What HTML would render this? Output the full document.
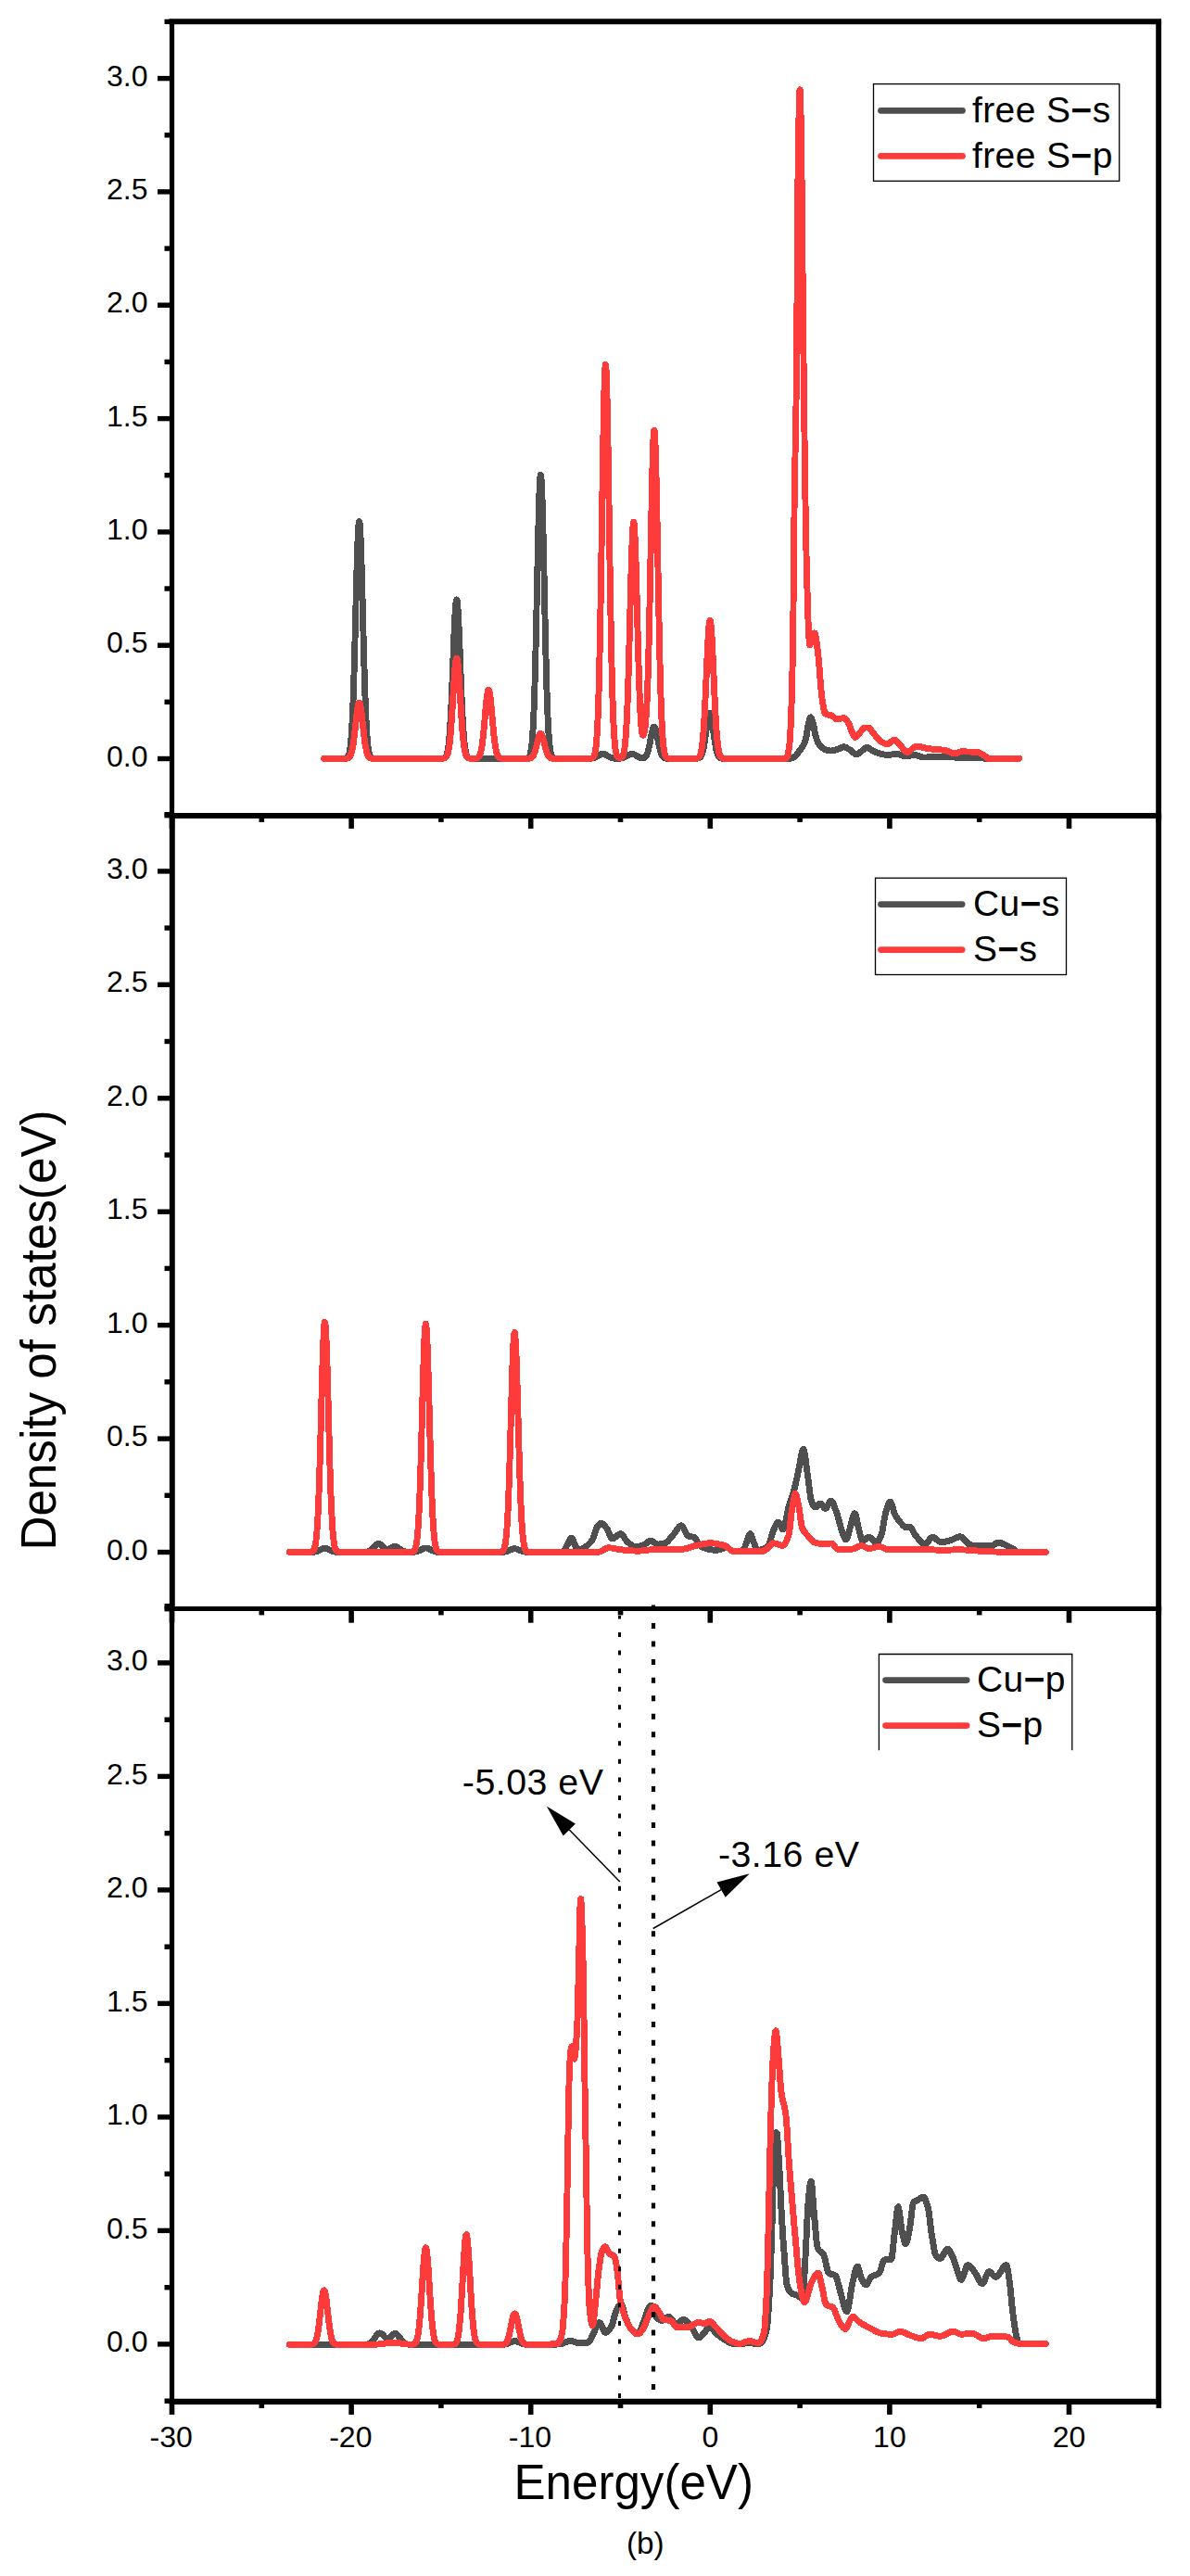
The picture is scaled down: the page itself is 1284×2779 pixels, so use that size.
<!DOCTYPE html>
<html lang="en">
<head>
<meta charset="utf-8">
<title>Density of states (b)</title>
<style>
html,body{margin:0;padding:0;background:#fff;}
body{width:1284px;height:2779px;overflow:hidden;}
svg{display:block;}
text{font-family:"Liberation Sans",Arial,Helvetica,sans-serif;}
</style>
</head>
<body>
<svg width="1284" height="2779" viewBox="0 0 1284 2779">
<rect x="0" y="0" width="1284" height="2779" fill="#ffffff"/>
<g id="curves" shape-rendering="crispEdges">
<polyline fill="none" stroke="#4f4f4f" stroke-width="6.9" stroke-linejoin="round" stroke-linecap="round" points="349.7,818.3 350.2,818.3 350.7,818.3 351.2,818.3 351.7,818.3 352.2,818.3 352.7,818.3 353.2,818.3 353.7,818.3 354.2,818.3 354.7,818.3 355.2,818.3 355.7,818.3 356.2,818.3 356.7,818.3 357.2,818.3 357.7,818.3 358.2,818.3 358.7,818.3 359.2,818.3 359.7,818.3 360.2,818.3 360.7,818.3 361.2,818.3 361.7,818.3 362.2,818.3 362.7,818.3 363.2,818.3 363.7,818.3 364.2,818.3 364.7,818.3 365.2,818.3 365.7,818.3 366.2,818.3 366.7,818.3 367.2,818.3 367.7,818.3 368.2,818.3 368.7,818.3 369.2,818.3 369.7,818.3 370.2,818.3 370.7,818.3 371.2,818.3 371.7,818.2 372.2,818.2 372.7,818.1 373.2,818.0 373.7,817.9 374.2,817.6 374.7,817.2 375.2,816.7 375.7,815.9 376.2,814.7 376.7,813.2 377.2,811.0 377.7,808.1 378.2,804.3 378.7,799.4 379.2,793.1 379.7,785.4 380.2,776.0 380.7,764.8 381.2,751.7 381.7,736.8 382.2,720.2 382.7,702.1 383.2,682.9 383.7,663.1 384.2,643.4 384.7,624.3 385.2,606.6 385.7,591.1 386.2,578.4 386.7,569.2 387.2,563.8 387.7,562.6 388.2,565.5 388.7,572.5 389.2,583.1 389.7,597.0 390.2,613.5 390.7,631.8 391.2,651.2 391.7,671.1 392.2,690.7 392.7,709.5 393.2,727.1 393.7,743.0 394.2,757.2 394.7,769.5 395.2,780.0 395.7,788.7 396.2,795.8 396.7,801.5 397.2,805.9 397.7,809.4 398.2,811.9 398.7,813.8 399.2,815.2 399.7,816.2 400.2,816.9 400.7,817.4 401.2,817.7 401.7,817.9 402.2,818.1 402.7,818.2 403.2,818.2 403.7,818.2 404.2,818.3 404.7,818.3 405.2,818.3 405.7,818.3 406.2,818.3 406.7,818.3 407.2,818.3 407.7,818.3 408.2,818.3 408.7,818.3 409.2,818.3 409.7,818.3 410.2,818.3 410.7,818.3 411.2,818.3 411.7,818.3 412.2,818.3 412.7,818.3 413.2,818.3 413.7,818.3 414.2,818.3 414.7,818.3 415.2,818.3 415.7,818.3 416.2,818.3 416.7,818.3 417.2,818.3 417.7,818.3 418.2,818.3 418.7,818.3 419.2,818.3 419.7,818.3 420.2,818.3 420.7,818.3 421.2,818.3 421.7,818.3 422.2,818.3 422.7,818.3 423.2,818.3 423.7,818.3 424.2,818.3 424.7,818.3 425.2,818.3 425.7,818.3 426.2,818.3 426.7,818.3 427.2,818.3 427.7,818.3 428.2,818.3 428.7,818.3 429.2,818.3 429.7,818.3 430.2,818.3 430.7,818.3 431.2,818.3 431.7,818.3 432.2,818.3 432.7,818.3 433.2,818.3 433.7,818.3 434.2,818.3 434.7,818.3 435.2,818.3 435.7,818.3 436.2,818.3 436.7,818.3 437.2,818.3 437.7,818.3 438.2,818.3 438.7,818.3 439.2,818.3 439.7,818.3 440.2,818.3 440.7,818.3 441.2,818.3 441.7,818.3 442.2,818.3 442.7,818.3 443.2,818.3 443.7,818.3 444.2,818.3 444.7,818.3 445.2,818.3 445.7,818.3 446.2,818.3 446.7,818.3 447.2,818.3 447.7,818.3 448.2,818.3 448.7,818.3 449.2,818.3 449.7,818.3 450.2,818.3 450.7,818.3 451.2,818.3 451.7,818.3 452.2,818.3 452.7,818.3 453.2,818.3 453.7,818.3 454.2,818.3 454.7,818.3 455.2,818.3 455.7,818.3 456.2,818.3 456.7,818.3 457.2,818.3 457.7,818.3 458.2,818.3 458.7,818.3 459.2,818.3 459.7,818.3 460.2,818.3 460.7,818.3 461.2,818.3 461.7,818.3 462.2,818.3 462.7,818.3 463.2,818.3 463.7,818.3 464.2,818.3 464.7,818.3 465.2,818.3 465.7,818.3 466.2,818.3 466.7,818.3 467.2,818.3 467.7,818.3 468.2,818.3 468.7,818.3 469.2,818.3 469.7,818.3 470.2,818.3 470.7,818.3 471.2,818.3 471.7,818.3 472.2,818.3 472.7,818.3 473.2,818.3 473.7,818.3 474.2,818.3 474.7,818.3 475.2,818.3 475.7,818.3 476.2,818.3 476.7,818.3 477.2,818.2 477.7,818.2 478.2,818.1 478.7,818.0 479.2,817.9 479.7,817.6 480.2,817.3 480.7,816.8 481.2,816.1 481.7,815.1 482.2,813.7 482.7,811.9 483.2,809.5 483.7,806.3 484.2,802.4 484.7,797.4 485.2,791.3 485.7,784.1 486.2,775.6 486.7,765.8 487.2,754.9 487.7,743.0 488.2,730.2 488.7,717.0 489.2,703.7 489.7,690.8 490.2,678.8 490.7,668.1 491.2,659.2 491.7,652.5 492.2,648.3 492.7,646.9 493.2,648.3 493.7,652.5 494.2,659.2 494.7,668.1 495.2,678.8 495.7,690.8 496.2,703.7 496.7,717.0 497.2,730.2 497.7,743.0 498.2,754.9 498.7,765.8 499.2,775.6 499.7,784.1 500.2,791.3 500.7,797.4 501.2,802.4 501.7,806.3 502.2,809.5 502.7,811.9 503.2,813.7 503.7,815.1 504.2,816.1 504.7,816.8 505.2,817.3 505.7,817.6 506.2,817.9 506.7,818.0 507.2,818.1 507.7,818.2 508.2,818.2 508.7,818.3 509.2,818.3 509.7,818.3 510.2,818.3 510.7,818.3 511.2,818.3 511.7,818.3 512.2,818.3 512.7,818.3 513.2,818.3 513.7,818.3 514.2,818.3 514.7,818.3 515.2,818.3 515.7,818.3 516.2,818.3 516.7,818.3 517.2,818.3 517.7,818.3 518.2,818.3 518.7,818.3 519.2,818.3 519.7,818.3 520.2,818.3 520.7,818.3 521.2,818.3 521.7,818.3 522.2,818.3 522.7,818.3 523.2,818.3 523.7,818.3 524.2,818.3 524.7,818.3 525.2,818.3 525.7,818.3 526.2,818.3 526.7,818.3 527.2,818.3 527.7,818.3 528.2,818.3 528.7,818.3 529.2,818.3 529.7,818.3 530.2,818.3 530.7,818.3 531.2,818.3 531.7,818.3 532.2,818.3 532.7,818.3 533.2,818.3 533.7,818.3 534.2,818.3 534.7,818.3 535.2,818.3 535.7,818.3 536.2,818.3 536.7,818.3 537.2,818.3 537.7,818.3 538.2,818.3 538.7,818.3 539.2,818.3 539.7,818.3 540.2,818.3 540.7,818.3 541.2,818.3 541.7,818.3 542.2,818.3 542.7,818.3 543.2,818.3 543.7,818.3 544.2,818.3 544.7,818.3 545.2,818.3 545.7,818.3 546.2,818.3 546.7,818.3 547.2,818.3 547.7,818.3 548.2,818.3 548.7,818.3 549.2,818.3 549.7,818.3 550.2,818.3 550.7,818.3 551.2,818.3 551.7,818.3 552.2,818.3 552.7,818.3 553.2,818.3 553.7,818.3 554.2,818.3 554.7,818.3 555.2,818.3 555.7,818.3 556.2,818.3 556.7,818.3 557.2,818.3 557.7,818.3 558.2,818.3 558.7,818.3 559.2,818.3 559.7,818.3 560.2,818.3 560.7,818.3 561.2,818.3 561.7,818.3 562.2,818.3 562.7,818.3 563.2,818.3 563.7,818.3 564.2,818.3 564.7,818.3 565.2,818.3 565.7,818.3 566.2,818.3 566.7,818.3 567.2,818.2 567.7,818.2 568.2,818.1 568.7,818.0 569.2,817.9 569.7,817.7 570.2,817.3 570.7,816.8 571.2,816.0 571.7,814.9 572.2,813.3 572.7,811.2 573.2,808.3 573.7,804.4 574.2,799.3 574.7,792.9 575.2,784.7 575.7,774.7 576.2,762.6 576.7,748.3 577.2,731.7 577.7,713.1 578.2,692.4 578.7,670.2 579.2,646.8 579.7,623.0 580.2,599.6 580.7,577.3 581.2,557.1 581.7,539.8 582.2,526.2 582.7,516.9 583.2,512.5 583.7,513.0 584.2,518.4 584.7,528.6 585.2,543.0 585.7,560.9 586.2,581.6 586.7,604.2 587.2,627.8 587.7,651.5 588.2,674.7 588.7,696.7 589.2,717.0 589.7,735.2 590.2,751.3 590.7,765.2 591.2,776.9 591.7,786.5 592.2,794.3 592.7,800.5 593.2,805.3 593.7,808.9 594.2,811.7 594.7,813.7 595.2,815.2 595.7,816.2 596.2,816.9 596.7,817.4 597.2,817.7 597.7,817.9 598.2,818.1 598.7,818.2 599.2,818.2 599.7,818.3 600.2,818.3 600.7,818.3 601.2,818.3 601.7,818.3 602.2,818.3 602.7,818.3 603.2,818.3 603.7,818.3 604.2,818.3 604.7,818.3 605.2,818.3 605.7,818.3 606.2,818.3 606.7,818.3 607.2,818.3 607.7,818.3 608.2,818.3 608.7,818.3 609.2,818.3 609.7,818.3 610.2,818.3 610.7,818.3 611.2,818.3 611.7,818.3 612.2,818.3 612.7,818.3 613.2,818.3 613.7,818.3 614.2,818.3 614.7,818.3 615.2,818.3 615.7,818.3 616.2,818.3 616.7,818.3 617.2,818.3 617.7,818.3 618.2,818.3 618.7,818.3 619.2,818.3 619.7,818.3 620.2,818.3 620.7,818.3 621.2,818.3 621.7,818.3 622.2,818.3 622.7,818.3 623.2,818.3 623.7,818.3 624.2,818.3 624.7,818.3 625.2,818.3 625.7,818.3 626.2,818.3 626.7,818.3 627.2,818.3 627.7,818.3 628.2,818.3 628.7,818.3 629.2,818.3 629.7,818.3 630.2,818.3 630.7,818.3 631.2,818.3 631.7,818.3 632.2,818.3 632.7,818.3 633.2,818.3 633.7,818.3 634.2,818.3 634.7,818.3 635.2,818.3 635.7,818.2 636.2,818.2 636.7,818.2 637.2,818.1 637.7,818.1 638.2,818.1 638.7,818.0 639.2,817.9 639.7,817.8 640.2,817.7 640.7,817.6 641.2,817.4 641.7,817.2 642.2,817.0 642.7,816.8 643.2,816.6 643.7,816.3 644.2,816.0 644.7,815.7 645.2,815.4 645.7,815.2 646.2,814.9 646.7,814.6 647.2,814.3 647.7,814.1 648.2,813.9 648.7,813.7 649.2,813.5 649.7,813.5 650.2,813.4 650.7,813.4 651.2,813.5 651.7,813.6 652.2,813.7 652.7,813.9 653.2,814.1 653.7,814.4 654.2,814.6 654.7,814.9 655.2,815.2 655.7,815.5 656.2,815.8 656.7,816.1 657.2,816.4 657.7,816.6 658.2,816.8 658.7,817.1 659.2,817.3 659.7,817.4 660.2,817.6 660.7,817.7 661.2,817.8 661.7,817.9 662.2,818.0 662.7,818.1 663.2,818.1 663.7,818.2 664.2,818.2 664.7,818.2 665.2,818.2 665.7,818.2 666.2,818.2 666.7,818.2 667.2,818.2 667.7,818.2 668.2,818.2 668.7,818.1 669.2,818.1 669.7,818.0 670.2,818.0 670.7,817.9 671.2,817.8 671.7,817.6 672.2,817.5 672.7,817.3 673.2,817.1 673.7,816.9 674.2,816.7 674.7,816.5 675.2,816.2 675.7,815.9 676.2,815.6 676.7,815.3 677.2,815.0 677.7,814.7 678.2,814.5 678.7,814.2 679.2,814.0 679.7,813.8 680.2,813.6 680.7,813.5 681.2,813.4 681.7,813.4 682.2,813.4 682.7,813.5 683.2,813.6 683.7,813.8 684.2,814.0 684.7,814.2 685.2,814.5 685.7,814.7 686.2,815.0 686.7,815.3 687.2,815.6 687.7,815.9 688.2,816.2 688.7,816.5 689.2,816.7 689.7,816.9 690.2,817.1 690.7,817.3 691.2,817.5 691.7,817.6 692.2,817.7 692.7,817.8 693.2,817.8 693.7,817.8 694.2,817.7 694.7,817.6 695.2,817.4 695.7,817.1 696.2,816.7 696.7,816.1 697.2,815.4 697.7,814.5 698.2,813.4 698.7,812.0 699.2,810.5 699.7,808.6 700.2,806.5 700.7,804.2 701.2,801.7 701.7,799.1 702.2,796.4 702.7,793.8 703.2,791.3 703.7,789.1 704.2,787.1 704.7,785.6 705.2,784.6 705.7,784.1 706.2,784.1 706.7,784.7 707.2,785.9 707.7,787.5 708.2,789.5 708.7,791.8 709.2,794.3 709.7,797.0 710.2,799.6 710.7,802.2 711.2,804.7 711.7,807.0 712.2,809.0 712.7,810.8 713.2,812.4 713.7,813.7 714.2,814.7 714.7,815.6 715.2,816.3 715.7,816.8 716.2,817.3 716.7,817.6 717.2,817.8 717.7,817.9 718.2,818.1 718.7,818.1 719.2,818.2 719.7,818.2 720.2,818.3 720.7,818.3 721.2,818.3 721.7,818.3 722.2,818.3 722.7,818.3 723.2,818.3 723.7,818.3 724.2,818.3 724.7,818.3 725.2,818.3 725.7,818.3 726.2,818.3 726.7,818.3 727.2,818.3 727.7,818.3 728.2,818.3 728.7,818.3 729.2,818.3 729.7,818.3 730.2,818.3 730.7,818.3 731.2,818.3 731.7,818.3 732.2,818.3 732.7,818.3 733.2,818.3 733.7,818.3 734.2,818.3 734.7,818.3 735.2,818.3 735.7,818.3 736.2,818.3 736.7,818.3 737.2,818.3 737.7,818.3 738.2,818.3 738.7,818.3 739.2,818.3 739.7,818.3 740.2,818.3 740.7,818.3 741.2,818.3 741.7,818.3 742.2,818.3 742.7,818.3 743.2,818.3 743.7,818.3 744.2,818.3 744.7,818.3 745.2,818.3 745.7,818.3 746.2,818.3 746.7,818.3 747.2,818.3 747.7,818.3 748.2,818.3 748.7,818.3 749.2,818.3 749.7,818.3 750.2,818.3 750.7,818.3 751.2,818.3 751.7,818.2 752.2,818.2 752.7,818.1 753.2,818.0 753.7,817.9 754.2,817.7 754.7,817.4 755.2,817.1 755.7,816.6 756.2,815.9 756.7,815.1 757.2,814.0 757.7,812.6 758.2,811.0 758.7,809.0 759.2,806.6 759.7,803.9 760.2,800.8 760.7,797.5 761.2,793.9 761.7,790.1 762.2,786.3 762.7,782.6 763.2,779.1 763.7,775.9 764.2,773.3 764.7,771.2 765.2,769.9 765.7,769.4 766.2,769.6 766.7,770.6 767.2,772.4 767.7,774.8 768.2,777.8 768.7,781.2 769.2,784.8 769.7,788.6 770.2,792.4 770.7,796.1 771.2,799.5 771.7,802.7 772.2,805.6 772.7,808.1 773.2,810.2 773.7,812.0 774.2,813.5 774.7,814.7 775.2,815.6 775.7,816.3 776.2,816.9 776.7,817.3 777.2,817.6 777.7,817.8 778.2,818.0 778.7,818.1 779.2,818.2 779.7,818.2 780.2,818.2 780.7,818.3 781.2,818.3 781.7,818.3 782.2,818.3 782.7,818.3 783.2,818.3 783.7,818.3 784.2,818.3 784.7,818.3 785.2,818.3 785.7,818.3 786.2,818.3 786.7,818.3 787.2,818.3 787.7,818.3 788.2,818.3 788.7,818.3 789.2,818.3 789.7,818.3 790.2,818.3 790.7,818.3 791.2,818.3 791.7,818.3 792.2,818.3 792.7,818.3 793.2,818.3 793.7,818.3 794.2,818.3 794.7,818.3 795.2,818.3 795.7,818.3 796.2,818.3 796.7,818.3 797.2,818.3 797.7,818.3 798.2,818.3 798.7,818.3 799.2,818.3 799.7,818.3 800.2,818.3 800.7,818.3 801.2,818.3 801.7,818.3 802.2,818.3 802.7,818.3 803.2,818.3 803.7,818.3 804.2,818.3 804.7,818.3 805.2,818.3 805.7,818.3 806.2,818.3 806.7,818.3 807.2,818.3 807.7,818.3 808.2,818.3 808.7,818.3 809.2,818.3 809.7,818.3 810.2,818.3 810.7,818.3 811.2,818.3 811.7,818.3 812.2,818.3 812.7,818.3 813.2,818.3 813.7,818.3 814.2,818.3 814.7,818.3 815.2,818.3 815.7,818.3 816.2,818.3 816.7,818.3 817.2,818.3 817.7,818.3 818.2,818.3 818.7,818.3 819.2,818.3 819.7,818.3 820.2,818.3 820.7,818.3 821.2,818.3 821.7,818.3 822.2,818.3 822.7,818.3 823.2,818.3 823.7,818.3 824.2,818.3 824.7,818.3 825.2,818.3 825.7,818.3 826.2,818.3 826.7,818.3 827.2,818.3 827.7,818.3 828.2,818.3 828.7,818.3 829.2,818.3 829.7,818.3 830.2,818.3 830.7,818.3 831.2,818.3 831.7,818.3 832.2,818.3 832.7,818.3 833.2,818.3 833.7,818.3 834.2,818.3 834.7,818.3 835.2,818.3 835.7,818.3 836.2,818.3 836.7,818.3 837.2,818.3 837.7,818.3 838.2,818.3 838.7,818.3 839.2,818.3 839.7,818.3 840.2,818.3 840.7,818.3 841.2,818.3 841.7,818.3 842.2,818.3 842.7,818.3 843.2,818.3 843.7,818.3 844.2,818.3 844.7,818.3 845.2,818.3 845.7,818.3 846.2,818.3 846.7,818.3 847.2,818.3 847.7,818.3 848.2,818.3 848.7,818.3 849.2,818.3 849.7,818.3 850.2,818.3 850.7,818.3 851.2,818.3 851.7,818.3 852.2,818.3 852.7,818.2 853.2,818.1 853.7,818.0 854.2,817.8 854.7,817.7 855.2,817.5 855.7,817.2 856.2,817.0 856.7,816.8 857.2,816.5 857.7,816.2 858.2,815.8 858.7,815.3 859.2,814.7 859.7,814.1 860.2,813.4 860.7,812.7 861.2,812.0 861.7,811.3 862.2,810.6 862.7,809.9 863.2,809.2 863.7,808.5 864.2,807.9 864.7,807.2 865.2,806.5 865.7,805.7 866.2,804.9 866.7,804.0 867.2,803.0 867.7,802.0 868.2,800.7 868.7,799.3 869.2,797.7 869.7,795.8 870.2,793.7 870.7,790.6 871.2,786.6 871.7,783.3 872.2,781.1 872.7,779.0 873.2,777.1 873.7,775.5 874.2,774.4 874.7,773.9 875.2,774.2 875.7,775.1 876.2,776.6 876.7,778.4 877.2,780.4 877.7,782.4 878.2,784.5 878.7,787.2 879.2,790.0 879.7,792.5 880.2,794.4 880.7,796.1 881.2,797.6 881.7,799.0 882.2,800.3 882.7,801.4 883.2,802.2 883.7,803.0 884.2,803.7 884.7,804.3 885.2,804.9 885.7,805.5 886.2,806.0 886.7,806.5 887.2,806.9 887.7,807.2 888.2,807.5 888.7,807.8 889.2,808.0 889.7,808.3 890.2,808.5 890.7,808.7 891.2,808.9 891.7,809.1 892.2,809.2 892.7,809.4 893.2,809.5 893.7,809.7 894.2,809.8 894.7,809.9 895.2,809.9 895.7,810.0 896.2,810.0 896.7,810.0 897.2,810.0 897.7,809.9 898.2,809.8 898.7,809.8 899.2,809.7 899.7,809.6 900.2,809.4 900.7,809.3 901.2,809.2 901.7,809.0 902.2,808.9 902.7,808.7 903.2,808.6 903.7,808.5 904.2,808.3 904.7,808.1 905.2,807.9 905.7,807.7 906.2,807.4 906.7,807.1 907.2,806.8 907.7,806.6 908.2,806.4 908.7,806.1 909.2,806.0 909.7,805.9 910.2,805.8 910.7,805.8 911.2,805.9 911.7,806.0 912.2,806.2 912.7,806.4 913.2,806.6 913.7,806.9 914.2,807.2 914.7,807.5 915.2,807.8 915.7,808.1 916.2,808.4 916.7,808.7 917.2,809.0 917.7,809.4 918.2,809.7 918.7,810.2 919.2,810.6 919.7,811.1 920.2,811.6 920.7,812.0 921.2,812.5 921.7,812.8 922.2,813.2 922.7,813.5 923.2,813.7 923.7,813.8 924.2,813.8 924.7,813.7 925.2,813.5 925.7,813.3 926.2,813.0 926.7,812.6 927.2,812.2 927.7,811.8 928.2,811.4 928.7,811.0 929.2,810.6 929.7,810.2 930.2,809.9 930.7,809.5 931.2,809.1 931.7,808.7 932.2,808.2 932.7,807.8 933.2,807.4 933.7,807.1 934.2,806.8 934.7,806.6 935.2,806.5 935.7,806.5 936.2,806.6 936.7,806.8 937.2,807.1 937.7,807.4 938.2,807.7 938.7,808.1 939.2,808.4 939.7,808.8 940.2,809.1 940.7,809.4 941.2,809.6 941.7,809.9 942.2,810.1 942.7,810.4 943.2,810.6 943.7,810.8 944.2,811.1 944.7,811.3 945.2,811.5 945.7,811.7 946.2,811.9 946.7,812.1 947.2,812.3 947.7,812.4 948.2,812.6 948.7,812.7 949.2,812.9 949.7,813.0 950.2,813.1 950.7,813.3 951.2,813.4 951.7,813.5 952.2,813.7 952.7,813.8 953.2,813.9 953.7,814.0 954.2,814.1 954.7,814.2 955.2,814.2 955.7,814.3 956.2,814.4 956.7,814.4 957.2,814.4 957.7,814.4 958.2,814.4 958.7,814.4 959.2,814.3 959.7,814.3 960.2,814.2 960.7,814.1 961.2,814.1 961.7,814.0 962.2,813.9 962.7,813.9 963.2,813.8 963.7,813.7 964.2,813.7 964.7,813.6 965.2,813.5 965.7,813.5 966.2,813.4 966.7,813.4 967.2,813.4 967.7,813.4 968.2,813.4 968.7,813.5 969.2,813.6 969.7,813.7 970.2,813.9 970.7,814.0 971.2,814.2 971.7,814.4 972.2,814.6 972.7,814.8 973.2,815.0 973.7,815.2 974.2,815.3 974.7,815.5 975.2,815.7 975.7,815.8 976.2,815.9 976.7,816.0 977.2,816.0 977.7,816.0 978.2,816.0 978.7,815.9 979.2,815.8 979.7,815.8 980.2,815.6 980.7,815.5 981.2,815.4 981.7,815.3 982.2,815.1 982.7,815.0 983.2,814.9 983.7,814.8 984.2,814.6 984.7,814.6 985.2,814.5 985.7,814.4 986.2,814.4 986.7,814.4 987.2,814.4 987.7,814.5 988.2,814.6 988.7,814.7 989.2,814.9 989.7,815.1 990.2,815.2 990.7,815.4 991.2,815.6 991.7,815.8 992.2,816.0 992.7,816.2 993.2,816.3 993.7,816.5 994.2,816.7 994.7,816.8 995.2,816.9 995.7,817.0 996.2,817.0 996.7,817.0 997.2,817.0 997.7,817.0 998.2,817.0 998.7,817.0 999.2,817.0 999.7,817.0 1000.2,817.0 1000.7,816.9 1001.2,816.9 1001.7,816.9 1002.2,816.9 1002.7,816.9 1003.2,816.9 1003.7,816.9 1004.2,816.8 1004.7,816.8 1005.2,816.8 1005.7,816.8 1006.2,816.8 1006.7,816.7 1007.2,816.7 1007.7,816.7 1008.2,816.7 1008.7,816.7 1009.2,816.7 1009.7,816.6 1010.2,816.6 1010.7,816.6 1011.2,816.6 1011.7,816.6 1012.2,816.6 1012.7,816.5 1013.2,816.5 1013.7,816.5 1014.2,816.5 1014.7,816.5 1015.2,816.5 1015.7,816.5 1016.2,816.5 1016.7,816.5 1017.2,816.5 1017.7,816.5 1018.2,816.5 1018.7,816.5 1019.2,816.5 1019.7,816.5 1020.2,816.6 1020.7,816.6 1021.2,816.6 1021.7,816.6 1022.2,816.6 1022.7,816.7 1023.2,816.7 1023.7,816.7 1024.2,816.7 1024.7,816.7 1025.2,816.8 1025.7,816.8 1026.2,816.8 1026.7,816.9 1027.2,816.9 1027.7,816.9 1028.2,816.9 1028.7,817.0 1029.2,817.0 1029.7,817.0 1030.2,817.0 1030.7,817.1 1031.2,817.1 1031.7,817.1 1032.2,817.1 1032.7,817.1 1033.2,817.2 1033.7,817.2 1034.2,817.2 1034.7,817.2 1035.2,817.2 1035.7,817.2 1036.2,817.3 1036.7,817.3 1037.2,817.3 1037.7,817.3 1038.2,817.3 1038.7,817.3 1039.2,817.3 1039.7,817.3 1040.2,817.3 1040.7,817.3 1041.2,817.4 1041.7,817.4 1042.2,817.4 1042.7,817.4 1043.2,817.4 1043.7,817.4 1044.2,817.4 1044.7,817.4 1045.2,817.4 1045.7,817.4 1046.2,817.4 1046.7,817.4 1047.2,817.5 1047.7,817.5 1048.2,817.5 1048.7,817.5 1049.2,817.5 1049.7,817.5 1050.2,817.5 1050.7,817.5 1051.2,817.5 1051.7,817.5 1052.2,817.6 1052.7,817.6 1053.2,817.6 1053.7,817.6 1054.2,817.6 1054.7,817.6 1055.2,817.6 1055.7,817.7 1056.2,817.7 1056.7,817.7 1057.2,817.7 1057.7,817.7 1058.2,817.8 1058.7,817.8 1059.2,817.8 1059.7,817.9 1060.2,817.9 1060.7,818.0 1061.2,818.0 1061.7,818.1 1062.2,818.1 1062.7,818.2 1063.2,818.2 1063.7,818.2 1064.2,818.3 1064.7,818.3 1065.2,818.3 1065.7,818.3 1066.2,818.3 1066.7,818.3 1067.2,818.3 1067.7,818.3 1068.2,818.3 1068.7,818.3 1069.2,818.3 1069.7,818.3 1070.2,818.3 1070.7,818.3 1071.2,818.3 1071.7,818.3 1072.2,818.3 1072.7,818.3 1073.2,818.3 1073.7,818.3 1074.2,818.3 1074.7,818.3 1075.2,818.3 1075.7,818.3 1076.2,818.3 1076.7,818.3 1077.2,818.3 1077.7,818.3 1078.2,818.3 1078.7,818.3 1079.2,818.3 1079.7,818.3 1080.2,818.3 1080.7,818.3 1081.2,818.3 1081.7,818.3 1082.2,818.3 1082.7,818.3 1083.2,818.3 1083.7,818.3 1084.2,818.3 1084.7,818.3 1085.2,818.3 1085.7,818.3 1086.2,818.3 1086.7,818.3 1087.2,818.3 1087.7,818.3 1088.2,818.3 1088.7,818.3 1089.2,818.3 1089.7,818.3 1090.2,818.3 1090.7,818.3 1091.2,818.3 1091.7,818.3 1092.2,818.3 1092.7,818.3 1093.2,818.3 1093.7,818.3 1094.2,818.3 1094.7,818.3 1095.2,818.3 1095.7,818.3 1096.2,818.3 1096.7,818.3 1097.2,818.3 1097.7,818.3 1098.2,818.3 1098.7,818.3 1099.2,818.3 1099.7,818.3"/>
<polyline fill="none" stroke="#fd3b3b" stroke-width="6.9" stroke-linejoin="round" stroke-linecap="round" points="349.7,818.3 350.2,818.3 350.7,818.3 351.2,818.3 351.7,818.3 352.2,818.3 352.7,818.3 353.2,818.3 353.7,818.3 354.2,818.3 354.7,818.3 355.2,818.3 355.7,818.3 356.2,818.3 356.7,818.3 357.2,818.3 357.7,818.3 358.2,818.3 358.7,818.3 359.2,818.3 359.7,818.3 360.2,818.3 360.7,818.3 361.2,818.3 361.7,818.3 362.2,818.3 362.7,818.3 363.2,818.3 363.7,818.3 364.2,818.3 364.7,818.3 365.2,818.3 365.7,818.3 366.2,818.3 366.7,818.3 367.2,818.3 367.7,818.3 368.2,818.3 368.7,818.3 369.2,818.3 369.7,818.3 370.2,818.3 370.7,818.3 371.2,818.3 371.7,818.3 372.2,818.3 372.7,818.3 373.2,818.2 373.7,818.2 374.2,818.1 374.7,818.0 375.2,817.9 375.7,817.7 376.2,817.5 376.7,817.1 377.2,816.6 377.7,815.9 378.2,815.0 378.7,813.8 379.2,812.4 379.7,810.6 380.2,808.3 380.7,805.7 381.2,802.6 381.7,799.1 382.2,795.2 382.7,790.9 383.2,786.4 383.7,781.8 384.2,777.1 384.7,772.6 385.2,768.5 385.7,764.8 386.2,761.8 386.7,759.7 387.2,758.4 387.7,758.1 388.2,758.8 388.7,760.4 389.2,762.9 389.7,766.2 390.2,770.1 390.7,774.4 391.2,779.0 391.7,783.6 392.2,788.3 392.7,792.7 393.2,796.8 393.7,800.6 394.2,803.9 394.7,806.8 395.2,809.3 395.7,811.3 396.2,813.0 396.7,814.3 397.2,815.4 397.7,816.2 398.2,816.8 398.7,817.3 399.2,817.6 399.7,817.8 400.2,818.0 400.7,818.1 401.2,818.2 401.7,818.2 402.2,818.2 402.7,818.3 403.2,818.3 403.7,818.3 404.2,818.3 404.7,818.3 405.2,818.3 405.7,818.3 406.2,818.3 406.7,818.3 407.2,818.3 407.7,818.3 408.2,818.3 408.7,818.3 409.2,818.3 409.7,818.3 410.2,818.3 410.7,818.3 411.2,818.3 411.7,818.3 412.2,818.3 412.7,818.3 413.2,818.3 413.7,818.3 414.2,818.3 414.7,818.3 415.2,818.3 415.7,818.3 416.2,818.3 416.7,818.3 417.2,818.3 417.7,818.3 418.2,818.3 418.7,818.3 419.2,818.3 419.7,818.3 420.2,818.3 420.7,818.3 421.2,818.3 421.7,818.3 422.2,818.3 422.7,818.3 423.2,818.3 423.7,818.3 424.2,818.3 424.7,818.3 425.2,818.3 425.7,818.3 426.2,818.3 426.7,818.3 427.2,818.3 427.7,818.3 428.2,818.3 428.7,818.3 429.2,818.3 429.7,818.3 430.2,818.3 430.7,818.3 431.2,818.3 431.7,818.3 432.2,818.3 432.7,818.3 433.2,818.3 433.7,818.3 434.2,818.3 434.7,818.3 435.2,818.3 435.7,818.3 436.2,818.3 436.7,818.3 437.2,818.3 437.7,818.3 438.2,818.3 438.7,818.3 439.2,818.3 439.7,818.3 440.2,818.3 440.7,818.3 441.2,818.3 441.7,818.3 442.2,818.3 442.7,818.3 443.2,818.3 443.7,818.3 444.2,818.3 444.7,818.3 445.2,818.3 445.7,818.3 446.2,818.3 446.7,818.3 447.2,818.3 447.7,818.3 448.2,818.3 448.7,818.3 449.2,818.3 449.7,818.3 450.2,818.3 450.7,818.3 451.2,818.3 451.7,818.3 452.2,818.3 452.7,818.3 453.2,818.3 453.7,818.3 454.2,818.3 454.7,818.3 455.2,818.3 455.7,818.3 456.2,818.3 456.7,818.3 457.2,818.3 457.7,818.3 458.2,818.3 458.7,818.3 459.2,818.3 459.7,818.3 460.2,818.3 460.7,818.3 461.2,818.3 461.7,818.3 462.2,818.3 462.7,818.3 463.2,818.3 463.7,818.3 464.2,818.3 464.7,818.3 465.2,818.3 465.7,818.3 466.2,818.3 466.7,818.3 467.2,818.3 467.7,818.3 468.2,818.3 468.7,818.3 469.2,818.3 469.7,818.3 470.2,818.3 470.7,818.3 471.2,818.3 471.7,818.3 472.2,818.3 472.7,818.3 473.2,818.3 473.7,818.3 474.2,818.3 474.7,818.3 475.2,818.3 475.7,818.3 476.2,818.3 476.7,818.3 477.2,818.3 477.7,818.2 478.2,818.2 478.7,818.1 479.2,818.0 479.7,817.9 480.2,817.7 480.7,817.3 481.2,816.9 481.7,816.3 482.2,815.4 482.7,814.3 483.2,812.7 483.7,810.8 484.2,808.2 484.7,805.1 485.2,801.3 485.7,796.7 486.2,791.3 486.7,785.2 487.2,778.3 487.7,770.7 488.2,762.7 488.7,754.4 489.2,746.0 489.7,737.8 490.2,730.2 490.7,723.4 491.2,717.8 491.7,713.6 492.2,711.0 492.7,710.1 493.2,711.0 493.7,713.6 494.2,717.8 494.7,723.4 495.2,730.2 495.7,737.8 496.2,746.0 496.7,754.4 497.2,762.7 497.7,770.7 498.2,778.3 498.7,785.2 499.2,791.3 499.7,796.7 500.2,801.3 500.7,805.1 501.2,808.2 501.7,810.8 502.2,812.7 502.7,814.3 503.2,815.4 503.7,816.3 504.2,816.9 504.7,817.3 505.2,817.7 505.7,817.9 506.2,818.0 506.7,818.1 507.2,818.2 507.7,818.2 508.2,818.3 508.7,818.3 509.2,818.3 509.7,818.3 510.2,818.3 510.7,818.3 511.2,818.3 511.7,818.3 512.2,818.3 512.7,818.2 513.2,818.2 513.7,818.1 514.2,818.0 514.7,817.9 515.2,817.6 515.7,817.3 516.2,816.9 516.7,816.3 517.2,815.5 517.7,814.5 518.2,813.1 518.7,811.4 519.2,809.3 519.7,806.6 520.2,803.5 520.7,799.8 521.2,795.6 521.7,790.9 522.2,785.7 522.7,780.2 523.2,774.5 523.7,768.7 524.2,763.1 524.7,757.9 525.2,753.3 525.7,749.4 526.2,746.5 526.7,744.7 527.2,744.1 527.7,744.7 528.2,746.5 528.7,749.4 529.2,753.3 529.7,757.9 530.2,763.1 530.7,768.7 531.2,774.5 531.7,780.2 532.2,785.7 532.7,790.9 533.2,795.6 533.7,799.8 534.2,803.5 534.7,806.6 535.2,809.3 535.7,811.4 536.2,813.1 536.7,814.5 537.2,815.5 537.7,816.3 538.2,816.9 538.7,817.3 539.2,817.6 539.7,817.9 540.2,818.0 540.7,818.1 541.2,818.2 541.7,818.2 542.2,818.3 542.7,818.3 543.2,818.3 543.7,818.3 544.2,818.3 544.7,818.3 545.2,818.3 545.7,818.3 546.2,818.3 546.7,818.3 547.2,818.3 547.7,818.3 548.2,818.3 548.7,818.3 549.2,818.3 549.7,818.3 550.2,818.3 550.7,818.3 551.2,818.3 551.7,818.3 552.2,818.3 552.7,818.3 553.2,818.3 553.7,818.3 554.2,818.3 554.7,818.3 555.2,818.3 555.7,818.3 556.2,818.3 556.7,818.3 557.2,818.3 557.7,818.3 558.2,818.3 558.7,818.3 559.2,818.3 559.7,818.3 560.2,818.3 560.7,818.3 561.2,818.3 561.7,818.3 562.2,818.3 562.7,818.3 563.2,818.3 563.7,818.3 564.2,818.3 564.7,818.3 565.2,818.3 565.7,818.3 566.2,818.3 566.7,818.3 567.2,818.3 567.7,818.3 568.2,818.3 568.7,818.3 569.2,818.3 569.7,818.2 570.2,818.2 570.7,818.2 571.2,818.1 571.7,818.0 572.2,817.9 572.7,817.7 573.2,817.4 573.7,817.1 574.2,816.6 574.7,816.1 575.2,815.3 575.7,814.5 576.2,813.4 576.7,812.1 577.2,810.7 577.7,809.0 578.2,807.2 578.7,805.3 579.2,803.2 579.7,801.1 580.2,799.1 580.7,797.1 581.2,795.3 581.7,793.8 582.2,792.6 582.7,791.8 583.2,791.4 583.7,791.5 584.2,791.9 584.7,792.8 585.2,794.1 585.7,795.7 586.2,797.5 586.7,799.5 587.2,801.5 587.7,803.6 588.2,805.7 588.7,807.6 589.2,809.4 589.7,811.0 590.2,812.4 590.7,813.6 591.2,814.7 591.7,815.5 592.2,816.2 592.7,816.7 593.2,817.2 593.7,817.5 594.2,817.7 594.7,817.9 595.2,818.0 595.7,818.1 596.2,818.2 596.7,818.2 597.2,818.2 597.7,818.3 598.2,818.3 598.7,818.3 599.2,818.3 599.7,818.3 600.2,818.3 600.7,818.3 601.2,818.3 601.7,818.3 602.2,818.3 602.7,818.3 603.2,818.3 603.7,818.3 604.2,818.3 604.7,818.3 605.2,818.3 605.7,818.3 606.2,818.3 606.7,818.3 607.2,818.3 607.7,818.3 608.2,818.3 608.7,818.3 609.2,818.3 609.7,818.3 610.2,818.3 610.7,818.3 611.2,818.3 611.7,818.3 612.2,818.3 612.7,818.3 613.2,818.3 613.7,818.3 614.2,818.3 614.7,818.3 615.2,818.3 615.7,818.3 616.2,818.3 616.7,818.3 617.2,818.3 617.7,818.3 618.2,818.3 618.7,818.3 619.2,818.3 619.7,818.3 620.2,818.3 620.7,818.3 621.2,818.3 621.7,818.3 622.2,818.3 622.7,818.3 623.2,818.3 623.7,818.3 624.2,818.3 624.7,818.3 625.2,818.3 625.7,818.3 626.2,818.3 626.7,818.3 627.2,818.3 627.7,818.3 628.2,818.3 628.7,818.3 629.2,818.3 629.7,818.3 630.2,818.3 630.7,818.3 631.2,818.3 631.7,818.3 632.2,818.3 632.7,818.3 633.2,818.3 633.7,818.3 634.2,818.3 634.7,818.3 635.2,818.3 635.7,818.3 636.2,818.3 636.7,818.3 637.2,818.2 637.7,818.2 638.2,818.1 638.7,818.0 639.2,817.7 639.7,817.4 640.2,816.9 640.7,816.2 641.2,815.1 641.7,813.6 642.2,811.4 642.7,808.4 643.2,804.4 643.7,799.0 644.2,792.0 644.7,783.0 645.2,771.6 645.7,757.7 646.2,740.9 646.7,721.0 647.2,698.1 647.7,672.1 648.2,643.4 648.7,612.5 649.2,580.1 649.7,547.0 650.2,514.4 650.7,483.5 651.2,455.4 651.7,431.4 652.2,412.5 652.7,399.6 653.2,393.4 653.7,394.1 654.2,401.7 654.7,415.8 655.2,435.8 655.7,460.7 656.2,489.5 656.7,520.9 657.2,553.6 657.7,586.6 658.2,618.8 658.7,649.3 659.2,677.5 659.7,702.9 660.2,725.3 660.7,744.5 661.2,760.7 661.7,774.1 662.2,784.9 662.7,793.5 663.2,800.2 663.7,805.3 664.2,809.1 664.7,811.9 665.2,813.9 665.7,815.3 666.2,816.3 666.7,817.0 667.2,817.5 667.7,817.7 668.2,817.9 668.7,817.9 669.2,817.9 669.7,817.8 670.2,817.6 670.7,817.3 671.2,816.8 671.7,816.0 672.2,815.0 672.7,813.5 673.2,811.5 673.7,808.8 674.2,805.2 674.7,800.5 675.2,794.6 675.7,787.2 676.2,778.2 676.7,767.4 677.2,754.7 677.7,740.2 678.2,723.9 678.7,706.2 679.2,687.2 679.7,667.6 680.2,647.8 680.7,628.5 681.2,610.6 681.7,594.6 682.2,581.4 682.7,571.5 683.2,565.3 683.7,563.2 684.2,565.3 684.7,571.5 685.2,581.4 685.7,594.6 686.2,610.5 686.7,628.4 687.2,647.5 687.7,667.2 688.2,686.6 688.7,705.3 689.2,722.6 689.7,738.2 690.2,751.9 690.7,763.6 691.2,773.1 691.7,780.6 692.2,786.2 692.7,790.0 693.2,792.3 693.7,793.3 694.2,793.2 694.7,792.2 695.2,790.2 695.7,787.4 696.2,783.6 696.7,778.7 697.2,772.4 697.7,764.5 698.2,754.5 698.7,742.3 699.2,727.5 699.7,710.1 700.2,690.1 700.7,667.6 701.2,643.1 701.7,617.1 702.2,590.4 702.7,563.9 703.2,538.6 703.7,515.5 704.2,495.8 704.7,480.2 705.2,469.6 705.7,464.4 706.2,465.1 706.7,471.4 707.2,483.2 707.7,499.9 708.2,520.6 708.7,544.5 709.2,570.7 709.7,597.9 710.2,625.4 710.7,652.2 711.2,677.6 711.7,701.1 712.2,722.2 712.7,740.8 713.2,756.9 713.7,770.4 714.2,781.5 714.7,790.5 715.2,797.7 715.7,803.2 716.2,807.5 716.7,810.6 717.2,813.0 717.7,814.7 718.2,815.8 718.7,816.7 719.2,817.2 719.7,817.6 720.2,817.9 720.7,818.0 721.2,818.1 721.7,818.2 722.2,818.2 722.7,818.3 723.2,818.3 723.7,818.3 724.2,818.3 724.7,818.3 725.2,818.3 725.7,818.3 726.2,818.3 726.7,818.3 727.2,818.3 727.7,818.3 728.2,818.3 728.7,818.3 729.2,818.3 729.7,818.3 730.2,818.3 730.7,818.3 731.2,818.3 731.7,818.3 732.2,818.3 732.7,818.3 733.2,818.3 733.7,818.3 734.2,818.3 734.7,818.3 735.2,818.3 735.7,818.3 736.2,818.3 736.7,818.3 737.2,818.3 737.7,818.3 738.2,818.3 738.7,818.3 739.2,818.3 739.7,818.3 740.2,818.3 740.7,818.3 741.2,818.3 741.7,818.3 742.2,818.3 742.7,818.3 743.2,818.3 743.7,818.3 744.2,818.3 744.7,818.3 745.2,818.3 745.7,818.3 746.2,818.3 746.7,818.3 747.2,818.3 747.7,818.3 748.2,818.3 748.7,818.3 749.2,818.3 749.7,818.3 750.2,818.3 750.7,818.2 751.2,818.2 751.7,818.1 752.2,818.0 752.7,817.9 753.2,817.7 753.7,817.3 754.2,816.9 754.7,816.2 755.2,815.3 755.7,814.0 756.2,812.4 756.7,810.1 757.2,807.3 757.7,803.6 758.2,799.1 758.7,793.7 759.2,787.1 759.7,779.5 760.2,770.8 760.7,761.1 761.2,750.6 761.7,739.4 762.2,727.9 762.7,716.3 763.2,705.2 763.7,694.9 764.2,685.9 764.7,678.5 765.2,673.1 765.7,670.0 766.2,669.3 766.7,671.0 767.2,675.0 767.7,681.2 768.2,689.3 768.7,698.9 769.2,709.6 769.7,720.9 770.2,732.5 770.7,743.9 771.2,754.9 771.7,765.1 772.2,774.4 772.7,782.7 773.2,789.9 773.7,796.0 774.2,801.1 774.7,805.2 775.2,808.5 775.7,811.1 776.2,813.1 776.7,814.6 777.2,815.7 777.7,816.5 778.2,817.1 778.7,817.5 779.2,817.8 779.7,818.0 780.2,818.1 780.7,818.2 781.2,818.2 781.7,818.2 782.2,818.3 782.7,818.3 783.2,818.3 783.7,818.3 784.2,818.3 784.7,818.3 785.2,818.3 785.7,818.3 786.2,818.3 786.7,818.3 787.2,818.3 787.7,818.3 788.2,818.3 788.7,818.3 789.2,818.3 789.7,818.3 790.2,818.3 790.7,818.3 791.2,818.3 791.7,818.3 792.2,818.3 792.7,818.3 793.2,818.3 793.7,818.3 794.2,818.3 794.7,818.3 795.2,818.3 795.7,818.3 796.2,818.3 796.7,818.3 797.2,818.3 797.7,818.3 798.2,818.3 798.7,818.3 799.2,818.3 799.7,818.3 800.2,818.3 800.7,818.3 801.2,818.3 801.7,818.3 802.2,818.3 802.7,818.3 803.2,818.3 803.7,818.3 804.2,818.3 804.7,818.3 805.2,818.3 805.7,818.3 806.2,818.3 806.7,818.3 807.2,818.3 807.7,818.3 808.2,818.3 808.7,818.3 809.2,818.3 809.7,818.3 810.2,818.3 810.7,818.3 811.2,818.3 811.7,818.3 812.2,818.3 812.7,818.3 813.2,818.3 813.7,818.3 814.2,818.3 814.7,818.3 815.2,818.3 815.7,818.3 816.2,818.3 816.7,818.3 817.2,818.3 817.7,818.3 818.2,818.3 818.7,818.3 819.2,818.3 819.7,818.3 820.2,818.3 820.7,818.3 821.2,818.3 821.7,818.3 822.2,818.3 822.7,818.3 823.2,818.3 823.7,818.3 824.2,818.3 824.7,818.3 825.2,818.3 825.7,818.3 826.2,818.3 826.7,818.3 827.2,818.3 827.7,818.3 828.2,818.3 828.7,818.3 829.2,818.3 829.7,818.3 830.2,818.3 830.7,818.3 831.2,818.3 831.7,818.3 832.2,818.3 832.7,818.3 833.2,818.3 833.7,818.3 834.2,818.3 834.7,818.3 835.2,818.3 835.7,818.3 836.2,818.3 836.7,818.3 837.2,818.3 837.7,818.3 838.2,818.3 838.7,818.3 839.2,818.3 839.7,818.3 840.2,818.3 840.7,818.3 841.2,818.3 841.7,818.3 842.2,818.3 842.7,818.3 843.2,818.3 843.7,818.3 844.2,818.3 844.7,818.3 845.2,818.3 845.7,818.3 846.2,818.3 846.7,818.3 847.2,818.3 847.7,818.3 848.2,818.0 848.7,817.4 849.2,816.7 849.7,815.6 850.2,813.9 850.7,811.4 851.2,808.3 851.7,804.4 852.2,800.0 852.7,793.1 853.2,782.2 853.7,769.9 854.2,755.2 854.7,736.8 855.2,712.2 855.7,683.3 856.2,637.4 856.7,580.0 857.2,536.9 857.7,506.5 858.2,481.2 858.7,454.8 859.2,421.7 859.7,371.9 860.2,287.2 860.7,217.4 861.2,170.4 861.7,139.0 862.2,115.1 862.7,98.8 863.2,96.8 863.7,108.7 864.2,129.4 864.7,157.3 865.2,207.5 865.7,257.6 866.2,309.0 866.7,359.4 867.2,404.5 867.7,446.2 868.2,485.5 868.7,521.8 869.2,554.1 869.7,581.9 870.2,605.7 870.7,626.1 871.2,643.7 871.7,660.5 872.2,675.3 872.7,685.0 873.2,692.6 873.7,695.9 874.2,695.4 874.7,694.1 875.2,692.5 875.7,690.8 876.2,689.5 876.7,687.9 877.2,686.3 877.7,684.7 878.2,683.5 878.7,682.9 879.2,683.0 879.7,684.4 880.2,686.8 880.7,690.0 881.2,693.6 881.7,697.5 882.2,701.3 882.7,705.5 883.2,710.5 883.7,716.1 884.2,721.8 884.7,728.1 885.2,735.0 885.7,741.6 886.2,746.7 886.7,751.0 887.2,754.8 887.7,758.2 888.2,761.1 888.7,763.8 889.2,766.4 889.7,768.5 890.2,769.7 890.7,770.1 891.2,770.3 891.7,770.5 892.2,770.7 892.7,770.9 893.2,771.0 893.7,771.1 894.2,771.2 894.7,771.3 895.2,771.4 895.7,771.5 896.2,771.6 896.7,771.7 897.2,771.9 897.7,772.2 898.2,772.5 898.7,772.9 899.2,773.3 899.7,773.8 900.2,774.3 900.7,774.7 901.2,775.1 901.7,775.5 902.2,775.7 902.7,775.8 903.2,775.8 903.7,775.8 904.2,775.7 904.7,775.6 905.2,775.5 905.7,775.4 906.2,775.3 906.7,775.2 907.2,775.1 907.7,775.0 908.2,774.9 908.7,774.8 909.2,774.8 909.7,774.7 910.2,774.7 910.7,774.7 911.2,774.9 911.7,775.2 912.2,775.6 912.7,776.1 913.2,776.7 913.7,777.3 914.2,778.0 914.7,778.8 915.2,779.6 915.7,780.4 916.2,781.3 916.7,782.5 917.2,783.9 917.7,785.5 918.2,787.0 918.7,788.4 919.2,789.5 919.7,790.6 920.2,791.6 920.7,792.7 921.2,793.6 921.7,794.4 922.2,795.0 922.7,795.3 923.2,795.3 923.7,795.1 924.2,794.7 924.7,794.2 925.2,793.6 925.7,793.0 926.2,792.3 926.7,791.7 927.2,791.1 927.7,790.5 928.2,790.0 928.7,789.4 929.2,788.8 929.7,788.1 930.2,787.5 930.7,786.8 931.2,786.3 931.7,785.8 932.2,785.4 932.7,785.1 933.2,785.0 933.7,785.0 934.2,785.0 934.7,785.0 935.2,785.0 935.7,785.0 936.2,785.0 936.7,785.0 937.2,785.0 937.7,785.1 938.2,785.5 938.7,785.9 939.2,786.5 939.7,787.2 940.2,787.9 940.7,788.6 941.2,789.4 941.7,790.0 942.2,790.6 942.7,791.3 943.2,791.9 943.7,792.6 944.2,793.3 944.7,793.9 945.2,794.6 945.7,795.2 946.2,795.8 946.7,796.3 947.2,796.9 947.7,797.5 948.2,798.0 948.7,798.5 949.2,798.9 949.7,799.3 950.2,799.6 950.7,799.9 951.2,800.2 951.7,800.5 952.2,800.8 952.7,801.1 953.2,801.4 953.7,801.6 954.2,801.8 954.7,802.0 955.2,802.2 955.7,802.4 956.2,802.5 956.7,802.6 957.2,802.6 957.7,802.6 958.2,802.5 958.7,802.3 959.2,802.0 959.7,801.7 960.2,801.3 960.7,800.9 961.2,800.4 961.7,800.0 962.2,799.6 962.7,799.2 963.2,798.9 963.7,798.6 964.2,798.4 964.7,798.3 965.2,798.3 965.7,798.4 966.2,798.7 966.7,799.0 967.2,799.4 967.7,799.9 968.2,800.4 968.7,801.0 969.2,801.6 969.7,802.2 970.2,802.8 970.7,803.3 971.2,803.8 971.7,804.3 972.2,804.9 972.7,805.5 973.2,806.1 973.7,806.8 974.2,807.4 974.7,808.1 975.2,808.7 975.7,809.3 976.2,809.9 976.7,810.4 977.2,810.8 977.7,811.1 978.2,811.3 978.7,811.4 979.2,811.4 979.7,811.3 980.2,811.1 980.7,810.8 981.2,810.5 981.7,810.1 982.2,809.7 982.7,809.3 983.2,808.9 983.7,808.4 984.2,807.9 984.7,807.5 985.2,807.0 985.7,806.6 986.2,806.2 986.7,805.9 987.2,805.6 987.7,805.3 988.2,805.2 988.7,805.1 989.2,805.1 989.7,805.1 990.2,805.2 990.7,805.2 991.2,805.3 991.7,805.3 992.2,805.4 992.7,805.5 993.2,805.6 993.7,805.8 994.2,805.9 994.7,806.0 995.2,806.1 995.7,806.3 996.2,806.4 996.7,806.5 997.2,806.7 997.7,806.8 998.2,806.9 998.7,807.1 999.2,807.2 999.7,807.3 1000.2,807.4 1000.7,807.5 1001.2,807.6 1001.7,807.6 1002.2,807.7 1002.7,807.8 1003.2,807.8 1003.7,807.9 1004.2,807.9 1004.7,808.0 1005.2,808.0 1005.7,808.1 1006.2,808.1 1006.7,808.2 1007.2,808.2 1007.7,808.2 1008.2,808.3 1008.7,808.3 1009.2,808.4 1009.7,808.4 1010.2,808.5 1010.7,808.5 1011.2,808.5 1011.7,808.6 1012.2,808.6 1012.7,808.7 1013.2,808.7 1013.7,808.7 1014.2,808.8 1014.7,808.8 1015.2,808.9 1015.7,809.0 1016.2,809.0 1016.7,809.1 1017.2,809.1 1017.7,809.2 1018.2,809.3 1018.7,809.3 1019.2,809.4 1019.7,809.5 1020.2,809.6 1020.7,809.8 1021.2,809.9 1021.7,810.1 1022.2,810.3 1022.7,810.4 1023.2,810.6 1023.7,810.8 1024.2,811.0 1024.7,811.2 1025.2,811.4 1025.7,811.6 1026.2,811.8 1026.7,812.0 1027.2,812.1 1027.7,812.3 1028.2,812.4 1028.7,812.5 1029.2,812.6 1029.7,812.7 1030.2,812.7 1030.7,812.7 1031.2,812.6 1031.7,812.5 1032.2,812.4 1032.7,812.2 1033.2,812.0 1033.7,811.8 1034.2,811.6 1034.7,811.4 1035.2,811.2 1035.7,811.0 1036.2,810.9 1036.7,810.9 1037.2,810.9 1037.7,810.9 1038.2,810.9 1038.7,810.9 1039.2,810.9 1039.7,810.9 1040.2,810.9 1040.7,810.9 1041.2,810.9 1041.7,810.9 1042.2,810.9 1042.7,811.0 1043.2,811.0 1043.7,811.0 1044.2,811.0 1044.7,811.0 1045.2,811.0 1045.7,811.0 1046.2,811.0 1046.7,811.0 1047.2,811.1 1047.7,811.1 1048.2,811.1 1048.7,811.1 1049.2,811.1 1049.7,811.2 1050.2,811.2 1050.7,811.2 1051.2,811.2 1051.7,811.3 1052.2,811.3 1052.7,811.3 1053.2,811.3 1053.7,811.4 1054.2,811.4 1054.7,811.4 1055.2,811.5 1055.7,811.6 1056.2,811.8 1056.7,812.0 1057.2,812.3 1057.7,812.5 1058.2,812.8 1058.7,813.1 1059.2,813.4 1059.7,813.8 1060.2,814.1 1060.7,814.4 1061.2,814.7 1061.7,815.0 1062.2,815.3 1062.7,815.7 1063.2,816.0 1063.7,816.4 1064.2,816.9 1064.7,817.3 1065.2,817.6 1065.7,817.9 1066.2,818.1 1066.7,818.3 1067.2,818.3 1067.7,818.3 1068.2,818.3 1068.7,818.3 1069.2,818.3 1069.7,818.3 1070.2,818.3 1070.7,818.3 1071.2,818.3 1071.7,818.3 1072.2,818.3 1072.7,818.3 1073.2,818.3 1073.7,818.3 1074.2,818.3 1074.7,818.3 1075.2,818.3 1075.7,818.3 1076.2,818.3 1076.7,818.3 1077.2,818.3 1077.7,818.3 1078.2,818.3 1078.7,818.3 1079.2,818.3 1079.7,818.3 1080.2,818.3 1080.7,818.3 1081.2,818.3 1081.7,818.3 1082.2,818.3 1082.7,818.3 1083.2,818.3 1083.7,818.3 1084.2,818.3 1084.7,818.3 1085.2,818.3 1085.7,818.3 1086.2,818.3 1086.7,818.3 1087.2,818.3 1087.7,818.3 1088.2,818.3 1088.7,818.3 1089.2,818.3 1089.7,818.3 1090.2,818.3 1090.7,818.3 1091.2,818.3 1091.7,818.3 1092.2,818.3 1092.7,818.3 1093.2,818.3 1093.7,818.3 1094.2,818.3 1094.7,818.3 1095.2,818.3 1095.7,818.3 1096.2,818.3 1096.7,818.3 1097.2,818.3 1097.7,818.3 1098.2,818.3 1098.7,818.3 1099.2,818.3 1099.7,818.3"/>
<polyline fill="none" stroke="#4f4f4f" stroke-width="6.9" stroke-linejoin="round" stroke-linecap="round" points="312.3,1674.4 312.8,1674.4 313.3,1674.4 313.8,1674.4 314.3,1674.4 314.8,1674.4 315.3,1674.4 315.8,1674.4 316.3,1674.4 316.8,1674.4 317.3,1674.4 317.8,1674.4 318.3,1674.4 318.8,1674.4 319.3,1674.4 319.8,1674.4 320.3,1674.4 320.8,1674.4 321.3,1674.4 321.8,1674.4 322.3,1674.4 322.8,1674.4 323.3,1674.4 323.8,1674.4 324.3,1674.4 324.8,1674.4 325.3,1674.4 325.8,1674.4 326.3,1674.4 326.8,1674.4 327.3,1674.4 327.8,1674.4 328.3,1674.4 328.8,1674.4 329.3,1674.4 329.8,1674.4 330.3,1674.4 330.8,1674.4 331.3,1674.4 331.8,1674.4 332.3,1674.4 332.8,1674.4 333.3,1674.4 333.8,1674.4 334.3,1674.4 334.8,1674.4 335.3,1674.4 335.8,1674.3 336.3,1674.3 336.8,1674.3 337.3,1674.3 337.8,1674.2 338.3,1674.2 338.8,1674.1 339.3,1674.1 339.8,1674.0 340.3,1673.9 340.8,1673.8 341.3,1673.7 341.8,1673.5 342.3,1673.4 342.8,1673.2 343.3,1673.0 343.8,1672.8 344.3,1672.6 344.8,1672.4 345.3,1672.1 345.8,1671.9 346.3,1671.6 346.8,1671.4 347.3,1671.2 347.8,1671.0 348.3,1670.8 348.8,1670.7 349.3,1670.6 349.8,1670.5 350.3,1670.5 350.8,1670.5 351.3,1670.5 351.8,1670.6 352.3,1670.7 352.8,1670.9 353.3,1671.1 353.8,1671.2 354.3,1671.5 354.8,1671.7 355.3,1671.9 355.8,1672.2 356.3,1672.4 356.8,1672.6 357.3,1672.8 357.8,1673.1 358.3,1673.2 358.8,1673.4 359.3,1673.6 359.8,1673.7 360.3,1673.8 360.8,1673.9 361.3,1674.0 361.8,1674.1 362.3,1674.2 362.8,1674.2 363.3,1674.3 363.8,1674.3 364.3,1674.3 364.8,1674.3 365.3,1674.4 365.8,1674.4 366.3,1674.4 366.8,1674.4 367.3,1674.4 367.8,1674.4 368.3,1674.4 368.8,1674.4 369.3,1674.4 369.8,1674.4 370.3,1674.4 370.8,1674.4 371.3,1674.4 371.8,1674.4 372.3,1674.4 372.8,1674.4 373.3,1674.4 373.8,1674.4 374.3,1674.4 374.8,1674.4 375.3,1674.4 375.8,1674.4 376.3,1674.4 376.8,1674.4 377.3,1674.4 377.8,1674.4 378.3,1674.4 378.8,1674.4 379.3,1674.4 379.8,1674.4 380.3,1674.4 380.8,1674.4 381.3,1674.4 381.8,1674.4 382.3,1674.4 382.8,1674.4 383.3,1674.4 383.8,1674.4 384.3,1674.4 384.8,1674.4 385.3,1674.4 385.8,1674.4 386.3,1674.4 386.8,1674.4 387.3,1674.4 387.8,1674.4 388.3,1674.4 388.8,1674.4 389.3,1674.4 389.8,1674.4 390.3,1674.4 390.8,1674.4 391.3,1674.4 391.8,1674.4 392.3,1674.4 392.8,1674.3 393.3,1674.3 393.8,1674.3 394.3,1674.2 394.8,1674.2 395.3,1674.1 395.8,1674.0 396.3,1673.9 396.8,1673.8 397.3,1673.7 397.8,1673.5 398.3,1673.3 398.8,1673.0 399.3,1672.7 399.8,1672.4 400.3,1672.0 400.8,1671.6 401.3,1671.2 401.8,1670.7 402.3,1670.2 402.8,1669.7 403.3,1669.1 403.8,1668.6 404.3,1668.0 404.8,1667.5 405.3,1667.0 405.8,1666.6 406.3,1666.2 406.8,1665.8 407.3,1665.6 407.8,1665.4 408.3,1665.3 408.8,1665.3 409.3,1665.4 409.8,1665.6 410.3,1665.9 410.8,1666.2 411.3,1666.6 411.8,1667.0 412.3,1667.5 412.8,1668.0 413.3,1668.5 413.8,1669.0 414.3,1669.4 414.8,1669.8 415.3,1670.2 415.8,1670.6 416.3,1670.9 416.8,1671.1 417.3,1671.2 417.8,1671.3 418.3,1671.3 418.8,1671.3 419.3,1671.2 419.8,1671.0 420.3,1670.8 420.8,1670.6 421.3,1670.4 421.8,1670.1 422.3,1669.8 422.8,1669.5 423.3,1669.3 423.8,1669.0 424.3,1668.8 424.8,1668.7 425.3,1668.6 425.8,1668.5 426.3,1668.5 426.8,1668.6 427.3,1668.7 427.8,1668.8 428.3,1669.1 428.8,1669.3 429.3,1669.6 429.8,1669.9 430.3,1670.3 430.8,1670.6 431.3,1671.0 431.8,1671.3 432.3,1671.7 432.8,1672.0 433.3,1672.3 433.8,1672.6 434.3,1672.9 434.8,1673.1 435.3,1673.3 435.8,1673.5 436.3,1673.7 436.8,1673.8 437.3,1673.9 437.8,1674.0 438.3,1674.1 438.8,1674.2 439.3,1674.2 439.8,1674.3 440.3,1674.3 440.8,1674.3 441.3,1674.3 441.8,1674.3 442.3,1674.4 442.8,1674.4 443.3,1674.4 443.8,1674.4 444.3,1674.3 444.8,1674.3 445.3,1674.3 445.8,1674.3 446.3,1674.3 446.8,1674.2 447.3,1674.2 447.8,1674.1 448.3,1674.0 448.8,1673.9 449.3,1673.8 449.8,1673.7 450.3,1673.6 450.8,1673.4 451.3,1673.2 451.8,1673.0 452.3,1672.8 452.8,1672.6 453.3,1672.3 453.8,1672.0 454.3,1671.8 454.8,1671.5 455.3,1671.3 455.8,1671.0 456.3,1670.8 456.8,1670.6 457.3,1670.4 457.8,1670.2 458.3,1670.1 458.8,1670.0 459.3,1670.0 459.8,1670.0 460.3,1670.1 460.8,1670.2 461.3,1670.3 461.8,1670.5 462.3,1670.7 462.8,1670.9 463.3,1671.1 463.8,1671.4 464.3,1671.7 464.8,1671.9 465.3,1672.2 465.8,1672.5 466.3,1672.7 466.8,1672.9 467.3,1673.1 467.8,1673.3 468.3,1673.5 468.8,1673.6 469.3,1673.8 469.8,1673.9 470.3,1674.0 470.8,1674.1 471.3,1674.1 471.8,1674.2 472.3,1674.2 472.8,1674.3 473.3,1674.3 473.8,1674.3 474.3,1674.3 474.8,1674.4 475.3,1674.4 475.8,1674.4 476.3,1674.4 476.8,1674.4 477.3,1674.4 477.8,1674.4 478.3,1674.4 478.8,1674.4 479.3,1674.4 479.8,1674.4 480.3,1674.4 480.8,1674.4 481.3,1674.4 481.8,1674.4 482.3,1674.4 482.8,1674.4 483.3,1674.4 483.8,1674.4 484.3,1674.4 484.8,1674.4 485.3,1674.4 485.8,1674.4 486.3,1674.4 486.8,1674.4 487.3,1674.4 487.8,1674.4 488.3,1674.4 488.8,1674.4 489.3,1674.4 489.8,1674.4 490.3,1674.4 490.8,1674.4 491.3,1674.4 491.8,1674.4 492.3,1674.4 492.8,1674.4 493.3,1674.4 493.8,1674.4 494.3,1674.4 494.8,1674.4 495.3,1674.4 495.8,1674.4 496.3,1674.4 496.8,1674.4 497.3,1674.4 497.8,1674.4 498.3,1674.4 498.8,1674.4 499.3,1674.4 499.8,1674.4 500.3,1674.4 500.8,1674.4 501.3,1674.4 501.8,1674.4 502.3,1674.4 502.8,1674.4 503.3,1674.4 503.8,1674.4 504.3,1674.4 504.8,1674.4 505.3,1674.4 505.8,1674.4 506.3,1674.4 506.8,1674.4 507.3,1674.4 507.8,1674.4 508.3,1674.4 508.8,1674.4 509.3,1674.4 509.8,1674.4 510.3,1674.4 510.8,1674.4 511.3,1674.4 511.8,1674.4 512.3,1674.4 512.8,1674.4 513.3,1674.4 513.8,1674.4 514.3,1674.4 514.8,1674.4 515.3,1674.4 515.8,1674.4 516.3,1674.4 516.8,1674.4 517.3,1674.4 517.8,1674.4 518.3,1674.4 518.8,1674.4 519.3,1674.4 519.8,1674.4 520.3,1674.4 520.8,1674.4 521.3,1674.4 521.8,1674.4 522.3,1674.4 522.8,1674.4 523.3,1674.4 523.8,1674.4 524.3,1674.4 524.8,1674.4 525.3,1674.4 525.8,1674.4 526.3,1674.4 526.8,1674.4 527.3,1674.4 527.8,1674.4 528.3,1674.4 528.8,1674.4 529.3,1674.4 529.8,1674.4 530.3,1674.4 530.8,1674.4 531.3,1674.4 531.8,1674.4 532.3,1674.4 532.8,1674.4 533.3,1674.4 533.8,1674.4 534.3,1674.4 534.8,1674.4 535.3,1674.4 535.8,1674.4 536.3,1674.4 536.8,1674.4 537.3,1674.4 537.8,1674.4 538.3,1674.4 538.8,1674.4 539.3,1674.4 539.8,1674.4 540.3,1674.4 540.8,1674.3 541.3,1674.3 541.8,1674.3 542.3,1674.3 542.8,1674.2 543.3,1674.2 543.8,1674.1 544.3,1674.1 544.8,1674.0 545.3,1673.9 545.8,1673.8 546.3,1673.6 546.8,1673.5 547.3,1673.3 547.8,1673.2 548.3,1673.0 548.8,1672.8 549.3,1672.6 549.8,1672.4 550.3,1672.1 550.8,1671.9 551.3,1671.7 551.8,1671.5 552.3,1671.3 552.8,1671.1 553.3,1671.0 553.8,1670.9 554.3,1670.8 554.8,1670.7 555.3,1670.7 555.8,1670.8 556.3,1670.8 556.8,1670.9 557.3,1671.0 557.8,1671.2 558.3,1671.4 558.8,1671.6 559.3,1671.8 559.8,1672.0 560.3,1672.2 560.8,1672.4 561.3,1672.7 561.8,1672.9 562.3,1673.1 562.8,1673.2 563.3,1673.4 563.8,1673.6 564.3,1673.7 564.8,1673.8 565.3,1673.9 565.8,1674.0 566.3,1674.1 566.8,1674.2 567.3,1674.2 567.8,1674.2 568.3,1674.3 568.8,1674.3 569.3,1674.3 569.8,1674.3 570.3,1674.4 570.8,1674.4 571.3,1674.4 571.8,1674.4 572.3,1674.4 572.8,1674.4 573.3,1674.4 573.8,1674.4 574.3,1674.4 574.8,1674.4 575.3,1674.4 575.8,1674.4 576.3,1674.4 576.8,1674.4 577.3,1674.4 577.8,1674.4 578.3,1674.4 578.8,1674.4 579.3,1674.4 579.8,1674.4 580.3,1674.4 580.8,1674.4 581.3,1674.4 581.8,1674.4 582.3,1674.4 582.8,1674.4 583.3,1674.4 583.8,1674.4 584.3,1674.4 584.8,1674.4 585.3,1674.4 585.8,1674.4 586.3,1674.4 586.8,1674.4 587.3,1674.4 587.8,1674.4 588.3,1674.4 588.8,1674.4 589.3,1674.4 589.8,1674.4 590.3,1674.4 590.8,1674.4 591.3,1674.4 591.8,1674.4 592.3,1674.4 592.8,1674.4 593.3,1674.4 593.8,1674.4 594.3,1674.4 594.8,1674.4 595.3,1674.4 595.8,1674.4 596.3,1674.4 596.8,1674.4 597.3,1674.4 597.8,1674.4 598.3,1674.4 598.8,1674.4 599.3,1674.4 599.8,1674.4 600.3,1674.4 600.8,1674.4 601.3,1674.4 601.8,1674.4 602.3,1674.4 602.8,1674.4 603.3,1674.4 603.8,1674.4 604.3,1674.4 604.8,1674.4 605.3,1674.4 605.8,1674.4 606.3,1674.4 606.8,1674.4 607.3,1674.1 607.8,1673.7 608.3,1673.1 608.8,1672.4 609.3,1671.7 609.8,1670.8 610.3,1669.9 610.8,1669.0 611.3,1668.1 611.8,1667.3 612.3,1666.5 612.8,1665.6 613.3,1664.5 613.8,1663.3 614.3,1662.2 614.8,1661.2 615.3,1660.3 615.8,1659.7 616.3,1659.3 616.8,1659.2 617.3,1659.7 617.8,1660.5 618.3,1661.6 618.8,1662.9 619.3,1664.3 619.8,1665.5 620.3,1666.6 620.8,1667.5 621.3,1668.5 621.8,1669.5 622.3,1670.4 622.8,1671.2 623.3,1671.9 623.8,1672.2 624.3,1672.3 624.8,1672.3 625.3,1672.2 625.8,1672.0 626.3,1671.8 626.8,1671.6 627.3,1671.4 627.8,1671.1 628.3,1670.8 628.8,1670.5 629.3,1670.2 629.8,1669.9 630.3,1669.5 630.8,1669.2 631.3,1668.9 631.8,1668.5 632.3,1668.2 632.8,1667.8 633.3,1667.5 633.8,1667.1 634.3,1666.7 634.8,1666.2 635.3,1665.7 635.8,1665.2 636.3,1664.7 636.8,1664.2 637.3,1663.6 637.8,1663.0 638.3,1662.3 638.8,1661.6 639.3,1660.8 639.8,1659.9 640.3,1658.6 640.8,1657.2 641.3,1655.6 641.8,1654.0 642.3,1652.4 642.8,1650.9 643.3,1649.5 643.8,1648.4 644.3,1647.5 644.8,1646.8 645.3,1646.1 645.8,1645.5 646.3,1644.9 646.8,1644.3 647.3,1643.9 647.8,1643.6 648.3,1643.4 648.8,1643.4 649.3,1643.5 649.8,1643.7 650.3,1644.0 650.8,1644.4 651.3,1644.9 651.8,1645.4 652.3,1645.9 652.8,1646.5 653.3,1647.1 653.8,1647.7 654.3,1648.3 654.8,1648.9 655.3,1649.8 655.8,1650.8 656.3,1651.9 656.8,1653.1 657.3,1654.4 657.8,1655.6 658.3,1656.7 658.8,1657.7 659.3,1658.6 659.8,1659.2 660.3,1659.6 660.8,1659.7 661.3,1659.6 661.8,1659.5 662.3,1659.3 662.8,1659.0 663.3,1658.6 663.8,1658.3 664.3,1657.9 664.8,1657.5 665.3,1657.0 665.8,1656.6 666.3,1656.2 666.8,1655.8 667.3,1655.5 667.8,1655.2 668.3,1655.0 668.8,1654.8 669.3,1654.7 669.8,1654.7 670.3,1654.9 670.8,1655.2 671.3,1655.7 671.8,1656.3 672.3,1656.9 672.8,1657.6 673.3,1658.4 673.8,1659.1 674.3,1659.9 674.8,1660.7 675.3,1661.4 675.8,1662.1 676.3,1662.7 676.8,1663.2 677.3,1663.7 677.8,1664.1 678.3,1664.5 678.8,1664.9 679.3,1665.3 679.8,1665.7 680.3,1666.0 680.8,1666.4 681.3,1666.8 681.8,1667.1 682.3,1667.4 682.8,1667.7 683.3,1667.9 683.8,1668.2 684.3,1668.3 684.8,1668.5 685.3,1668.6 685.8,1668.6 686.3,1668.6 686.8,1668.6 687.3,1668.5 687.8,1668.5 688.3,1668.4 688.8,1668.3 689.3,1668.3 689.8,1668.2 690.3,1668.1 690.8,1668.0 691.3,1667.8 691.8,1667.7 692.3,1667.6 692.8,1667.5 693.3,1667.3 693.8,1667.2 694.3,1667.0 694.8,1666.7 695.3,1666.4 695.8,1666.1 696.3,1665.7 696.8,1665.3 697.3,1664.9 697.8,1664.5 698.3,1664.2 698.8,1663.8 699.3,1663.4 699.8,1663.1 700.3,1662.9 700.8,1662.6 701.3,1662.4 701.8,1662.3 702.3,1662.3 702.8,1662.3 703.3,1662.5 703.8,1662.7 704.3,1662.9 704.8,1663.3 705.3,1663.6 705.8,1664.0 706.3,1664.3 706.8,1664.7 707.3,1665.0 707.8,1665.4 708.3,1665.6 708.8,1665.8 709.3,1666.0 709.8,1666.0 710.3,1666.0 710.8,1666.0 711.3,1665.9 711.8,1665.9 712.3,1665.8 712.8,1665.8 713.3,1665.7 713.8,1665.6 714.3,1665.5 714.8,1665.4 715.3,1665.3 715.8,1665.2 716.3,1665.1 716.8,1665.0 717.3,1664.8 717.8,1664.7 718.3,1664.4 718.8,1664.1 719.3,1663.8 719.8,1663.4 720.3,1662.9 720.8,1662.4 721.3,1661.9 721.8,1661.3 722.3,1660.7 722.8,1660.1 723.3,1659.5 723.8,1658.8 724.3,1658.2 724.8,1657.6 725.3,1657.0 725.8,1656.4 726.3,1655.9 726.8,1655.3 727.3,1654.7 727.8,1654.0 728.3,1653.2 728.8,1652.5 729.3,1651.7 729.8,1651.0 730.3,1650.2 730.8,1649.5 731.3,1648.8 731.8,1648.1 732.3,1647.6 732.8,1647.0 733.3,1646.6 733.8,1646.3 734.3,1646.0 734.8,1645.9 735.3,1645.9 735.8,1646.2 736.3,1646.7 736.8,1647.4 737.3,1648.2 737.8,1649.1 738.3,1650.2 738.8,1651.2 739.3,1652.3 739.8,1653.3 740.3,1654.3 740.8,1655.2 741.3,1656.0 741.8,1656.6 742.3,1657.1 742.8,1657.3 743.3,1657.4 743.8,1657.5 744.3,1657.6 744.8,1657.7 745.3,1657.8 745.8,1657.9 746.3,1657.9 746.8,1658.0 747.3,1658.1 747.8,1658.2 748.3,1658.3 748.8,1658.5 749.3,1658.7 749.8,1659.2 750.3,1659.8 750.8,1660.5 751.3,1661.3 751.8,1662.2 752.3,1663.1 752.8,1664.0 753.3,1664.9 753.8,1665.7 754.3,1666.4 754.8,1667.0 755.3,1667.4 755.8,1667.7 756.3,1668.0 756.8,1668.3 757.3,1668.6 757.8,1668.9 758.3,1669.1 758.8,1669.4 759.3,1669.6 759.8,1669.8 760.3,1670.0 760.8,1670.2 761.3,1670.4 761.8,1670.5 762.3,1670.7 762.8,1670.8 763.3,1670.9 763.8,1671.1 764.3,1671.2 764.8,1671.3 765.3,1671.4 765.8,1671.5 766.3,1671.6 766.8,1671.7 767.3,1671.7 767.8,1671.8 768.3,1671.9 768.8,1672.0 769.3,1672.1 769.8,1672.1 770.3,1672.2 770.8,1672.2 771.3,1672.3 771.8,1672.3 772.3,1672.3 772.8,1672.3 773.3,1672.3 773.8,1672.2 774.3,1672.2 774.8,1672.1 775.3,1672.0 775.8,1671.9 776.3,1671.7 776.8,1671.6 777.3,1671.4 777.8,1671.3 778.3,1671.1 778.8,1671.0 779.3,1670.8 779.8,1670.6 780.3,1670.5 780.8,1670.3 781.3,1670.2 781.8,1670.1 782.3,1670.0 782.8,1669.9 783.3,1669.8 783.8,1669.8 784.3,1669.8 784.8,1669.9 785.3,1670.0 785.8,1670.2 786.3,1670.5 786.8,1670.9 787.3,1671.2 787.8,1671.6 788.3,1672.0 788.8,1672.3 789.3,1672.7 789.8,1673.0 790.3,1673.3 790.8,1673.4 791.3,1673.6 791.8,1673.6 792.3,1673.6 792.8,1673.6 793.3,1673.6 793.8,1673.6 794.3,1673.5 794.8,1673.5 795.3,1673.5 795.8,1673.4 796.3,1673.4 796.8,1673.3 797.3,1673.2 797.8,1673.2 798.3,1673.1 798.8,1673.0 799.3,1672.9 799.8,1672.8 800.3,1672.7 800.8,1672.6 801.3,1672.4 801.8,1672.3 802.3,1671.9 802.8,1671.1 803.3,1670.0 803.8,1668.7 804.3,1667.2 804.8,1665.8 805.3,1664.5 805.8,1663.3 806.3,1661.8 806.8,1660.3 807.3,1658.7 807.8,1657.2 808.3,1656.0 808.8,1655.1 809.3,1654.7 809.8,1654.9 810.3,1655.6 810.8,1656.7 811.3,1658.1 811.8,1659.6 812.3,1661.2 812.8,1662.7 813.3,1664.0 813.8,1665.3 814.3,1666.7 814.8,1668.2 815.3,1669.6 815.8,1670.9 816.3,1671.8 816.8,1672.3 817.3,1672.3 817.8,1672.3 818.3,1672.2 818.8,1672.2 819.3,1672.1 819.8,1672.1 820.3,1672.0 820.8,1671.9 821.3,1671.7 821.8,1671.6 822.3,1671.5 822.8,1671.3 823.3,1671.1 823.8,1670.9 824.3,1670.7 824.8,1670.5 825.3,1670.3 825.8,1670.0 826.3,1669.8 826.8,1669.5 827.3,1669.2 827.8,1668.9 828.3,1668.6 828.8,1668.1 829.3,1667.2 829.8,1666.1 830.3,1664.7 830.8,1663.2 831.3,1661.5 831.8,1659.7 832.3,1657.9 832.8,1656.1 833.3,1654.5 833.8,1652.9 834.3,1651.6 834.8,1650.5 835.3,1649.3 835.8,1648.1 836.3,1647.0 836.8,1645.8 837.3,1644.7 837.8,1643.8 838.3,1643.0 838.8,1642.5 839.3,1642.2 839.8,1642.1 840.3,1642.5 840.8,1643.2 841.3,1644.1 841.8,1645.1 842.3,1646.2 842.8,1647.3 843.3,1648.3 843.8,1649.1 844.3,1649.6 844.8,1649.7 845.3,1649.3 845.8,1648.3 846.3,1646.9 846.8,1645.1 847.3,1643.0 847.8,1640.7 848.3,1638.2 848.8,1635.7 849.3,1633.2 849.8,1630.7 850.3,1628.4 850.8,1626.4 851.3,1624.7 851.8,1623.0 852.3,1621.4 852.8,1619.9 853.3,1618.4 853.8,1616.9 854.3,1615.4 854.8,1613.9 855.3,1612.3 855.8,1610.7 856.3,1609.1 856.8,1607.3 857.3,1605.5 857.8,1603.5 858.3,1601.4 858.8,1599.2 859.3,1597.0 859.8,1594.6 860.3,1592.3 860.8,1589.9 861.3,1587.5 861.8,1585.2 862.3,1582.9 862.8,1580.5 863.3,1577.7 863.8,1574.8 864.3,1571.9 864.8,1569.1 865.3,1566.8 865.8,1564.9 866.3,1563.8 866.8,1563.5 867.3,1564.3 867.8,1566.1 868.3,1568.6 868.8,1571.8 869.3,1575.4 869.8,1579.3 870.3,1583.2 870.8,1587.1 871.3,1590.7 871.8,1594.0 872.3,1597.8 872.8,1601.9 873.3,1606.0 873.8,1610.0 874.3,1613.7 874.8,1616.7 875.3,1618.9 875.8,1620.3 876.3,1621.4 876.8,1622.6 877.3,1623.6 877.8,1624.4 878.3,1625.1 878.8,1625.6 879.3,1625.9 879.8,1626.0 880.3,1625.9 880.8,1625.6 881.3,1625.2 881.8,1624.7 882.3,1624.1 882.8,1623.6 883.3,1623.0 883.8,1622.6 884.3,1622.2 884.8,1622.0 885.3,1622.0 885.8,1622.2 886.3,1622.7 886.8,1623.3 887.3,1624.0 887.8,1624.7 888.3,1625.4 888.8,1626.1 889.3,1626.7 889.8,1627.2 890.3,1627.4 890.8,1627.3 891.3,1627.0 891.8,1626.5 892.3,1625.7 892.8,1624.9 893.3,1623.9 893.8,1623.0 894.3,1622.0 894.8,1621.1 895.3,1620.4 895.8,1619.8 896.3,1619.4 896.8,1619.3 897.3,1619.5 897.8,1620.0 898.3,1620.7 898.8,1621.6 899.3,1622.6 899.8,1623.8 900.3,1625.1 900.8,1626.5 901.3,1627.8 901.8,1629.2 902.3,1630.6 902.8,1631.9 903.3,1633.4 903.8,1635.1 904.3,1636.9 904.8,1638.8 905.3,1640.7 905.8,1642.7 906.3,1644.6 906.8,1646.4 907.3,1648.1 907.8,1649.6 908.3,1651.0 908.8,1652.5 909.3,1654.0 909.8,1655.5 910.3,1657.0 910.8,1658.3 911.3,1659.4 911.8,1660.2 912.3,1660.8 912.8,1661.0 913.3,1660.7 913.8,1659.9 914.3,1658.6 914.8,1657.1 915.3,1655.3 915.8,1653.4 916.3,1651.4 916.8,1649.6 917.3,1647.9 917.8,1646.3 918.3,1644.5 918.8,1642.5 919.3,1640.4 919.8,1638.4 920.3,1636.6 920.8,1635.0 921.3,1633.8 921.8,1633.0 922.3,1632.8 922.8,1633.4 923.3,1634.6 923.8,1636.4 924.3,1638.6 924.8,1641.1 925.3,1643.6 925.8,1646.0 926.3,1648.3 926.8,1650.2 927.3,1652.0 927.8,1654.0 928.3,1656.0 928.8,1657.9 929.3,1659.7 929.8,1661.0 930.3,1662.0 930.8,1662.3 931.3,1662.2 931.8,1662.1 932.3,1661.8 932.8,1661.5 933.3,1661.1 933.8,1660.7 934.3,1660.2 934.8,1659.8 935.3,1659.4 935.8,1659.0 936.3,1658.7 936.8,1658.5 937.3,1658.3 937.8,1658.3 938.3,1658.4 938.8,1658.7 939.3,1659.0 939.8,1659.4 940.3,1659.9 940.8,1660.4 941.3,1660.9 941.8,1661.5 942.3,1662.0 942.8,1662.5 943.3,1663.0 943.8,1663.4 944.3,1663.8 944.8,1664.0 945.3,1664.2 945.8,1664.2 946.3,1664.0 946.8,1663.6 947.3,1663.1 947.8,1662.4 948.3,1661.6 948.8,1660.6 949.3,1659.6 949.8,1658.5 950.3,1657.3 950.8,1656.1 951.3,1654.7 951.8,1652.8 952.3,1650.4 952.8,1647.6 953.3,1644.6 953.8,1641.6 954.3,1638.6 954.8,1635.8 955.3,1633.3 955.8,1631.4 956.3,1629.7 956.8,1628.0 957.3,1626.3 957.8,1624.7 958.3,1623.3 958.8,1622.1 959.3,1621.1 959.8,1620.4 960.3,1620.1 960.8,1620.3 961.3,1620.9 961.8,1621.9 962.3,1623.3 962.8,1624.8 963.3,1626.5 963.8,1628.3 964.3,1630.0 964.8,1631.6 965.3,1633.0 965.8,1634.1 966.3,1635.0 966.8,1635.9 967.3,1636.7 967.8,1637.5 968.3,1638.3 968.8,1639.0 969.3,1639.7 969.8,1640.4 970.3,1641.0 970.8,1641.6 971.3,1642.2 971.8,1642.8 972.3,1643.3 972.8,1643.8 973.3,1644.4 973.8,1644.9 974.3,1645.5 974.8,1646.0 975.3,1646.5 975.8,1646.9 976.3,1647.3 976.8,1647.5 977.3,1647.6 977.8,1647.6 978.3,1647.6 978.8,1647.6 979.3,1647.6 979.8,1647.6 980.3,1647.6 980.8,1647.6 981.3,1647.6 981.8,1647.6 982.3,1647.7 982.8,1648.0 983.3,1648.6 983.8,1649.4 984.3,1650.2 984.8,1651.2 985.3,1652.2 985.8,1653.2 986.3,1654.1 986.8,1654.9 987.3,1655.6 987.8,1656.2 988.3,1656.8 988.8,1657.5 989.3,1658.1 989.8,1658.7 990.3,1659.4 990.8,1660.0 991.3,1660.6 991.8,1661.2 992.3,1661.8 992.8,1662.4 993.3,1662.9 993.8,1663.5 994.3,1663.9 994.8,1664.4 995.3,1664.7 995.8,1665.1 996.3,1665.3 996.8,1665.6 997.3,1665.7 997.8,1665.8 998.3,1665.8 998.8,1665.6 999.3,1665.3 999.8,1664.9 1000.3,1664.4 1000.8,1663.8 1001.3,1663.2 1001.8,1662.5 1002.3,1661.8 1002.8,1661.1 1003.3,1660.4 1003.8,1659.8 1004.3,1659.3 1004.8,1658.8 1005.3,1658.5 1005.8,1658.3 1006.3,1658.3 1006.8,1658.4 1007.3,1658.5 1007.8,1658.8 1008.3,1659.0 1008.8,1659.4 1009.3,1659.8 1009.8,1660.2 1010.3,1660.6 1010.8,1661.0 1011.3,1661.4 1011.8,1661.8 1012.3,1662.2 1012.8,1662.6 1013.3,1663.0 1013.8,1663.2 1014.3,1663.5 1014.8,1663.6 1015.3,1663.7 1015.8,1663.7 1016.3,1663.7 1016.8,1663.6 1017.3,1663.6 1017.8,1663.5 1018.3,1663.5 1018.8,1663.4 1019.3,1663.3 1019.8,1663.2 1020.3,1663.1 1020.8,1663.0 1021.3,1662.9 1021.8,1662.7 1022.3,1662.6 1022.8,1662.5 1023.3,1662.3 1023.8,1662.2 1024.3,1662.1 1024.8,1661.9 1025.3,1661.8 1025.8,1661.6 1026.3,1661.5 1026.8,1661.3 1027.3,1661.2 1027.8,1661.0 1028.3,1660.7 1028.8,1660.5 1029.3,1660.2 1029.8,1660.0 1030.3,1659.7 1030.8,1659.4 1031.3,1659.2 1031.8,1658.9 1032.3,1658.7 1032.8,1658.5 1033.3,1658.3 1033.8,1658.1 1034.3,1658.0 1034.8,1657.9 1035.3,1657.8 1035.8,1657.8 1036.3,1657.9 1036.8,1658.0 1037.3,1658.2 1037.8,1658.5 1038.3,1658.8 1038.8,1659.2 1039.3,1659.7 1039.8,1660.2 1040.3,1660.7 1040.8,1661.2 1041.3,1661.7 1041.8,1662.3 1042.3,1662.8 1042.8,1663.4 1043.3,1663.9 1043.8,1664.4 1044.3,1664.9 1044.8,1665.4 1045.3,1665.8 1045.8,1666.1 1046.3,1666.4 1046.8,1666.7 1047.3,1666.8 1047.8,1666.9 1048.3,1666.9 1048.8,1667.0 1049.3,1667.0 1049.8,1667.0 1050.3,1667.1 1050.8,1667.1 1051.3,1667.1 1051.8,1667.2 1052.3,1667.2 1052.8,1667.2 1053.3,1667.3 1053.8,1667.3 1054.3,1667.3 1054.8,1667.3 1055.3,1667.4 1055.8,1667.4 1056.3,1667.4 1056.8,1667.4 1057.3,1667.5 1057.8,1667.5 1058.3,1667.5 1058.8,1667.5 1059.3,1667.5 1059.8,1667.6 1060.3,1667.6 1060.8,1667.6 1061.3,1667.6 1061.8,1667.6 1062.3,1667.6 1062.8,1667.6 1063.3,1667.6 1063.8,1667.7 1064.3,1667.7 1064.8,1667.7 1065.3,1667.7 1065.8,1667.7 1066.3,1667.7 1066.8,1667.7 1067.3,1667.7 1067.8,1667.7 1068.3,1667.7 1068.8,1667.7 1069.3,1667.7 1069.8,1667.7 1070.3,1667.6 1070.8,1667.4 1071.3,1667.2 1071.8,1666.9 1072.3,1666.6 1072.8,1666.3 1073.3,1666.0 1073.8,1665.7 1074.3,1665.3 1074.8,1665.1 1075.3,1664.8 1075.8,1664.6 1076.3,1664.4 1076.8,1664.3 1077.3,1664.2 1077.8,1664.2 1078.3,1664.3 1078.8,1664.3 1079.3,1664.4 1079.8,1664.6 1080.3,1664.7 1080.8,1664.9 1081.3,1665.1 1081.8,1665.3 1082.3,1665.6 1082.8,1665.8 1083.3,1666.0 1083.8,1666.3 1084.3,1666.5 1084.8,1666.8 1085.3,1667.0 1085.8,1667.2 1086.3,1667.4 1086.8,1667.7 1087.3,1667.9 1087.8,1668.1 1088.3,1668.4 1088.8,1668.7 1089.3,1668.9 1089.8,1669.2 1090.3,1669.5 1090.8,1669.8 1091.3,1670.1 1091.8,1670.3 1092.3,1670.6 1092.8,1670.9 1093.3,1671.2 1093.8,1671.5 1094.3,1671.8 1094.8,1672.2 1095.3,1672.6 1095.8,1673.0 1096.3,1673.3 1096.8,1673.6 1097.3,1673.9 1097.8,1674.2 1098.3,1674.3 1098.8,1674.4 1099.3,1674.4 1099.8,1674.4 1100.3,1674.4 1100.8,1674.4 1101.3,1674.4 1101.8,1674.4 1102.3,1674.4 1102.8,1674.4 1103.3,1674.4 1103.8,1674.4 1104.3,1674.4 1104.8,1674.4 1105.3,1674.4 1105.8,1674.4 1106.3,1674.4 1106.8,1674.4 1107.3,1674.4 1107.8,1674.4 1108.3,1674.4 1108.8,1674.4 1109.3,1674.4 1109.8,1674.4 1110.3,1674.4 1110.8,1674.4 1111.3,1674.4 1111.8,1674.4 1112.3,1674.4 1112.8,1674.4 1113.3,1674.4 1113.8,1674.4 1114.3,1674.4 1114.8,1674.4 1115.3,1674.4 1115.8,1674.4 1116.3,1674.4 1116.8,1674.4 1117.3,1674.4 1117.8,1674.4 1118.3,1674.4 1118.8,1674.4 1119.3,1674.4 1119.8,1674.4 1120.3,1674.4 1120.8,1674.4 1121.3,1674.4 1121.8,1674.4 1122.3,1674.4 1122.8,1674.4 1123.3,1674.4 1123.8,1674.4 1124.3,1674.4 1124.8,1674.4 1125.3,1674.4 1125.8,1674.4 1126.3,1674.4 1126.8,1674.4 1127.3,1674.4 1127.8,1674.4 1128.3,1674.4"/>
<polyline fill="none" stroke="#fd3b3b" stroke-width="6.9" stroke-linejoin="round" stroke-linecap="round" points="312.3,1674.4 312.8,1674.4 313.3,1674.4 313.8,1674.4 314.3,1674.4 314.8,1674.4 315.3,1674.4 315.8,1674.4 316.3,1674.4 316.8,1674.4 317.3,1674.4 317.8,1674.4 318.3,1674.4 318.8,1674.4 319.3,1674.4 319.8,1674.4 320.3,1674.4 320.8,1674.4 321.3,1674.4 321.8,1674.4 322.3,1674.4 322.8,1674.4 323.3,1674.4 323.8,1674.4 324.3,1674.4 324.8,1674.4 325.3,1674.4 325.8,1674.4 326.3,1674.4 326.8,1674.4 327.3,1674.4 327.8,1674.4 328.3,1674.4 328.8,1674.4 329.3,1674.4 329.8,1674.4 330.3,1674.4 330.8,1674.4 331.3,1674.4 331.8,1674.4 332.3,1674.4 332.8,1674.4 333.3,1674.4 333.8,1674.4 334.3,1674.4 334.8,1674.3 335.3,1674.3 335.8,1674.2 336.3,1674.1 336.8,1673.9 337.3,1673.6 337.8,1673.2 338.3,1672.5 338.8,1671.6 339.3,1670.4 339.8,1668.6 340.3,1666.3 340.8,1663.1 341.3,1659.0 341.8,1653.8 342.3,1647.2 342.8,1639.0 343.3,1629.2 343.8,1617.6 344.3,1604.2 344.8,1589.0 345.3,1572.3 345.8,1554.2 346.3,1535.3 346.8,1516.0 347.3,1496.9 347.8,1478.9 348.3,1462.5 348.8,1448.4 349.3,1437.4 349.8,1429.9 350.3,1426.3 350.8,1426.7 351.3,1431.1 351.8,1439.4 352.3,1451.0 352.8,1465.6 353.3,1482.4 353.8,1500.7 354.3,1519.8 354.8,1539.1 355.3,1557.9 355.8,1575.7 356.3,1592.2 356.8,1607.0 357.3,1620.1 357.8,1631.3 358.3,1640.8 358.8,1648.6 359.3,1654.9 359.8,1659.9 360.3,1663.8 360.8,1666.8 361.3,1669.0 361.8,1670.7 362.3,1671.8 362.8,1672.7 363.3,1673.3 363.8,1673.7 364.3,1673.9 364.8,1674.1 365.3,1674.2 365.8,1674.3 366.3,1674.3 366.8,1674.4 367.3,1674.4 367.8,1674.4 368.3,1674.4 368.8,1674.4 369.3,1674.4 369.8,1674.4 370.3,1674.4 370.8,1674.4 371.3,1674.4 371.8,1674.4 372.3,1674.4 372.8,1674.4 373.3,1674.4 373.8,1674.4 374.3,1674.4 374.8,1674.4 375.3,1674.4 375.8,1674.4 376.3,1674.4 376.8,1674.4 377.3,1674.4 377.8,1674.4 378.3,1674.4 378.8,1674.4 379.3,1674.4 379.8,1674.4 380.3,1674.4 380.8,1674.4 381.3,1674.4 381.8,1674.4 382.3,1674.4 382.8,1674.4 383.3,1674.4 383.8,1674.4 384.3,1674.4 384.8,1674.4 385.3,1674.4 385.8,1674.4 386.3,1674.4 386.8,1674.4 387.3,1674.4 387.8,1674.4 388.3,1674.4 388.8,1674.4 389.3,1674.4 389.8,1674.4 390.3,1674.4 390.8,1674.4 391.3,1674.4 391.8,1674.4 392.3,1674.4 392.8,1674.4 393.3,1674.4 393.8,1674.4 394.3,1674.4 394.8,1674.4 395.3,1674.4 395.8,1674.4 396.3,1674.4 396.8,1674.4 397.3,1674.4 397.8,1674.4 398.3,1674.4 398.8,1674.4 399.3,1674.4 399.8,1674.4 400.3,1674.4 400.8,1674.4 401.3,1674.4 401.8,1674.4 402.3,1674.4 402.8,1674.4 403.3,1674.4 403.8,1674.4 404.3,1674.4 404.8,1674.4 405.3,1674.4 405.8,1674.4 406.3,1674.4 406.8,1674.4 407.3,1674.4 407.8,1674.4 408.3,1674.4 408.8,1674.4 409.3,1674.4 409.8,1674.4 410.3,1674.4 410.8,1674.4 411.3,1674.4 411.8,1674.4 412.3,1674.4 412.8,1674.4 413.3,1674.4 413.8,1674.4 414.3,1674.4 414.8,1674.4 415.3,1674.4 415.8,1674.4 416.3,1674.4 416.8,1674.4 417.3,1674.4 417.8,1674.4 418.3,1674.4 418.8,1674.4 419.3,1674.4 419.8,1674.4 420.3,1674.4 420.8,1674.4 421.3,1674.4 421.8,1674.4 422.3,1674.4 422.8,1674.4 423.3,1674.4 423.8,1674.4 424.3,1674.4 424.8,1674.4 425.3,1674.4 425.8,1674.4 426.3,1674.4 426.8,1674.4 427.3,1674.4 427.8,1674.4 428.3,1674.4 428.8,1674.4 429.3,1674.4 429.8,1674.4 430.3,1674.4 430.8,1674.4 431.3,1674.4 431.8,1674.4 432.3,1674.4 432.8,1674.4 433.3,1674.4 433.8,1674.4 434.3,1674.4 434.8,1674.4 435.3,1674.4 435.8,1674.4 436.3,1674.4 436.8,1674.4 437.3,1674.4 437.8,1674.4 438.3,1674.4 438.8,1674.4 439.3,1674.4 439.8,1674.4 440.3,1674.4 440.8,1674.4 441.3,1674.4 441.8,1674.4 442.3,1674.4 442.8,1674.4 443.3,1674.4 443.8,1674.3 444.3,1674.3 444.8,1674.2 445.3,1674.0 445.8,1673.8 446.3,1673.5 446.8,1673.1 447.3,1672.4 447.8,1671.4 448.3,1670.1 448.8,1668.3 449.3,1665.8 449.8,1662.5 450.3,1658.2 450.8,1652.7 451.3,1645.9 451.8,1637.5 452.3,1627.4 452.8,1615.5 453.3,1601.9 453.8,1586.5 454.3,1569.6 454.8,1551.4 455.3,1532.5 455.8,1513.4 456.3,1494.7 456.8,1477.0 457.3,1461.2 457.8,1447.8 458.3,1437.5 458.8,1430.8 459.3,1428.0 459.8,1429.2 460.3,1434.4 460.8,1443.3 461.3,1455.5 461.8,1470.4 462.3,1487.4 462.8,1505.8 463.3,1524.9 463.8,1543.9 464.3,1562.4 464.8,1579.9 465.3,1595.9 465.8,1610.3 466.3,1622.9 466.8,1633.7 467.3,1642.7 467.8,1650.2 468.3,1656.2 468.8,1660.9 469.3,1664.6 469.8,1667.4 470.3,1669.4 470.8,1671.0 471.3,1672.1 471.8,1672.8 472.3,1673.4 472.8,1673.7 473.3,1674.0 473.8,1674.1 474.3,1674.2 474.8,1674.3 475.3,1674.3 475.8,1674.4 476.3,1674.4 476.8,1674.4 477.3,1674.4 477.8,1674.4 478.3,1674.4 478.8,1674.4 479.3,1674.4 479.8,1674.4 480.3,1674.4 480.8,1674.4 481.3,1674.4 481.8,1674.4 482.3,1674.4 482.8,1674.4 483.3,1674.4 483.8,1674.4 484.3,1674.4 484.8,1674.4 485.3,1674.4 485.8,1674.4 486.3,1674.4 486.8,1674.4 487.3,1674.4 487.8,1674.4 488.3,1674.4 488.8,1674.4 489.3,1674.4 489.8,1674.4 490.3,1674.4 490.8,1674.4 491.3,1674.4 491.8,1674.4 492.3,1674.4 492.8,1674.4 493.3,1674.4 493.8,1674.4 494.3,1674.4 494.8,1674.4 495.3,1674.4 495.8,1674.4 496.3,1674.4 496.8,1674.4 497.3,1674.4 497.8,1674.4 498.3,1674.4 498.8,1674.4 499.3,1674.4 499.8,1674.4 500.3,1674.4 500.8,1674.4 501.3,1674.4 501.8,1674.4 502.3,1674.4 502.8,1674.4 503.3,1674.4 503.8,1674.4 504.3,1674.4 504.8,1674.4 505.3,1674.4 505.8,1674.4 506.3,1674.4 506.8,1674.4 507.3,1674.4 507.8,1674.4 508.3,1674.4 508.8,1674.4 509.3,1674.4 509.8,1674.4 510.3,1674.4 510.8,1674.4 511.3,1674.4 511.8,1674.4 512.3,1674.4 512.8,1674.4 513.3,1674.4 513.8,1674.4 514.3,1674.4 514.8,1674.4 515.3,1674.4 515.8,1674.4 516.3,1674.4 516.8,1674.4 517.3,1674.4 517.8,1674.4 518.3,1674.4 518.8,1674.4 519.3,1674.4 519.8,1674.4 520.3,1674.4 520.8,1674.4 521.3,1674.4 521.8,1674.4 522.3,1674.4 522.8,1674.4 523.3,1674.4 523.8,1674.4 524.3,1674.4 524.8,1674.4 525.3,1674.4 525.8,1674.4 526.3,1674.4 526.8,1674.4 527.3,1674.4 527.8,1674.4 528.3,1674.4 528.8,1674.4 529.3,1674.4 529.8,1674.4 530.3,1674.4 530.8,1674.4 531.3,1674.4 531.8,1674.4 532.3,1674.4 532.8,1674.4 533.3,1674.4 533.8,1674.4 534.3,1674.4 534.8,1674.4 535.3,1674.4 535.8,1674.4 536.3,1674.4 536.8,1674.4 537.3,1674.4 537.8,1674.4 538.3,1674.4 538.8,1674.4 539.3,1674.3 539.8,1674.3 540.3,1674.2 540.8,1674.1 541.3,1674.0 541.8,1673.8 542.3,1673.4 542.8,1672.9 543.3,1672.1 543.8,1671.1 544.3,1669.6 544.8,1667.6 545.3,1664.9 545.8,1661.4 546.3,1656.9 546.8,1651.1 547.3,1643.9 547.8,1635.2 548.3,1624.9 548.8,1612.8 549.3,1598.9 549.8,1583.5 550.3,1566.8 550.8,1549.0 551.3,1530.7 551.8,1512.3 552.3,1494.7 552.8,1478.3 553.3,1464.0 553.8,1452.2 554.3,1443.7 554.8,1438.7 555.3,1437.5 555.8,1440.2 556.3,1446.7 556.8,1456.6 557.3,1469.4 557.8,1484.7 558.3,1501.6 558.8,1519.6 559.3,1538.0 559.8,1556.2 560.3,1573.6 560.8,1589.9 561.3,1604.7 561.8,1617.8 562.3,1629.2 562.8,1638.9 563.3,1647.0 563.8,1653.6 564.3,1658.8 564.8,1662.9 565.3,1666.1 565.8,1668.5 566.3,1670.3 566.8,1671.6 567.3,1672.5 567.8,1673.1 568.3,1673.6 568.8,1673.9 569.3,1674.1 569.8,1674.2 570.3,1674.3 570.8,1674.3 571.3,1674.4 571.8,1674.4 572.3,1674.4 572.8,1674.4 573.3,1674.4 573.8,1674.4 574.3,1674.4 574.8,1674.4 575.3,1674.4 575.8,1674.4 576.3,1674.4 576.8,1674.4 577.3,1674.4 577.8,1674.4 578.3,1674.4 578.8,1674.4 579.3,1674.4 579.8,1674.4 580.3,1674.4 580.8,1674.4 581.3,1674.4 581.8,1674.4 582.3,1674.4 582.8,1674.4 583.3,1674.4 583.8,1674.4 584.3,1674.4 584.8,1674.4 585.3,1674.4 585.8,1674.4 586.3,1674.4 586.8,1674.4 587.3,1674.4 587.8,1674.4 588.3,1674.4 588.8,1674.4 589.3,1674.4 589.8,1674.4 590.3,1674.4 590.8,1674.4 591.3,1674.4 591.8,1674.4 592.3,1674.4 592.8,1674.4 593.3,1674.4 593.8,1674.4 594.3,1674.4 594.8,1674.4 595.3,1674.4 595.8,1674.4 596.3,1674.4 596.8,1674.4 597.3,1674.4 597.8,1674.4 598.3,1674.4 598.8,1674.4 599.3,1674.4 599.8,1674.4 600.3,1674.4 600.8,1674.4 601.3,1674.4 601.8,1674.4 602.3,1674.4 602.8,1674.4 603.3,1674.4 603.8,1674.4 604.3,1674.4 604.8,1674.4 605.3,1674.4 605.8,1674.4 606.3,1674.4 606.8,1674.4 607.3,1674.4 607.8,1674.4 608.3,1674.4 608.8,1674.4 609.3,1674.4 609.8,1674.4 610.3,1674.4 610.8,1674.4 611.3,1674.4 611.8,1674.4 612.3,1674.4 612.8,1674.4 613.3,1674.4 613.8,1674.4 614.3,1674.4 614.8,1674.4 615.3,1674.4 615.8,1674.4 616.3,1674.4 616.8,1674.4 617.3,1674.4 617.8,1674.4 618.3,1674.4 618.8,1674.4 619.3,1674.4 619.8,1674.4 620.3,1674.4 620.8,1674.4 621.3,1674.4 621.8,1674.4 622.3,1674.4 622.8,1674.4 623.3,1674.4 623.8,1674.4 624.3,1674.4 624.8,1674.4 625.3,1674.4 625.8,1674.4 626.3,1674.4 626.8,1674.4 627.3,1674.4 627.8,1674.4 628.3,1674.4 628.8,1674.4 629.3,1674.4 629.8,1674.4 630.3,1674.4 630.8,1674.4 631.3,1674.4 631.8,1674.4 632.3,1674.4 632.8,1674.4 633.3,1674.4 633.8,1674.4 634.3,1674.4 634.8,1674.4 635.3,1674.4 635.8,1674.4 636.3,1674.4 636.8,1674.4 637.3,1674.4 637.8,1674.4 638.3,1674.4 638.8,1674.4 639.3,1674.4 639.8,1674.4 640.3,1674.4 640.8,1674.4 641.3,1674.4 641.8,1674.4 642.3,1674.4 642.8,1674.4 643.3,1674.4 643.8,1674.4 644.3,1674.4 644.8,1674.4 645.3,1674.4 645.8,1674.3 646.3,1674.2 646.8,1674.1 647.3,1674.0 647.8,1673.8 648.3,1673.5 648.8,1673.3 649.3,1673.0 649.8,1672.8 650.3,1672.5 650.8,1672.2 651.3,1671.9 651.8,1671.6 652.3,1671.3 652.8,1671.1 653.3,1670.8 653.8,1670.6 654.3,1670.4 654.8,1670.2 655.3,1670.0 655.8,1669.9 656.3,1669.8 656.8,1669.8 657.3,1669.8 657.8,1669.8 658.3,1669.9 658.8,1669.9 659.3,1670.0 659.8,1670.0 660.3,1670.1 660.8,1670.2 661.3,1670.3 661.8,1670.4 662.3,1670.5 662.8,1670.6 663.3,1670.7 663.8,1670.8 664.3,1670.9 664.8,1671.0 665.3,1671.1 665.8,1671.2 666.3,1671.3 666.8,1671.4 667.3,1671.5 667.8,1671.6 668.3,1671.6 668.8,1671.7 669.3,1671.7 669.8,1671.8 670.3,1671.8 670.8,1671.9 671.3,1671.9 671.8,1672.0 672.3,1672.0 672.8,1672.1 673.3,1672.1 673.8,1672.2 674.3,1672.2 674.8,1672.3 675.3,1672.3 675.8,1672.4 676.3,1672.4 676.8,1672.5 677.3,1672.5 677.8,1672.6 678.3,1672.6 678.8,1672.7 679.3,1672.7 679.8,1672.7 680.3,1672.8 680.8,1672.8 681.3,1672.8 681.8,1672.9 682.3,1672.9 682.8,1672.9 683.3,1673.0 683.8,1673.0 684.3,1673.0 684.8,1673.0 685.3,1673.0 685.8,1673.1 686.3,1673.1 686.8,1673.1 687.3,1673.1 687.8,1673.1 688.3,1673.1 688.8,1673.1 689.3,1673.1 689.8,1673.1 690.3,1673.1 690.8,1673.0 691.3,1673.0 691.8,1673.0 692.3,1672.9 692.8,1672.9 693.3,1672.9 693.8,1672.8 694.3,1672.8 694.8,1672.7 695.3,1672.7 695.8,1672.6 696.3,1672.5 696.8,1672.5 697.3,1672.4 697.8,1672.4 698.3,1672.3 698.8,1672.2 699.3,1672.2 699.8,1672.1 700.3,1672.0 700.8,1672.0 701.3,1671.9 701.8,1671.8 702.3,1671.8 702.8,1671.7 703.3,1671.6 703.8,1671.6 704.3,1671.5 704.8,1671.5 705.3,1671.4 705.8,1671.4 706.3,1671.3 706.8,1671.3 707.3,1671.2 707.8,1671.2 708.3,1671.2 708.8,1671.2 709.3,1671.1 709.8,1671.1 710.3,1671.1 710.8,1671.1 711.3,1671.1 711.8,1671.1 712.3,1671.1 712.8,1671.1 713.3,1671.1 713.8,1671.1 714.3,1671.1 714.8,1671.1 715.3,1671.1 715.8,1671.1 716.3,1671.1 716.8,1671.1 717.3,1671.1 717.8,1671.1 718.3,1671.1 718.8,1671.1 719.3,1671.1 719.8,1671.1 720.3,1671.1 720.8,1671.1 721.3,1671.1 721.8,1671.1 722.3,1671.1 722.8,1671.1 723.3,1671.1 723.8,1671.1 724.3,1671.1 724.8,1671.1 725.3,1671.1 725.8,1671.1 726.3,1671.1 726.8,1671.1 727.3,1671.1 727.8,1671.1 728.3,1671.1 728.8,1671.1 729.3,1671.1 729.8,1671.1 730.3,1671.1 730.8,1671.1 731.3,1671.1 731.8,1671.1 732.3,1671.1 732.8,1671.1 733.3,1671.1 733.8,1671.1 734.3,1671.1 734.8,1671.1 735.3,1671.1 735.8,1671.1 736.3,1671.1 736.8,1671.1 737.3,1671.1 737.8,1671.0 738.3,1671.0 738.8,1670.9 739.3,1670.8 739.8,1670.7 740.3,1670.6 740.8,1670.5 741.3,1670.3 741.8,1670.2 742.3,1670.1 742.8,1669.9 743.3,1669.8 743.8,1669.6 744.3,1669.4 744.8,1669.3 745.3,1669.1 745.8,1668.9 746.3,1668.8 746.8,1668.6 747.3,1668.4 747.8,1668.3 748.3,1668.1 748.8,1668.0 749.3,1667.8 749.8,1667.7 750.3,1667.5 750.8,1667.4 751.3,1667.3 751.8,1667.2 752.3,1667.1 752.8,1667.0 753.3,1666.9 753.8,1666.8 754.3,1666.7 754.8,1666.6 755.3,1666.5 755.8,1666.3 756.3,1666.2 756.8,1666.1 757.3,1666.0 757.8,1665.9 758.3,1665.8 758.8,1665.7 759.3,1665.6 759.8,1665.5 760.3,1665.4 760.8,1665.3 761.3,1665.3 761.8,1665.2 762.3,1665.1 762.8,1665.0 763.3,1665.0 763.8,1664.9 764.3,1664.9 764.8,1664.9 765.3,1664.8 765.8,1664.8 766.3,1664.8 766.8,1664.8 767.3,1664.8 767.8,1664.8 768.3,1664.8 768.8,1664.9 769.3,1664.9 769.8,1664.9 770.3,1665.0 770.8,1665.0 771.3,1665.1 771.8,1665.2 772.3,1665.2 772.8,1665.3 773.3,1665.4 773.8,1665.5 774.3,1665.6 774.8,1665.7 775.3,1665.8 775.8,1665.9 776.3,1666.0 776.8,1666.1 777.3,1666.2 777.8,1666.3 778.3,1666.4 778.8,1666.5 779.3,1666.7 779.8,1666.8 780.3,1666.9 780.8,1667.1 781.3,1667.2 781.8,1667.3 782.3,1667.5 782.8,1667.7 783.3,1668.0 783.8,1668.4 784.3,1668.7 784.8,1669.1 785.3,1669.6 785.8,1670.0 786.3,1670.4 786.8,1670.9 787.3,1671.3 787.8,1671.7 788.3,1672.1 788.8,1672.5 789.3,1672.8 789.8,1673.1 790.3,1673.3 790.8,1673.5 791.3,1673.6 791.8,1673.6 792.3,1673.6 792.8,1673.6 793.3,1673.6 793.8,1673.6 794.3,1673.6 794.8,1673.6 795.3,1673.6 795.8,1673.6 796.3,1673.6 796.8,1673.6 797.3,1673.6 797.8,1673.6 798.3,1673.6 798.8,1673.6 799.3,1673.6 799.8,1673.6 800.3,1673.6 800.8,1673.6 801.3,1673.6 801.8,1673.6 802.3,1673.6 802.8,1673.6 803.3,1673.6 803.8,1673.6 804.3,1673.6 804.8,1673.6 805.3,1673.6 805.8,1673.6 806.3,1673.6 806.8,1673.6 807.3,1673.6 807.8,1673.6 808.3,1673.6 808.8,1673.6 809.3,1673.6 809.8,1673.6 810.3,1673.6 810.8,1673.6 811.3,1673.6 811.8,1673.6 812.3,1673.6 812.8,1673.6 813.3,1673.6 813.8,1673.6 814.3,1673.6 814.8,1673.6 815.3,1673.6 815.8,1673.6 816.3,1673.6 816.8,1673.6 817.3,1673.6 817.8,1673.6 818.3,1673.6 818.8,1673.6 819.3,1673.6 819.8,1673.6 820.3,1673.6 820.8,1673.6 821.3,1673.6 821.8,1673.6 822.3,1673.6 822.8,1673.5 823.3,1673.4 823.8,1673.2 824.3,1672.9 824.8,1672.7 825.3,1672.3 825.8,1672.0 826.3,1671.7 826.8,1671.3 827.3,1671.0 827.8,1670.6 828.3,1670.3 828.8,1669.9 829.3,1669.4 829.8,1668.8 830.3,1668.3 830.8,1667.7 831.3,1667.1 831.8,1666.6 832.3,1666.1 832.8,1665.6 833.3,1665.2 833.8,1665.0 834.3,1664.8 834.8,1664.8 835.3,1664.8 835.8,1664.9 836.3,1665.0 836.8,1665.1 837.3,1665.2 837.8,1665.4 838.3,1665.6 838.8,1665.7 839.3,1665.9 839.8,1666.1 840.3,1666.3 840.8,1666.5 841.3,1666.6 841.8,1666.8 842.3,1666.9 842.8,1667.1 843.3,1667.2 843.8,1667.2 844.3,1667.3 844.8,1667.3 845.3,1667.2 845.8,1666.9 846.3,1666.4 846.8,1665.8 847.3,1665.1 847.8,1664.2 848.3,1663.2 848.8,1662.1 849.3,1660.8 849.8,1659.5 850.3,1658.1 850.8,1656.6 851.3,1654.8 851.8,1651.7 852.3,1647.7 852.8,1643.1 853.3,1638.4 853.8,1633.8 854.3,1629.9 854.8,1626.9 855.3,1623.9 855.8,1621.0 856.3,1618.1 856.8,1615.6 857.3,1613.6 857.8,1612.2 858.3,1611.5 858.8,1611.8 859.3,1612.9 859.8,1614.7 860.3,1617.0 860.8,1619.6 861.3,1622.3 861.8,1625.0 862.3,1627.6 862.8,1630.9 863.3,1634.6 863.8,1638.4 864.3,1642.1 864.8,1645.2 865.3,1647.4 865.8,1648.7 866.3,1649.8 866.8,1650.7 867.3,1651.6 867.8,1652.3 868.3,1653.0 868.8,1653.6 869.3,1654.1 869.8,1654.7 870.3,1655.2 870.8,1655.8 871.3,1656.4 871.8,1656.9 872.3,1657.5 872.8,1658.1 873.3,1658.7 873.8,1659.3 874.3,1659.9 874.8,1660.5 875.3,1661.0 875.8,1661.5 876.3,1662.0 876.8,1662.5 877.3,1662.9 877.8,1663.2 878.3,1663.6 878.8,1663.8 879.3,1664.1 879.8,1664.2 880.3,1664.4 880.8,1664.5 881.3,1664.6 881.8,1664.8 882.3,1664.9 882.8,1665.0 883.3,1665.1 883.8,1665.2 884.3,1665.3 884.8,1665.4 885.3,1665.5 885.8,1665.6 886.3,1665.6 886.8,1665.7 887.3,1665.7 887.8,1665.8 888.3,1665.8 888.8,1665.8 889.3,1665.8 889.8,1665.8 890.3,1665.8 890.8,1665.7 891.3,1665.7 891.8,1665.6 892.3,1665.5 892.8,1665.5 893.3,1665.4 893.8,1665.3 894.3,1665.2 894.8,1665.2 895.3,1665.1 895.8,1665.1 896.3,1665.0 896.8,1665.0 897.3,1665.0 897.8,1665.1 898.3,1665.4 898.8,1665.9 899.3,1666.4 899.8,1667.1 900.3,1667.8 900.8,1668.4 901.3,1669.1 901.8,1669.8 902.3,1670.3 902.8,1670.8 903.3,1671.1 903.8,1671.2 904.3,1671.2 904.8,1671.2 905.3,1671.2 905.8,1671.2 906.3,1671.2 906.8,1671.2 907.3,1671.2 907.8,1671.2 908.3,1671.2 908.8,1671.2 909.3,1671.2 909.8,1671.2 910.3,1671.2 910.8,1671.2 911.3,1671.2 911.8,1671.2 912.3,1671.2 912.8,1671.2 913.3,1671.2 913.8,1671.2 914.3,1671.2 914.8,1671.2 915.3,1671.2 915.8,1671.2 916.3,1671.2 916.8,1671.2 917.3,1671.2 917.8,1671.2 918.3,1671.2 918.8,1671.2 919.3,1671.2 919.8,1671.1 920.3,1671.0 920.8,1670.9 921.3,1670.7 921.8,1670.5 922.3,1670.3 922.8,1670.1 923.3,1669.8 923.8,1669.6 924.3,1669.4 924.8,1669.1 925.3,1668.9 925.8,1668.7 926.3,1668.4 926.8,1668.2 927.3,1668.1 927.8,1667.9 928.3,1667.8 928.8,1667.7 929.3,1667.7 929.8,1667.7 930.3,1667.8 930.8,1667.9 931.3,1668.0 931.8,1668.2 932.3,1668.4 932.8,1668.7 933.3,1668.9 933.8,1669.2 934.3,1669.4 934.8,1669.7 935.3,1669.9 935.8,1670.1 936.3,1670.2 936.8,1670.3 937.3,1670.4 937.8,1670.4 938.3,1670.4 938.8,1670.3 939.3,1670.3 939.8,1670.2 940.3,1670.1 940.8,1670.0 941.3,1669.9 941.8,1669.8 942.3,1669.6 942.8,1669.5 943.3,1669.4 943.8,1669.2 944.3,1669.1 944.8,1669.0 945.3,1668.9 945.8,1668.8 946.3,1668.7 946.8,1668.6 947.3,1668.5 947.8,1668.5 948.3,1668.5 948.8,1668.5 949.3,1668.6 949.8,1668.7 950.3,1668.8 950.8,1668.9 951.3,1669.1 951.8,1669.3 952.3,1669.5 952.8,1669.7 953.3,1670.0 953.8,1670.2 954.3,1670.4 954.8,1670.6 955.3,1670.9 955.8,1671.1 956.3,1671.2 956.8,1671.4 957.3,1671.6 957.8,1671.7 958.3,1671.7 958.8,1671.8 959.3,1671.8 959.8,1671.8 960.3,1671.8 960.8,1671.8 961.3,1671.8 961.8,1671.8 962.3,1671.8 962.8,1671.8 963.3,1671.8 963.8,1671.8 964.3,1671.8 964.8,1671.8 965.3,1671.7 965.8,1671.7 966.3,1671.7 966.8,1671.7 967.3,1671.7 967.8,1671.7 968.3,1671.7 968.8,1671.7 969.3,1671.7 969.8,1671.6 970.3,1671.6 970.8,1671.6 971.3,1671.6 971.8,1671.6 972.3,1671.6 972.8,1671.6 973.3,1671.6 973.8,1671.5 974.3,1671.5 974.8,1671.5 975.3,1671.5 975.8,1671.5 976.3,1671.5 976.8,1671.5 977.3,1671.4 977.8,1671.4 978.3,1671.4 978.8,1671.4 979.3,1671.4 979.8,1671.4 980.3,1671.4 980.8,1671.3 981.3,1671.3 981.8,1671.3 982.3,1671.3 982.8,1671.3 983.3,1671.3 983.8,1671.3 984.3,1671.3 984.8,1671.3 985.3,1671.3 985.8,1671.2 986.3,1671.2 986.8,1671.2 987.3,1671.2 987.8,1671.2 988.3,1671.2 988.8,1671.2 989.3,1671.2 989.8,1671.2 990.3,1671.2 990.8,1671.2 991.3,1671.2 991.8,1671.2 992.3,1671.2 992.8,1671.2 993.3,1671.2 993.8,1671.2 994.3,1671.2 994.8,1671.3 995.3,1671.3 995.8,1671.3 996.3,1671.3 996.8,1671.3 997.3,1671.3 997.8,1671.4 998.3,1671.4 998.8,1671.4 999.3,1671.4 999.8,1671.5 1000.3,1671.5 1000.8,1671.5 1001.3,1671.5 1001.8,1671.6 1002.3,1671.6 1002.8,1671.6 1003.3,1671.7 1003.8,1671.7 1004.3,1671.7 1004.8,1671.8 1005.3,1671.8 1005.8,1671.8 1006.3,1671.8 1006.8,1671.9 1007.3,1671.9 1007.8,1671.9 1008.3,1672.0 1008.8,1672.0 1009.3,1672.0 1009.8,1672.0 1010.3,1672.1 1010.8,1672.1 1011.3,1672.1 1011.8,1672.1 1012.3,1672.2 1012.8,1672.2 1013.3,1672.2 1013.8,1672.2 1014.3,1672.2 1014.8,1672.3 1015.3,1672.3 1015.8,1672.3 1016.3,1672.3 1016.8,1672.3 1017.3,1672.3 1017.8,1672.3 1018.3,1672.3 1018.8,1672.3 1019.3,1672.3 1019.8,1672.3 1020.3,1672.3 1020.8,1672.3 1021.3,1672.3 1021.8,1672.2 1022.3,1672.2 1022.8,1672.2 1023.3,1672.2 1023.8,1672.2 1024.3,1672.1 1024.8,1672.1 1025.3,1672.1 1025.8,1672.1 1026.3,1672.0 1026.8,1672.0 1027.3,1672.0 1027.8,1672.0 1028.3,1672.0 1028.8,1671.9 1029.3,1671.9 1029.8,1671.9 1030.3,1671.9 1030.8,1671.9 1031.3,1671.8 1031.8,1671.8 1032.3,1671.8 1032.8,1671.8 1033.3,1671.8 1033.8,1671.8 1034.3,1671.8 1034.8,1671.8 1035.3,1671.8 1035.8,1671.8 1036.3,1671.8 1036.8,1671.8 1037.3,1671.8 1037.8,1671.9 1038.3,1671.9 1038.8,1671.9 1039.3,1671.9 1039.8,1671.9 1040.3,1672.0 1040.8,1672.0 1041.3,1672.0 1041.8,1672.0 1042.3,1672.1 1042.8,1672.1 1043.3,1672.1 1043.8,1672.2 1044.3,1672.2 1044.8,1672.2 1045.3,1672.3 1045.8,1672.3 1046.3,1672.3 1046.8,1672.4 1047.3,1672.4 1047.8,1672.5 1048.3,1672.5 1048.8,1672.5 1049.3,1672.6 1049.8,1672.6 1050.3,1672.7 1050.8,1672.7 1051.3,1672.7 1051.8,1672.8 1052.3,1672.8 1052.8,1672.9 1053.3,1672.9 1053.8,1672.9 1054.3,1673.0 1054.8,1673.0 1055.3,1673.0 1055.8,1673.1 1056.3,1673.1 1056.8,1673.1 1057.3,1673.2 1057.8,1673.2 1058.3,1673.2 1058.8,1673.3 1059.3,1673.3 1059.8,1673.3 1060.3,1673.4 1060.8,1673.4 1061.3,1673.4 1061.8,1673.4 1062.3,1673.4 1062.8,1673.5 1063.3,1673.5 1063.8,1673.5 1064.3,1673.5 1064.8,1673.6 1065.3,1673.6 1065.8,1673.6 1066.3,1673.6 1066.8,1673.7 1067.3,1673.7 1067.8,1673.7 1068.3,1673.7 1068.8,1673.8 1069.3,1673.8 1069.8,1673.8 1070.3,1673.8 1070.8,1673.8 1071.3,1673.9 1071.8,1673.9 1072.3,1673.9 1072.8,1673.9 1073.3,1674.0 1073.8,1674.0 1074.3,1674.0 1074.8,1674.0 1075.3,1674.0 1075.8,1674.1 1076.3,1674.1 1076.8,1674.1 1077.3,1674.1 1077.8,1674.1 1078.3,1674.2 1078.8,1674.2 1079.3,1674.2 1079.8,1674.2 1080.3,1674.2 1080.8,1674.2 1081.3,1674.3 1081.8,1674.3 1082.3,1674.3 1082.8,1674.3 1083.3,1674.3 1083.8,1674.3 1084.3,1674.3 1084.8,1674.3 1085.3,1674.4 1085.8,1674.4 1086.3,1674.4 1086.8,1674.4 1087.3,1674.4 1087.8,1674.4 1088.3,1674.4 1088.8,1674.4 1089.3,1674.4 1089.8,1674.4 1090.3,1674.4 1090.8,1674.4 1091.3,1674.4 1091.8,1674.4 1092.3,1674.4 1092.8,1674.4 1093.3,1674.4 1093.8,1674.4 1094.3,1674.4 1094.8,1674.4 1095.3,1674.4 1095.8,1674.4 1096.3,1674.4 1096.8,1674.4 1097.3,1674.4 1097.8,1674.4 1098.3,1674.4 1098.8,1674.4 1099.3,1674.4 1099.8,1674.4 1100.3,1674.4 1100.8,1674.4 1101.3,1674.4 1101.8,1674.4 1102.3,1674.4 1102.8,1674.4 1103.3,1674.4 1103.8,1674.4 1104.3,1674.4 1104.8,1674.4 1105.3,1674.4 1105.8,1674.4 1106.3,1674.4 1106.8,1674.4 1107.3,1674.4 1107.8,1674.4 1108.3,1674.4 1108.8,1674.4 1109.3,1674.4 1109.8,1674.4 1110.3,1674.4 1110.8,1674.4 1111.3,1674.4 1111.8,1674.4 1112.3,1674.4 1112.8,1674.4 1113.3,1674.4 1113.8,1674.4 1114.3,1674.4 1114.8,1674.4 1115.3,1674.4 1115.8,1674.4 1116.3,1674.4 1116.8,1674.4 1117.3,1674.4 1117.8,1674.4 1118.3,1674.4 1118.8,1674.4 1119.3,1674.4 1119.8,1674.4 1120.3,1674.4 1120.8,1674.4 1121.3,1674.4 1121.8,1674.4 1122.3,1674.4 1122.8,1674.4 1123.3,1674.4 1123.8,1674.4 1124.3,1674.4 1124.8,1674.4 1125.3,1674.4 1125.8,1674.4 1126.3,1674.4 1126.8,1674.4 1127.3,1674.4 1127.8,1674.4 1128.3,1674.4"/>
<polyline fill="none" stroke="#4f4f4f" stroke-width="6.9" stroke-linejoin="round" stroke-linecap="round" points="312.3,2529.4 312.8,2529.4 313.3,2529.4 313.8,2529.4 314.3,2529.4 314.8,2529.4 315.3,2529.4 315.8,2529.4 316.3,2529.4 316.8,2529.4 317.3,2529.4 317.8,2529.4 318.3,2529.4 318.8,2529.4 319.3,2529.4 319.8,2529.4 320.3,2529.4 320.8,2529.4 321.3,2529.4 321.8,2529.4 322.3,2529.4 322.8,2529.4 323.3,2529.4 323.8,2529.4 324.3,2529.4 324.8,2529.4 325.3,2529.4 325.8,2529.4 326.3,2529.4 326.8,2529.4 327.3,2529.4 327.8,2529.4 328.3,2529.4 328.8,2529.4 329.3,2529.4 329.8,2529.4 330.3,2529.4 330.8,2529.4 331.3,2529.4 331.8,2529.4 332.3,2529.4 332.8,2529.4 333.3,2529.4 333.8,2529.4 334.3,2529.4 334.8,2529.4 335.3,2529.4 335.8,2529.4 336.3,2529.4 336.8,2529.4 337.3,2529.4 337.8,2529.4 338.3,2529.4 338.8,2529.4 339.3,2529.4 339.8,2529.4 340.3,2529.4 340.8,2529.4 341.3,2529.4 341.8,2529.4 342.3,2529.4 342.8,2529.4 343.3,2529.4 343.8,2529.4 344.3,2529.4 344.8,2529.4 345.3,2529.4 345.8,2529.4 346.3,2529.4 346.8,2529.4 347.3,2529.4 347.8,2529.4 348.3,2529.4 348.8,2529.4 349.3,2529.4 349.8,2529.4 350.3,2529.4 350.8,2529.4 351.3,2529.4 351.8,2529.4 352.3,2529.4 352.8,2529.4 353.3,2529.4 353.8,2529.4 354.3,2529.4 354.8,2529.4 355.3,2529.4 355.8,2529.4 356.3,2529.4 356.8,2529.4 357.3,2529.4 357.8,2529.4 358.3,2529.4 358.8,2529.4 359.3,2529.4 359.8,2529.4 360.3,2529.4 360.8,2529.4 361.3,2529.4 361.8,2529.4 362.3,2529.4 362.8,2529.4 363.3,2529.4 363.8,2529.4 364.3,2529.4 364.8,2529.4 365.3,2529.4 365.8,2529.4 366.3,2529.4 366.8,2529.4 367.3,2529.4 367.8,2529.4 368.3,2529.4 368.8,2529.4 369.3,2529.4 369.8,2529.4 370.3,2529.4 370.8,2529.4 371.3,2529.4 371.8,2529.4 372.3,2529.4 372.8,2529.4 373.3,2529.4 373.8,2529.4 374.3,2529.4 374.8,2529.4 375.3,2529.4 375.8,2529.4 376.3,2529.4 376.8,2529.4 377.3,2529.4 377.8,2529.4 378.3,2529.4 378.8,2529.4 379.3,2529.4 379.8,2529.4 380.3,2529.4 380.8,2529.4 381.3,2529.4 381.8,2529.4 382.3,2529.4 382.8,2529.4 383.3,2529.4 383.8,2529.4 384.3,2529.4 384.8,2529.4 385.3,2529.4 385.8,2529.4 386.3,2529.4 386.8,2529.4 387.3,2529.4 387.8,2529.4 388.3,2529.4 388.8,2529.4 389.3,2529.4 389.8,2529.4 390.3,2529.4 390.8,2529.4 391.3,2529.4 391.8,2529.4 392.3,2529.4 392.8,2529.3 393.3,2529.3 393.8,2529.3 394.3,2529.2 394.8,2529.2 395.3,2529.1 395.8,2529.1 396.3,2529.0 396.8,2528.8 397.3,2528.7 397.8,2528.5 398.3,2528.3 398.8,2528.0 399.3,2527.7 399.8,2527.4 400.3,2527.0 400.8,2526.5 401.3,2526.0 401.8,2525.5 402.3,2524.9 402.8,2524.3 403.3,2523.6 403.8,2522.9 404.3,2522.2 404.8,2521.4 405.3,2520.7 405.8,2520.0 406.3,2519.4 406.8,2518.8 407.3,2518.2 407.8,2517.8 408.3,2517.4 408.8,2517.1 409.3,2517.0 409.8,2516.9 410.3,2517.0 410.8,2517.1 411.3,2517.4 411.8,2517.7 412.3,2518.1 412.8,2518.6 413.3,2519.1 413.8,2519.6 414.3,2520.2 414.8,2520.7 415.3,2521.2 415.8,2521.6 416.3,2522.0 416.8,2522.3 417.3,2522.5 417.8,2522.6 418.3,2522.6 418.8,2522.5 419.3,2522.3 419.8,2522.1 420.3,2521.7 420.8,2521.3 421.3,2520.9 421.8,2520.4 422.3,2519.9 422.8,2519.4 423.3,2518.9 423.8,2518.5 424.3,2518.1 424.8,2517.8 425.3,2517.6 425.8,2517.4 426.3,2517.4 426.8,2517.5 427.3,2517.7 427.8,2517.9 428.3,2518.3 428.8,2518.8 429.3,2519.3 429.8,2519.9 430.3,2520.5 430.8,2521.2 431.3,2521.9 431.8,2522.6 432.3,2523.3 432.8,2523.9 433.3,2524.6 433.8,2525.2 434.3,2525.8 434.8,2526.3 435.3,2526.7 435.8,2527.2 436.3,2527.5 436.8,2527.8 437.3,2528.1 437.8,2528.4 438.3,2528.6 438.8,2528.7 439.3,2528.9 439.8,2529.0 440.3,2529.1 440.8,2529.2 441.3,2529.2 441.8,2529.3 442.3,2529.3 442.8,2529.3 443.3,2529.3 443.8,2529.4 444.3,2529.4 444.8,2529.4 445.3,2529.4 445.8,2529.4 446.3,2529.4 446.8,2529.4 447.3,2529.4 447.8,2529.4 448.3,2529.4 448.8,2529.4 449.3,2529.4 449.8,2529.4 450.3,2529.4 450.8,2529.4 451.3,2529.4 451.8,2529.4 452.3,2529.4 452.8,2529.4 453.3,2529.4 453.8,2529.4 454.3,2529.4 454.8,2529.4 455.3,2529.4 455.8,2529.4 456.3,2529.4 456.8,2529.4 457.3,2529.4 457.8,2529.4 458.3,2529.4 458.8,2529.4 459.3,2529.4 459.8,2529.4 460.3,2529.4 460.8,2529.4 461.3,2529.4 461.8,2529.4 462.3,2529.4 462.8,2529.4 463.3,2529.4 463.8,2529.4 464.3,2529.4 464.8,2529.4 465.3,2529.4 465.8,2529.4 466.3,2529.4 466.8,2529.4 467.3,2529.4 467.8,2529.4 468.3,2529.4 468.8,2529.4 469.3,2529.4 469.8,2529.4 470.3,2529.4 470.8,2529.4 471.3,2529.4 471.8,2529.4 472.3,2529.4 472.8,2529.4 473.3,2529.4 473.8,2529.4 474.3,2529.4 474.8,2529.4 475.3,2529.4 475.8,2529.4 476.3,2529.4 476.8,2529.4 477.3,2529.4 477.8,2529.4 478.3,2529.4 478.8,2529.4 479.3,2529.4 479.8,2529.4 480.3,2529.4 480.8,2529.4 481.3,2529.4 481.8,2529.4 482.3,2529.4 482.8,2529.4 483.3,2529.4 483.8,2529.4 484.3,2529.4 484.8,2529.4 485.3,2529.4 485.8,2529.4 486.3,2529.4 486.8,2529.4 487.3,2529.4 487.8,2529.4 488.3,2529.4 488.8,2529.4 489.3,2529.4 489.8,2529.4 490.3,2529.4 490.8,2529.4 491.3,2529.4 491.8,2529.4 492.3,2529.4 492.8,2529.4 493.3,2529.4 493.8,2529.4 494.3,2529.4 494.8,2529.4 495.3,2529.4 495.8,2529.4 496.3,2529.4 496.8,2529.4 497.3,2529.4 497.8,2529.4 498.3,2529.4 498.8,2529.4 499.3,2529.4 499.8,2529.4 500.3,2529.4 500.8,2529.4 501.3,2529.4 501.8,2529.4 502.3,2529.4 502.8,2529.4 503.3,2529.4 503.8,2529.4 504.3,2529.4 504.8,2529.4 505.3,2529.4 505.8,2529.4 506.3,2529.4 506.8,2529.4 507.3,2529.4 507.8,2529.4 508.3,2529.4 508.8,2529.4 509.3,2529.4 509.8,2529.4 510.3,2529.4 510.8,2529.4 511.3,2529.4 511.8,2529.4 512.3,2529.4 512.8,2529.4 513.3,2529.4 513.8,2529.4 514.3,2529.4 514.8,2529.4 515.3,2529.4 515.8,2529.4 516.3,2529.4 516.8,2529.4 517.3,2529.4 517.8,2529.4 518.3,2529.4 518.8,2529.4 519.3,2529.4 519.8,2529.4 520.3,2529.4 520.8,2529.4 521.3,2529.4 521.8,2529.4 522.3,2529.4 522.8,2529.4 523.3,2529.4 523.8,2529.4 524.3,2529.4 524.8,2529.4 525.3,2529.4 525.8,2529.4 526.3,2529.4 526.8,2529.4 527.3,2529.4 527.8,2529.4 528.3,2529.4 528.8,2529.4 529.3,2529.4 529.8,2529.4 530.3,2529.4 530.8,2529.4 531.3,2529.4 531.8,2529.4 532.3,2529.4 532.8,2529.4 533.3,2529.4 533.8,2529.4 534.3,2529.4 534.8,2529.4 535.3,2529.4 535.8,2529.4 536.3,2529.4 536.8,2529.4 537.3,2529.4 537.8,2529.4 538.3,2529.4 538.8,2529.4 539.3,2529.4 539.8,2529.4 540.3,2529.4 540.8,2529.3 541.3,2529.3 541.8,2529.3 542.3,2529.3 542.8,2529.2 543.3,2529.2 543.8,2529.1 544.3,2529.1 544.8,2529.0 545.3,2528.9 545.8,2528.8 546.3,2528.7 546.8,2528.5 547.3,2528.4 547.8,2528.2 548.3,2528.0 548.8,2527.8 549.3,2527.6 549.8,2527.4 550.3,2527.1 550.8,2526.9 551.3,2526.7 551.8,2526.5 552.3,2526.3 552.8,2526.1 553.3,2525.9 553.8,2525.8 554.3,2525.7 554.8,2525.6 555.3,2525.6 555.8,2525.6 556.3,2525.7 556.8,2525.7 557.3,2525.9 557.8,2526.0 558.3,2526.2 558.8,2526.4 559.3,2526.6 559.8,2526.8 560.3,2527.0 560.8,2527.3 561.3,2527.5 561.8,2527.7 562.3,2527.9 562.8,2528.1 563.3,2528.3 563.8,2528.5 564.3,2528.6 564.8,2528.8 565.3,2528.9 565.8,2529.0 566.3,2529.0 566.8,2529.1 567.3,2529.2 567.8,2529.2 568.3,2529.3 568.8,2529.3 569.3,2529.3 569.8,2529.3 570.3,2529.4 570.8,2529.4 571.3,2529.4 571.8,2529.4 572.3,2529.4 572.8,2529.4 573.3,2529.4 573.8,2529.4 574.3,2529.4 574.8,2529.4 575.3,2529.4 575.8,2529.4 576.3,2529.4 576.8,2529.4 577.3,2529.4 577.8,2529.4 578.3,2529.4 578.8,2529.4 579.3,2529.4 579.8,2529.4 580.3,2529.4 580.8,2529.4 581.3,2529.4 581.8,2529.4 582.3,2529.4 582.8,2529.4 583.3,2529.4 583.8,2529.4 584.3,2529.4 584.8,2529.4 585.3,2529.4 585.8,2529.4 586.3,2529.4 586.8,2529.4 587.3,2529.4 587.8,2529.4 588.3,2529.4 588.8,2529.4 589.3,2529.4 589.8,2529.4 590.3,2529.4 590.8,2529.4 591.3,2529.4 591.8,2529.4 592.3,2529.4 592.8,2529.4 593.3,2529.4 593.8,2529.4 594.3,2529.4 594.8,2529.4 595.3,2529.4 595.8,2529.4 596.3,2529.4 596.8,2529.4 597.3,2529.4 597.8,2529.4 598.3,2529.4 598.8,2529.4 599.3,2529.4 599.8,2529.4 600.3,2528.7 600.8,2528.7 601.3,2528.7 601.8,2528.7 602.3,2528.7 602.8,2528.7 603.3,2528.7 603.8,2528.7 604.3,2528.7 604.8,2528.6 605.3,2528.6 605.8,2528.5 606.3,2528.3 606.8,2528.2 607.3,2528.0 607.8,2527.8 608.3,2527.6 608.8,2527.4 609.3,2527.2 609.8,2527.0 610.3,2526.8 610.8,2526.6 611.3,2526.4 611.8,2526.2 612.3,2526.0 612.8,2525.8 613.3,2525.7 613.8,2525.6 614.3,2525.5 614.8,2525.4 615.3,2525.4 615.8,2525.4 616.3,2525.4 616.8,2525.5 617.3,2525.6 617.8,2525.7 618.3,2525.9 618.8,2526.1 619.3,2526.3 619.8,2526.5 620.3,2526.6 620.8,2526.8 621.3,2527.0 621.8,2527.2 622.3,2527.3 622.8,2527.4 623.3,2527.5 623.8,2527.5 624.3,2527.5 624.8,2527.5 625.3,2527.5 625.8,2527.5 626.3,2527.5 626.8,2527.5 627.3,2527.5 627.8,2527.5 628.3,2527.5 628.8,2527.5 629.3,2527.4 629.8,2527.4 630.3,2527.4 630.8,2527.4 631.3,2527.3 631.8,2527.3 632.3,2527.3 632.8,2527.3 633.3,2527.2 633.8,2527.2 634.3,2527.1 634.8,2527.1 635.3,2526.7 635.8,2526.2 636.3,2525.5 636.8,2524.7 637.3,2523.7 637.8,2522.7 638.3,2521.6 638.8,2520.5 639.3,2519.3 639.8,2518.2 640.3,2517.2 640.8,2516.3 641.3,2515.3 641.8,2514.2 642.3,2513.0 642.8,2511.8 643.3,2510.6 643.8,2509.5 644.3,2508.4 644.8,2507.4 645.3,2506.6 645.8,2506.1 646.3,2505.7 646.8,2505.6 647.3,2505.8 647.8,2506.3 648.3,2507.1 648.8,2508.0 649.3,2509.1 649.8,2510.3 650.3,2511.5 650.8,2512.7 651.3,2513.7 651.8,2514.7 652.3,2515.5 652.8,2516.0 653.3,2516.2 653.8,2516.2 654.3,2516.1 654.8,2515.8 655.3,2515.5 655.8,2515.0 656.3,2514.5 656.8,2513.9 657.3,2513.3 657.8,2512.6 658.3,2511.9 658.8,2511.1 659.3,2510.3 659.8,2509.5 660.3,2508.3 660.8,2506.9 661.3,2505.2 661.8,2503.4 662.3,2501.5 662.8,2499.5 663.3,2497.7 663.8,2495.9 664.3,2494.4 664.8,2493.2 665.3,2492.2 665.8,2491.2 666.3,2490.2 666.8,2489.3 667.3,2488.4 667.8,2487.6 668.3,2486.9 668.8,2486.4 669.3,2486.0 669.8,2485.7 670.3,2485.7 670.8,2486.3 671.3,2487.2 671.8,2488.6 672.3,2490.3 672.8,2492.2 673.3,2494.1 673.8,2496.1 674.3,2498.0 674.8,2499.7 675.3,2501.2 675.8,2502.4 676.3,2503.6 676.8,2504.7 677.3,2505.9 677.8,2507.0 678.3,2508.1 678.8,2509.1 679.3,2510.0 679.8,2510.9 680.3,2511.6 680.8,2512.3 681.3,2512.9 681.8,2513.5 682.3,2514.0 682.8,2514.6 683.3,2515.2 683.8,2515.7 684.3,2516.2 684.8,2516.6 685.3,2517.0 685.8,2517.3 686.3,2517.6 686.8,2517.8 687.3,2518.0 687.8,2518.0 688.3,2517.9 688.8,2517.6 689.3,2517.0 689.8,2516.2 690.3,2515.3 690.8,2514.2 691.3,2513.0 691.8,2511.7 692.3,2510.4 692.8,2509.1 693.3,2507.8 693.8,2506.5 694.3,2505.4 694.8,2504.1 695.3,2502.7 695.8,2501.2 696.3,2499.6 696.8,2498.0 697.3,2496.4 697.8,2494.9 698.3,2493.5 698.8,2492.3 699.3,2491.2 699.8,2490.4 700.3,2489.5 700.8,2488.7 701.3,2488.0 701.8,2487.5 702.3,2487.2 702.8,2487.1 703.3,2487.6 703.8,2488.5 704.3,2489.7 704.8,2491.1 705.3,2492.7 705.8,2494.3 706.3,2495.8 706.8,2497.2 707.3,2498.4 707.8,2499.2 708.3,2499.7 708.8,2500.2 709.3,2500.7 709.8,2501.2 710.3,2501.7 710.8,2502.1 711.3,2502.4 711.8,2502.8 712.3,2503.0 712.8,2503.3 713.3,2503.4 713.8,2503.5 714.3,2503.5 714.8,2503.4 715.3,2503.2 715.8,2502.9 716.3,2502.6 716.8,2502.2 717.3,2501.8 717.8,2501.4 718.3,2501.0 718.8,2500.6 719.3,2500.2 719.8,2499.9 720.3,2499.6 720.8,2499.4 721.3,2499.3 721.8,2499.3 722.3,2499.5 722.8,2499.8 723.3,2500.3 723.8,2500.8 724.3,2501.5 724.8,2502.2 725.3,2502.9 725.8,2503.6 726.3,2504.4 726.8,2505.1 727.3,2505.8 727.8,2506.4 728.3,2506.9 728.8,2507.3 729.3,2507.6 729.8,2507.7 730.3,2507.7 730.8,2507.5 731.3,2507.2 731.8,2506.8 732.3,2506.4 732.8,2505.9 733.3,2505.3 733.8,2504.8 734.3,2504.2 734.8,2503.7 735.3,2503.3 735.8,2502.9 736.3,2502.6 736.8,2502.4 737.3,2502.4 737.8,2502.5 738.3,2502.6 738.8,2502.8 739.3,2503.1 739.8,2503.5 740.3,2503.9 740.8,2504.4 741.3,2504.9 741.8,2505.4 742.3,2506.0 742.8,2506.5 743.3,2507.1 743.8,2507.7 744.3,2508.3 744.8,2508.9 745.3,2509.5 745.8,2510.1 746.3,2510.7 746.8,2511.5 747.3,2512.3 747.8,2513.2 748.3,2514.1 748.8,2515.1 749.3,2516.0 749.8,2517.0 750.3,2517.9 750.8,2518.7 751.3,2519.5 751.8,2520.2 752.3,2520.8 752.8,2521.2 753.3,2521.6 753.8,2521.7 754.3,2521.7 754.8,2521.6 755.3,2521.3 755.8,2521.0 756.3,2520.6 756.8,2520.1 757.3,2519.6 757.8,2519.0 758.3,2518.4 758.8,2517.8 759.3,2517.2 759.8,2516.7 760.3,2516.1 760.8,2515.5 761.3,2514.8 761.8,2514.1 762.3,2513.2 762.8,2512.4 763.3,2511.7 763.8,2511.0 764.3,2510.5 764.8,2510.1 765.3,2509.9 765.8,2509.9 766.3,2510.0 766.8,2510.3 767.3,2510.7 767.8,2511.2 768.3,2511.8 768.8,2512.4 769.3,2513.0 769.8,2513.7 770.3,2514.4 770.8,2515.1 771.3,2515.8 771.8,2516.4 772.3,2516.9 772.8,2517.4 773.3,2517.8 773.8,2518.2 774.3,2518.7 774.8,2519.1 775.3,2519.5 775.8,2519.9 776.3,2520.3 776.8,2520.7 777.3,2521.1 777.8,2521.4 778.3,2521.8 778.8,2522.2 779.3,2522.5 779.8,2522.8 780.3,2523.2 780.8,2523.5 781.3,2523.8 781.8,2524.1 782.3,2524.4 782.8,2524.7 783.3,2524.9 783.8,2525.2 784.3,2525.5 784.8,2525.8 785.3,2526.1 785.8,2526.3 786.3,2526.6 786.8,2526.9 787.3,2527.2 787.8,2527.4 788.3,2527.6 788.8,2527.8 789.3,2528.0 789.8,2528.2 790.3,2528.3 790.8,2528.4 791.3,2528.5 791.8,2528.5 792.3,2528.5 792.8,2528.5 793.3,2528.5 793.8,2528.4 794.3,2528.4 794.8,2528.4 795.3,2528.4 795.8,2528.4 796.3,2528.4 796.8,2528.3 797.3,2528.3 797.8,2528.3 798.3,2528.3 798.8,2528.3 799.3,2528.2 799.8,2528.2 800.3,2528.2 800.8,2528.2 801.3,2528.1 801.8,2528.1 802.3,2528.1 802.8,2528.1 803.3,2528.1 803.8,2528.0 804.3,2528.0 804.8,2528.0 805.3,2528.0 805.8,2528.0 806.3,2528.0 806.8,2528.0 807.3,2528.0 807.8,2528.0 808.3,2528.0 808.8,2528.0 809.3,2528.0 809.8,2528.0 810.3,2528.0 810.8,2528.0 811.3,2528.0 811.8,2528.0 812.3,2528.0 812.8,2528.1 813.3,2528.1 813.8,2528.1 814.3,2528.1 814.8,2528.1 815.3,2528.2 815.8,2528.2 816.3,2528.2 816.8,2528.2 817.3,2528.2 817.8,2528.2 818.3,2528.2 818.8,2528.3 819.3,2528.3 819.8,2528.3 820.3,2528.2 820.8,2528.1 821.3,2527.7 821.8,2527.3 822.3,2526.6 822.8,2525.9 823.3,2524.9 823.8,2523.9 824.3,2522.7 824.8,2521.4 825.3,2520.0 825.8,2518.4 826.3,2516.7 826.8,2514.9 827.3,2512.9 827.8,2509.3 828.3,2504.3 828.8,2498.0 829.3,2490.6 829.8,2482.4 830.3,2473.5 830.8,2464.1 831.3,2453.4 831.8,2439.8 832.3,2424.3 832.8,2408.2 833.3,2390.5 833.8,2369.8 834.3,2350.0 834.8,2335.5 835.3,2326.9 835.8,2319.1 836.3,2312.2 836.8,2306.7 837.3,2302.7 837.8,2300.7 838.3,2301.2 838.8,2305.3 839.3,2312.0 839.8,2320.1 840.3,2328.7 840.8,2336.9 841.3,2346.4 841.8,2357.2 842.3,2368.3 842.8,2379.2 843.3,2388.9 843.8,2397.4 844.3,2405.4 844.8,2413.0 845.3,2420.2 845.8,2427.0 846.3,2433.6 846.8,2440.4 847.3,2447.4 847.8,2454.1 848.3,2459.8 848.8,2463.9 849.3,2465.9 849.8,2467.4 850.3,2468.7 850.8,2469.8 851.3,2470.8 851.8,2471.6 852.3,2472.2 852.8,2472.8 853.3,2473.3 853.8,2473.7 854.3,2474.0 854.8,2474.3 855.3,2474.6 855.8,2474.8 856.3,2475.0 856.8,2475.2 857.3,2475.4 857.8,2475.6 858.3,2475.7 858.8,2475.9 859.3,2476.1 859.8,2476.3 860.3,2476.5 860.8,2476.8 861.3,2477.1 861.8,2477.4 862.3,2477.8 862.8,2478.1 863.3,2478.4 863.8,2478.7 864.3,2478.9 864.8,2479.1 865.3,2479.2 865.8,2479.3 866.3,2478.5 866.8,2474.3 867.3,2467.3 867.8,2458.4 868.3,2448.6 868.8,2438.9 869.3,2430.0 869.8,2419.8 870.3,2408.5 870.8,2397.2 871.3,2387.0 871.8,2378.8 872.3,2373.1 872.8,2367.8 873.3,2362.9 873.8,2358.6 874.3,2355.5 874.8,2353.6 875.3,2353.5 875.8,2356.1 876.3,2360.8 876.8,2367.0 877.3,2373.9 877.8,2381.0 878.3,2387.4 878.8,2392.8 879.3,2398.3 879.8,2404.2 880.3,2410.0 880.8,2415.3 881.3,2419.9 881.8,2423.4 882.3,2425.3 882.8,2426.3 883.3,2427.0 883.8,2427.7 884.3,2428.2 884.8,2428.6 885.3,2429.0 885.8,2429.3 886.3,2429.7 886.8,2430.1 887.3,2430.5 887.8,2431.1 888.3,2431.7 888.8,2432.6 889.3,2433.9 889.8,2435.6 890.3,2437.6 890.8,2439.9 891.3,2442.2 891.8,2444.5 892.3,2446.7 892.8,2448.7 893.3,2450.3 893.8,2451.5 894.3,2452.2 894.8,2452.5 895.3,2452.8 895.8,2453.0 896.3,2453.2 896.8,2453.4 897.3,2453.5 897.8,2453.6 898.3,2453.7 898.8,2453.8 899.3,2454.0 899.8,2454.1 900.3,2454.4 900.8,2454.6 901.3,2454.9 901.8,2455.4 902.3,2456.3 902.8,2457.6 903.3,2459.1 903.8,2460.9 904.3,2462.8 904.8,2464.8 905.3,2466.8 905.8,2468.9 906.3,2470.8 906.8,2472.6 907.3,2474.2 907.8,2476.0 908.3,2477.9 908.8,2479.8 909.3,2481.9 909.8,2483.9 910.3,2485.8 910.8,2487.7 911.3,2489.3 911.8,2490.8 912.3,2492.0 912.8,2492.9 913.3,2493.5 913.8,2493.6 914.3,2493.0 914.8,2491.7 915.3,2489.8 915.8,2487.3 916.3,2484.5 916.8,2481.4 917.3,2478.1 917.8,2474.7 918.3,2471.4 918.8,2468.3 919.3,2465.5 919.8,2463.0 920.3,2461.0 920.8,2458.8 921.3,2456.5 921.8,2454.3 922.3,2452.1 922.8,2450.1 923.3,2448.3 923.8,2446.8 924.3,2445.7 924.8,2445.1 925.3,2445.1 925.8,2445.6 926.3,2446.8 926.8,2448.3 927.3,2450.1 927.8,2452.0 928.3,2454.0 928.8,2455.9 929.3,2457.6 929.8,2458.9 930.3,2459.8 930.8,2460.8 931.3,2461.7 931.8,2462.6 932.3,2463.3 932.8,2464.0 933.3,2464.5 933.8,2464.9 934.3,2465.0 934.8,2464.8 935.3,2464.4 935.8,2463.7 936.3,2462.9 936.8,2462.0 937.3,2460.9 937.8,2459.9 938.3,2458.9 938.8,2458.0 939.3,2457.2 939.8,2456.6 940.3,2456.2 940.8,2455.9 941.3,2455.6 941.8,2455.3 942.3,2455.1 942.8,2454.9 943.3,2454.7 943.8,2454.6 944.3,2454.4 944.8,2454.2 945.3,2454.1 945.8,2453.9 946.3,2453.7 946.8,2453.4 947.3,2453.1 947.8,2452.8 948.3,2452.4 948.8,2452.0 949.3,2451.1 949.8,2449.9 950.3,2448.4 950.8,2446.7 951.3,2445.0 951.8,2443.2 952.3,2441.6 952.8,2440.1 953.3,2438.9 953.8,2438.2 954.3,2437.9 954.8,2437.9 955.3,2437.9 955.8,2437.9 956.3,2437.9 956.8,2437.9 957.3,2437.9 957.8,2437.9 958.3,2437.9 958.8,2437.9 959.3,2437.9 959.8,2437.9 960.3,2437.9 960.8,2437.9 961.3,2437.9 961.8,2437.3 962.3,2435.3 962.8,2432.0 963.3,2427.8 963.8,2423.0 964.3,2417.9 964.8,2412.9 965.3,2408.2 965.8,2404.2 966.3,2400.0 966.8,2395.3 967.3,2390.6 967.8,2386.4 968.3,2383.0 968.8,2381.1 969.3,2380.8 969.8,2382.4 970.3,2385.2 970.8,2388.9 971.3,2393.2 971.8,2397.4 972.3,2401.4 972.8,2404.5 973.3,2407.0 973.8,2409.5 974.3,2412.0 974.8,2414.4 975.3,2416.6 975.8,2418.4 976.3,2419.8 976.8,2420.6 977.3,2420.6 977.8,2420.0 978.3,2418.9 978.8,2417.2 979.3,2415.2 979.8,2412.9 980.3,2410.4 980.8,2407.9 981.3,2405.5 981.8,2402.8 982.3,2399.2 982.8,2395.0 983.3,2390.6 983.8,2386.2 984.3,2382.2 984.8,2378.9 985.3,2376.7 985.8,2375.7 986.3,2375.3 986.8,2375.0 987.3,2374.7 987.8,2374.5 988.3,2374.3 988.8,2374.1 989.3,2373.9 989.8,2373.7 990.3,2373.4 990.8,2373.1 991.3,2372.8 991.8,2372.4 992.3,2372.1 992.8,2371.7 993.3,2371.4 993.8,2371.1 994.3,2370.8 994.8,2370.5 995.3,2370.4 995.8,2370.2 996.3,2370.2 996.8,2370.4 997.3,2370.8 997.8,2371.6 998.3,2372.6 998.8,2373.8 999.3,2375.1 999.8,2376.7 1000.3,2378.3 1000.8,2380.1 1001.3,2381.8 1001.8,2384.0 1002.3,2386.9 1002.8,2390.6 1003.3,2394.6 1003.8,2399.0 1004.3,2403.3 1004.8,2407.4 1005.3,2411.1 1005.8,2414.2 1006.3,2417.1 1006.8,2420.1 1007.3,2423.0 1007.8,2425.8 1008.3,2428.3 1008.8,2430.5 1009.3,2432.2 1009.8,2433.3 1010.3,2433.9 1010.8,2434.5 1011.3,2434.9 1011.8,2435.4 1012.3,2435.7 1012.8,2436.0 1013.3,2436.2 1013.8,2436.4 1014.3,2436.4 1014.8,2436.3 1015.3,2436.0 1015.8,2435.5 1016.3,2434.8 1016.8,2434.1 1017.3,2433.2 1017.8,2432.3 1018.3,2431.4 1018.8,2430.5 1019.3,2429.6 1019.8,2428.7 1020.3,2428.0 1020.8,2427.3 1021.3,2426.8 1021.8,2426.5 1022.3,2426.4 1022.8,2426.5 1023.3,2426.8 1023.8,2427.3 1024.3,2427.9 1024.8,2428.6 1025.3,2429.5 1025.8,2430.4 1026.3,2431.4 1026.8,2432.5 1027.3,2433.6 1027.8,2434.7 1028.3,2435.8 1028.8,2436.8 1029.3,2438.1 1029.8,2439.5 1030.3,2441.0 1030.8,2442.6 1031.3,2444.3 1031.8,2446.0 1032.3,2447.7 1032.8,2449.3 1033.3,2450.9 1033.8,2452.3 1034.3,2453.6 1034.8,2454.9 1035.3,2456.2 1035.8,2457.5 1036.3,2458.6 1036.8,2459.2 1037.3,2459.3 1037.8,2458.9 1038.3,2458.1 1038.8,2457.1 1039.3,2455.8 1039.8,2454.3 1040.3,2452.8 1040.8,2451.1 1041.3,2449.5 1041.8,2448.0 1042.3,2446.6 1042.8,2445.4 1043.3,2444.4 1043.8,2443.8 1044.3,2443.6 1044.8,2443.7 1045.3,2443.8 1045.8,2444.1 1046.3,2444.5 1046.8,2444.9 1047.3,2445.5 1047.8,2446.0 1048.3,2446.6 1048.8,2447.3 1049.3,2448.0 1049.8,2448.6 1050.3,2449.3 1050.8,2450.0 1051.3,2450.6 1051.8,2451.2 1052.3,2452.0 1052.8,2452.8 1053.3,2453.7 1053.8,2454.6 1054.3,2455.6 1054.8,2456.6 1055.3,2457.6 1055.8,2458.6 1056.3,2459.6 1056.8,2460.5 1057.3,2461.3 1057.8,2462.0 1058.3,2462.6 1058.8,2463.1 1059.3,2463.4 1059.8,2463.6 1060.3,2463.5 1060.8,2463.1 1061.3,2462.5 1061.8,2461.5 1062.3,2460.4 1062.8,2459.2 1063.3,2457.8 1063.8,2456.5 1064.3,2455.1 1064.8,2453.9 1065.3,2452.8 1065.8,2451.8 1066.3,2451.2 1066.8,2450.8 1067.3,2450.7 1067.8,2450.9 1068.3,2451.1 1068.8,2451.5 1069.3,2452.0 1069.8,2452.5 1070.3,2453.1 1070.8,2453.7 1071.3,2454.3 1071.8,2454.8 1072.3,2455.3 1072.8,2455.8 1073.3,2456.1 1073.8,2456.3 1074.3,2456.4 1074.8,2456.3 1075.3,2456.1 1075.8,2455.8 1076.3,2455.4 1076.8,2454.8 1077.3,2454.2 1077.8,2453.6 1078.3,2452.8 1078.8,2452.1 1079.3,2451.2 1079.8,2450.4 1080.3,2449.6 1080.8,2448.8 1081.3,2447.9 1081.8,2447.2 1082.3,2446.4 1082.8,2445.8 1083.3,2445.2 1083.8,2444.6 1084.3,2444.2 1084.8,2443.9 1085.3,2443.7 1085.8,2443.6 1086.3,2444.2 1086.8,2445.7 1087.3,2448.1 1087.8,2451.1 1088.3,2454.4 1088.8,2458.0 1089.3,2461.5 1089.8,2465.3 1090.3,2470.1 1090.8,2475.5 1091.3,2481.0 1091.8,2486.2 1092.3,2490.7 1092.8,2494.7 1093.3,2498.7 1093.8,2502.5 1094.3,2506.2 1094.8,2509.7 1095.3,2513.0 1095.8,2515.9 1096.3,2518.4 1096.8,2520.5 1097.3,2522.4 1097.8,2524.4 1098.3,2526.1 1098.8,2527.4 1099.3,2528.3 1099.8,2528.7 1100.3,2528.7 1100.8,2528.7 1101.3,2528.7 1101.8,2528.7 1102.3,2528.7 1102.8,2528.7 1103.3,2528.7 1103.8,2528.7 1104.3,2528.7 1104.8,2528.7 1105.3,2528.7 1105.8,2528.7 1106.3,2528.7 1106.8,2528.7 1107.3,2528.7 1107.8,2528.7 1108.3,2528.7 1108.8,2528.7 1109.3,2528.7 1109.8,2528.7 1110.3,2528.7 1110.8,2528.7 1111.3,2528.7 1111.8,2528.7 1112.3,2528.7 1112.8,2528.7 1113.3,2528.7 1113.8,2528.7 1114.3,2528.7 1114.8,2528.7 1115.3,2528.7 1115.8,2528.7 1116.3,2528.7 1116.8,2528.7 1117.3,2528.7 1117.8,2528.7 1118.3,2528.7 1118.8,2528.7 1119.3,2528.7 1119.8,2528.7 1120.3,2528.7 1120.8,2528.7 1121.3,2528.7 1121.8,2528.7 1122.3,2528.7 1122.8,2528.7 1123.3,2528.7 1123.8,2528.7 1124.3,2528.7 1124.8,2528.7 1125.3,2528.7 1125.8,2528.7 1126.3,2528.7 1126.8,2528.7 1127.3,2528.7 1127.8,2528.7 1128.3,2528.7"/>
<polyline fill="none" stroke="#fd3b3b" stroke-width="6.9" stroke-linejoin="round" stroke-linecap="round" points="312.3,2529.4 312.8,2529.4 313.3,2529.4 313.8,2529.4 314.3,2529.4 314.8,2529.4 315.3,2529.4 315.8,2529.4 316.3,2529.4 316.8,2529.4 317.3,2529.4 317.8,2529.4 318.3,2529.4 318.8,2529.4 319.3,2529.4 319.8,2529.4 320.3,2529.4 320.8,2529.4 321.3,2529.4 321.8,2529.4 322.3,2529.4 322.8,2529.4 323.3,2529.4 323.8,2529.4 324.3,2529.4 324.8,2529.4 325.3,2529.4 325.8,2529.4 326.3,2529.4 326.8,2529.4 327.3,2529.4 327.8,2529.4 328.3,2529.4 328.8,2529.4 329.3,2529.4 329.8,2529.4 330.3,2529.4 330.8,2529.4 331.3,2529.4 331.8,2529.4 332.3,2529.4 332.8,2529.4 333.3,2529.4 333.8,2529.4 334.3,2529.4 334.8,2529.4 335.3,2529.3 335.8,2529.3 336.3,2529.2 336.8,2529.1 337.3,2529.0 337.8,2528.8 338.3,2528.6 338.8,2528.2 339.3,2527.7 339.8,2527.0 340.3,2526.1 340.8,2525.0 341.3,2523.5 341.8,2521.7 342.3,2519.5 342.8,2516.9 343.3,2513.8 343.8,2510.4 344.3,2506.5 344.8,2502.5 345.3,2498.1 345.8,2493.7 346.3,2489.2 346.8,2484.9 347.3,2480.9 347.8,2477.4 348.3,2474.5 348.8,2472.4 349.3,2471.2 349.8,2470.9 350.3,2471.6 350.8,2473.2 351.3,2475.6 351.8,2478.7 352.3,2482.4 352.8,2486.6 353.3,2491.0 353.8,2495.5 354.3,2499.9 354.8,2504.1 355.3,2508.1 355.8,2511.8 356.3,2515.1 356.8,2518.0 357.3,2520.4 357.8,2522.5 358.3,2524.1 358.8,2525.5 359.3,2526.5 359.8,2527.3 360.3,2527.9 360.8,2528.4 361.3,2528.7 361.8,2528.9 362.3,2529.1 362.8,2529.2 363.3,2529.3 363.8,2529.3 364.3,2529.3 364.8,2529.4 365.3,2529.4 365.8,2529.4 366.3,2529.4 366.8,2529.4 367.3,2529.4 367.8,2529.4 368.3,2529.4 368.8,2529.4 369.3,2529.4 369.8,2529.4 370.3,2529.4 370.8,2529.4 371.3,2529.4 371.8,2529.4 372.3,2529.4 372.8,2529.4 373.3,2529.4 373.8,2529.4 374.3,2529.4 374.8,2529.4 375.3,2529.4 375.8,2529.4 376.3,2529.4 376.8,2529.4 377.3,2529.4 377.8,2529.4 378.3,2529.4 378.8,2529.4 379.3,2529.4 379.8,2529.4 380.3,2529.4 380.8,2529.4 381.3,2529.4 381.8,2529.4 382.3,2529.4 382.8,2529.4 383.3,2529.4 383.8,2529.4 384.3,2529.4 384.8,2529.4 385.3,2529.4 385.8,2529.4 386.3,2529.4 386.8,2529.4 387.3,2529.4 387.8,2529.4 388.3,2529.4 388.8,2529.4 389.3,2529.4 389.8,2529.4 390.3,2529.4 390.8,2529.4 391.3,2529.4 391.8,2529.4 392.3,2529.4 392.8,2529.4 393.3,2529.4 393.8,2529.4 394.3,2529.4 394.8,2529.4 395.3,2529.4 395.8,2529.4 396.3,2529.4 396.8,2529.4 397.3,2529.4 397.8,2529.4 398.3,2529.4 398.8,2529.4 399.3,2529.4 399.8,2529.3 400.3,2529.3 400.8,2529.3 401.3,2529.3 401.8,2529.3 402.3,2529.3 402.8,2529.3 403.3,2529.3 403.8,2529.2 404.3,2529.2 404.8,2529.2 405.3,2529.2 405.8,2529.1 406.3,2529.1 406.8,2529.1 407.3,2529.0 407.8,2529.0 408.3,2529.0 408.8,2528.9 409.3,2528.9 409.8,2528.8 410.3,2528.8 410.8,2528.7 411.3,2528.7 411.8,2528.6 412.3,2528.5 412.8,2528.5 413.3,2528.4 413.8,2528.3 414.3,2528.3 414.8,2528.2 415.3,2528.1 415.8,2528.1 416.3,2528.0 416.8,2527.9 417.3,2527.9 417.8,2527.8 418.3,2527.7 418.8,2527.7 419.3,2527.6 419.8,2527.6 420.3,2527.5 420.8,2527.5 421.3,2527.5 421.8,2527.4 422.3,2527.4 422.8,2527.4 423.3,2527.4 423.8,2527.4 424.3,2527.4 424.8,2527.4 425.3,2527.4 425.8,2527.4 426.3,2527.4 426.8,2527.5 427.3,2527.5 427.8,2527.5 428.3,2527.6 428.8,2527.6 429.3,2527.7 429.8,2527.8 430.3,2527.8 430.8,2527.9 431.3,2527.9 431.8,2528.0 432.3,2528.1 432.8,2528.1 433.3,2528.2 433.8,2528.3 434.3,2528.3 434.8,2528.4 435.3,2528.5 435.8,2528.5 436.3,2528.6 436.8,2528.7 437.3,2528.7 437.8,2528.8 438.3,2528.8 438.8,2528.9 439.3,2528.9 439.8,2529.0 440.3,2529.0 440.8,2529.0 441.3,2529.1 441.8,2529.1 442.3,2529.1 442.8,2529.2 443.3,2529.2 443.8,2529.2 444.3,2529.2 444.8,2529.2 445.3,2529.1 445.8,2529.0 446.3,2528.9 446.8,2528.7 447.3,2528.5 447.8,2528.1 448.3,2527.5 448.8,2526.7 449.3,2525.6 449.8,2524.2 450.3,2522.3 450.8,2519.9 451.3,2517.0 451.8,2513.3 452.3,2508.9 452.8,2503.9 453.3,2498.1 453.8,2491.7 454.3,2484.6 454.8,2476.9 455.3,2469.0 455.8,2460.9 456.3,2453.0 456.8,2445.6 457.3,2438.9 457.8,2433.3 458.3,2429.0 458.8,2426.1 459.3,2424.9 459.8,2425.4 460.3,2427.6 460.8,2431.4 461.3,2436.5 461.8,2442.8 462.3,2450.0 462.8,2457.7 463.3,2465.7 463.8,2473.8 464.3,2481.6 464.8,2488.9 465.3,2495.6 465.8,2501.7 466.3,2507.0 466.8,2511.6 467.3,2515.6 467.8,2518.8 468.3,2521.5 468.8,2523.5 469.3,2525.1 469.8,2526.3 470.3,2527.2 470.8,2527.9 471.3,2528.4 471.8,2528.7 472.3,2528.9 472.8,2529.1 473.3,2529.2 473.8,2529.3 474.3,2529.3 474.8,2529.4 475.3,2529.4 475.8,2529.4 476.3,2529.4 476.8,2529.4 477.3,2529.4 477.8,2529.4 478.3,2529.4 478.8,2529.4 479.3,2529.4 479.8,2529.4 480.3,2529.4 480.8,2529.4 481.3,2529.4 481.8,2529.4 482.3,2529.4 482.8,2529.4 483.3,2529.4 483.8,2529.4 484.3,2529.4 484.8,2529.4 485.3,2529.4 485.8,2529.4 486.3,2529.4 486.8,2529.4 487.3,2529.4 487.8,2529.3 488.3,2529.3 488.8,2529.3 489.3,2529.2 489.8,2529.1 490.3,2528.9 490.8,2528.6 491.3,2528.2 491.8,2527.7 492.3,2526.9 492.8,2525.9 493.3,2524.5 493.8,2522.7 494.3,2520.4 494.8,2517.4 495.3,2513.7 495.8,2509.2 496.3,2504.0 496.8,2498.0 497.3,2491.1 497.8,2483.5 498.3,2475.1 498.8,2466.3 499.3,2457.1 499.8,2448.0 500.3,2439.2 500.8,2431.1 501.3,2423.9 501.8,2418.1 502.3,2413.8 502.8,2411.3 503.3,2410.7 503.8,2412.1 504.3,2415.3 504.8,2420.2 505.3,2426.6 505.8,2434.2 506.3,2442.7 506.8,2451.6 507.3,2460.8 507.8,2469.8 508.3,2478.5 508.8,2486.6 509.3,2494.0 509.8,2500.5 510.3,2506.2 510.8,2511.1 511.3,2515.3 511.8,2518.7 512.3,2521.4 512.8,2523.5 513.3,2525.1 513.8,2526.4 514.3,2527.3 514.8,2527.9 515.3,2528.4 515.8,2528.7 516.3,2529.0 516.8,2529.1 517.3,2529.2 517.8,2529.3 518.3,2529.3 518.8,2529.4 519.3,2529.4 519.8,2529.4 520.3,2529.4 520.8,2529.4 521.3,2529.4 521.8,2529.4 522.3,2529.4 522.8,2529.4 523.3,2529.4 523.8,2529.4 524.3,2529.4 524.8,2529.4 525.3,2529.4 525.8,2529.4 526.3,2529.4 526.8,2529.4 527.3,2529.4 527.8,2529.4 528.3,2529.4 528.8,2529.4 529.3,2529.4 529.8,2529.4 530.3,2529.4 530.8,2529.4 531.3,2529.4 531.8,2529.4 532.3,2529.4 532.8,2529.4 533.3,2529.4 533.8,2529.4 534.3,2529.4 534.8,2529.4 535.3,2529.4 535.8,2529.4 536.3,2529.4 536.8,2529.4 537.3,2529.4 537.8,2529.4 538.3,2529.4 538.8,2529.4 539.3,2529.4 539.8,2529.4 540.3,2529.4 540.8,2529.4 541.3,2529.4 541.8,2529.3 542.3,2529.3 542.8,2529.2 543.3,2529.1 543.8,2529.0 544.3,2528.8 544.8,2528.6 545.3,2528.2 545.8,2527.8 546.3,2527.2 546.8,2526.4 547.3,2525.5 547.8,2524.3 548.3,2522.9 548.8,2521.3 549.3,2519.4 549.8,2517.3 550.3,2515.0 550.8,2512.5 551.3,2509.9 551.8,2507.3 552.3,2504.8 552.8,2502.4 553.3,2500.3 553.8,2498.5 554.3,2497.2 554.8,2496.3 555.3,2495.9 555.8,2496.1 556.3,2496.8 556.8,2497.9 557.3,2499.6 557.8,2501.6 558.3,2503.8 558.8,2506.3 559.3,2508.8 559.8,2511.4 560.3,2514.0 560.8,2516.4 561.3,2518.6 561.8,2520.6 562.3,2522.3 562.8,2523.8 563.3,2525.0 563.8,2526.1 564.3,2526.9 564.8,2527.5 565.3,2528.0 565.8,2528.4 566.3,2528.7 566.8,2528.9 567.3,2529.1 567.8,2529.2 568.3,2529.3 568.8,2529.3 569.3,2529.3 569.8,2529.4 570.3,2529.4 570.8,2529.4 571.3,2529.4 571.8,2529.4 572.3,2529.4 572.8,2529.4 573.3,2529.4 573.8,2529.4 574.3,2529.4 574.8,2529.4 575.3,2529.4 575.8,2529.4 576.3,2529.4 576.8,2529.4 577.3,2529.4 577.8,2529.4 578.3,2529.4 578.8,2529.4 579.3,2529.4 579.8,2529.4 580.3,2529.4 580.8,2529.4 581.3,2529.4 581.8,2529.4 582.3,2529.4 582.8,2529.4 583.3,2529.4 583.8,2529.4 584.3,2529.4 584.8,2529.4 585.3,2529.4 585.8,2529.4 586.3,2529.4 586.8,2529.4 587.3,2529.4 587.8,2529.4 588.3,2529.4 588.8,2529.4 589.3,2529.4 589.8,2529.4 590.3,2529.4 590.8,2529.4 591.3,2529.4 591.8,2529.4 592.3,2529.4 592.8,2529.4 593.3,2529.4 593.8,2529.4 594.3,2529.4 594.8,2529.4 595.3,2528.7 595.8,2528.7 596.3,2528.7 596.8,2528.7 597.3,2528.7 597.8,2528.7 598.3,2528.7 598.8,2528.7 599.3,2528.7 599.8,2528.7 600.3,2528.7 600.8,2528.7 601.3,2528.6 601.8,2528.4 602.3,2528.0 602.8,2527.3 603.3,2526.5 603.8,2525.5 604.3,2524.4 604.8,2523.0 605.3,2521.6 605.8,2519.9 606.3,2518.1 606.8,2515.2 607.3,2510.6 607.8,2504.8 608.3,2497.8 608.8,2489.6 609.3,2480.4 609.8,2467.1 610.3,2448.3 610.8,2426.5 611.3,2403.1 611.8,2375.5 612.3,2345.7 612.8,2314.4 613.3,2281.5 613.8,2256.6 614.3,2236.4 614.8,2225.6 615.3,2218.2 615.8,2212.4 616.3,2208.8 616.8,2207.8 617.3,2209.3 617.8,2212.2 618.3,2215.6 618.8,2218.8 619.3,2220.9 619.8,2221.1 620.3,2219.0 620.8,2215.0 621.3,2209.3 621.8,2202.3 622.3,2194.4 622.8,2185.1 623.3,2168.9 623.8,2148.4 624.3,2127.8 624.8,2107.3 625.3,2083.3 625.8,2061.7 626.3,2048.8 626.8,2048.7 627.3,2055.8 627.8,2068.0 628.3,2084.3 628.8,2103.4 629.3,2124.1 629.8,2155.6 630.3,2197.7 630.8,2235.6 631.3,2267.4 631.8,2297.6 632.3,2327.6 632.8,2360.2 633.3,2394.9 633.8,2425.2 634.3,2445.6 634.8,2461.8 635.3,2475.4 635.8,2485.6 636.3,2491.9 636.8,2496.4 637.3,2500.5 637.8,2503.9 638.3,2506.5 638.8,2508.1 639.3,2508.7 639.8,2507.7 640.3,2505.1 640.8,2501.3 641.3,2496.6 641.8,2491.4 642.3,2486.2 642.8,2481.3 643.3,2476.6 643.8,2471.4 644.3,2465.8 644.8,2460.3 645.3,2455.1 645.8,2450.6 646.3,2446.8 646.8,2443.1 647.3,2439.6 647.8,2436.4 648.3,2433.7 648.8,2431.4 649.3,2429.8 649.8,2428.5 650.3,2427.2 650.8,2426.0 651.3,2425.1 651.8,2424.4 652.3,2423.9 652.8,2423.8 653.3,2424.1 653.8,2424.6 654.3,2425.3 654.8,2426.3 655.3,2427.3 655.8,2428.3 656.3,2429.3 656.8,2430.2 657.3,2430.9 657.8,2431.4 658.3,2431.7 658.8,2432.0 659.3,2432.2 659.8,2432.4 660.3,2432.6 660.8,2432.8 661.3,2433.1 661.8,2433.4 662.3,2433.8 662.8,2434.3 663.3,2435.3 663.8,2437.0 664.3,2439.4 664.8,2442.1 665.3,2445.2 665.8,2448.4 666.3,2452.1 666.8,2457.0 667.3,2462.7 667.8,2468.5 668.3,2474.0 668.8,2478.4 669.3,2481.5 669.8,2484.0 670.3,2486.3 670.8,2488.4 671.3,2490.3 671.8,2492.1 672.3,2493.7 672.8,2495.2 673.3,2496.6 673.8,2498.0 674.3,2499.3 674.8,2500.6 675.3,2501.8 675.8,2503.1 676.3,2504.2 676.8,2505.4 677.3,2506.4 677.8,2507.5 678.3,2508.4 678.8,2509.3 679.3,2510.2 679.8,2510.9 680.3,2511.6 680.8,2512.3 681.3,2512.8 681.8,2513.4 682.3,2514.0 682.8,2514.6 683.3,2515.1 683.8,2515.7 684.3,2516.1 684.8,2516.6 685.3,2517.0 685.8,2517.3 686.3,2517.6 686.8,2517.8 687.3,2518.0 687.8,2518.0 688.3,2518.0 688.8,2517.8 689.3,2517.6 689.8,2517.3 690.3,2516.9 690.8,2516.4 691.3,2515.8 691.8,2515.2 692.3,2514.6 692.8,2513.9 693.3,2513.3 693.8,2512.6 694.3,2511.9 694.8,2511.0 695.3,2510.0 695.8,2508.8 696.3,2507.5 696.8,2506.2 697.3,2504.8 697.8,2503.4 698.3,2502.1 698.8,2500.9 699.3,2499.7 699.8,2498.7 700.3,2497.6 700.8,2496.5 701.3,2495.3 701.8,2494.1 702.3,2493.0 702.8,2492.0 703.3,2491.0 703.8,2490.1 704.3,2489.4 704.8,2488.9 705.3,2488.5 705.8,2488.4 706.3,2488.5 706.8,2488.7 707.3,2489.1 707.8,2489.6 708.3,2490.2 708.8,2490.9 709.3,2491.6 709.8,2492.3 710.3,2493.0 710.8,2493.7 711.3,2494.4 711.8,2495.2 712.3,2496.2 712.8,2497.2 713.3,2498.2 713.8,2499.3 714.3,2500.2 714.8,2501.0 715.3,2501.7 715.8,2502.2 716.3,2502.4 716.8,2502.6 717.3,2502.7 717.8,2502.7 718.3,2502.8 718.8,2502.9 719.3,2502.9 719.8,2503.0 720.3,2503.0 720.8,2503.1 721.3,2503.1 721.8,2503.2 722.3,2503.2 722.8,2503.3 723.3,2503.4 723.8,2503.6 724.3,2503.8 724.8,2504.2 725.3,2504.8 725.8,2505.4 726.3,2506.0 726.8,2506.7 727.3,2507.5 727.8,2508.2 728.3,2508.8 728.8,2509.5 729.3,2510.0 729.8,2510.4 730.3,2510.7 730.8,2510.9 731.3,2510.9 731.8,2510.9 732.3,2510.9 732.8,2510.9 733.3,2510.9 733.8,2510.9 734.3,2510.9 734.8,2510.9 735.3,2510.9 735.8,2510.9 736.3,2510.9 736.8,2510.9 737.3,2510.9 737.8,2510.9 738.3,2510.9 738.8,2510.9 739.3,2510.9 739.8,2510.9 740.3,2510.9 740.8,2510.9 741.3,2510.9 741.8,2510.9 742.3,2510.8 742.8,2510.7 743.3,2510.5 743.8,2510.4 744.3,2510.1 744.8,2509.9 745.3,2509.6 745.8,2509.4 746.3,2509.1 746.8,2508.8 747.3,2508.4 747.8,2508.1 748.3,2507.8 748.8,2507.5 749.3,2507.2 749.8,2506.9 750.3,2506.7 750.8,2506.4 751.3,2506.2 751.8,2506.0 752.3,2505.9 752.8,2505.7 753.3,2505.6 753.8,2505.6 754.3,2505.6 754.8,2505.6 755.3,2505.7 755.8,2505.8 756.3,2505.9 756.8,2506.0 757.3,2506.1 757.8,2506.3 758.3,2506.4 758.8,2506.5 759.3,2506.5 759.8,2506.6 760.3,2506.6 760.8,2506.5 761.3,2506.4 761.8,2506.1 762.3,2505.9 762.8,2505.6 763.3,2505.3 763.8,2505.0 764.3,2504.8 764.8,2504.6 765.3,2504.5 765.8,2504.5 766.3,2504.6 766.8,2504.9 767.3,2505.2 767.8,2505.5 768.3,2506.0 768.8,2506.4 769.3,2507.0 769.8,2507.5 770.3,2508.1 770.8,2508.7 771.3,2509.3 771.8,2509.8 772.3,2510.4 772.8,2510.9 773.3,2511.4 773.8,2511.9 774.3,2512.4 774.8,2512.9 775.3,2513.4 775.8,2514.0 776.3,2514.5 776.8,2515.1 777.3,2515.6 777.8,2516.2 778.3,2516.7 778.8,2517.2 779.3,2517.7 779.8,2518.2 780.3,2518.7 780.8,2519.2 781.3,2519.7 781.8,2520.1 782.3,2520.6 782.8,2521.0 783.3,2521.5 783.8,2521.9 784.3,2522.4 784.8,2522.8 785.3,2523.3 785.8,2523.7 786.3,2524.1 786.8,2524.5 787.3,2524.8 787.8,2525.2 788.3,2525.5 788.8,2525.7 789.3,2526.0 789.8,2526.2 790.3,2526.4 790.8,2526.6 791.3,2526.7 791.8,2526.9 792.3,2527.1 792.8,2527.3 793.3,2527.4 793.8,2527.6 794.3,2527.7 794.8,2527.8 795.3,2528.0 795.8,2528.1 796.3,2528.1 796.8,2528.2 797.3,2528.2 797.8,2528.3 798.3,2528.3 798.8,2528.2 799.3,2528.2 799.8,2528.1 800.3,2527.9 800.8,2527.8 801.3,2527.6 801.8,2527.5 802.3,2527.3 802.8,2527.1 803.3,2526.9 803.8,2526.7 804.3,2526.5 804.8,2526.4 805.3,2526.2 805.8,2526.0 806.3,2525.9 806.8,2525.8 807.3,2525.7 807.8,2525.6 808.3,2525.6 808.8,2525.6 809.3,2525.6 809.8,2525.6 810.3,2525.7 810.8,2525.8 811.3,2525.9 811.8,2526.0 812.3,2526.2 812.8,2526.3 813.3,2526.5 813.8,2526.6 814.3,2526.8 814.8,2526.9 815.3,2527.0 815.8,2527.2 816.3,2527.3 816.8,2527.4 817.3,2527.4 817.8,2527.5 818.3,2527.5 818.8,2527.5 819.3,2527.4 819.8,2527.0 820.3,2526.5 820.8,2525.9 821.3,2525.0 821.8,2524.0 822.3,2522.9 822.8,2521.5 823.3,2520.1 823.8,2518.4 824.3,2516.7 824.8,2513.5 825.3,2508.1 825.8,2500.9 826.3,2492.3 826.8,2482.6 827.3,2471.8 827.8,2456.6 828.3,2437.9 828.8,2417.4 829.3,2396.4 829.8,2372.3 830.3,2347.0 830.8,2323.5 831.3,2303.0 831.8,2283.4 832.3,2265.6 832.8,2250.5 833.3,2238.0 833.8,2226.5 834.3,2216.6 834.8,2208.6 835.3,2202.9 835.8,2197.9 836.3,2193.7 836.8,2191.2 837.3,2190.9 837.8,2193.5 838.3,2198.1 838.8,2204.1 839.3,2210.6 839.8,2217.0 840.3,2222.9 840.8,2229.7 841.3,2237.0 841.8,2244.1 842.3,2250.5 842.8,2255.6 843.3,2259.2 843.8,2262.1 844.3,2264.5 844.8,2266.6 845.3,2268.6 845.8,2270.4 846.3,2272.4 846.8,2274.7 847.3,2277.4 847.8,2280.7 848.3,2285.0 848.8,2291.1 849.3,2298.7 849.8,2307.2 850.3,2316.0 850.8,2324.5 851.3,2332.2 851.8,2338.9 852.3,2345.3 852.8,2351.5 853.3,2357.5 853.8,2363.4 854.3,2369.3 854.8,2375.2 855.3,2381.2 855.8,2387.1 856.3,2393.1 856.8,2399.0 857.3,2404.8 857.8,2410.5 858.3,2416.0 858.8,2421.5 859.3,2427.0 859.8,2432.7 860.3,2438.4 860.8,2443.9 861.3,2449.0 861.8,2453.8 862.3,2458.0 862.8,2461.6 863.3,2464.6 863.8,2467.6 864.3,2470.6 864.8,2473.4 865.3,2476.0 865.8,2478.3 866.3,2480.3 866.8,2481.9 867.3,2483.0 867.8,2483.5 868.3,2483.5 868.8,2483.1 869.3,2482.3 869.8,2481.2 870.3,2479.9 870.8,2478.4 871.3,2476.7 871.8,2474.9 872.3,2473.0 872.8,2471.1 873.3,2469.2 873.8,2467.5 874.3,2465.8 874.8,2464.3 875.3,2463.0 875.8,2462.0 876.3,2461.1 876.8,2460.1 877.3,2459.2 877.8,2458.2 878.3,2457.3 878.8,2456.4 879.3,2455.5 879.8,2454.8 880.3,2454.1 880.8,2453.5 881.3,2453.0 881.8,2452.6 882.3,2452.3 882.8,2452.2 883.3,2452.5 883.8,2453.4 884.3,2455.0 884.8,2457.0 885.3,2459.4 885.8,2461.8 886.3,2464.3 886.8,2466.6 887.3,2468.7 887.8,2471.1 888.3,2473.7 888.8,2476.5 889.3,2479.1 889.8,2481.6 890.3,2483.7 890.8,2485.4 891.3,2486.3 891.8,2486.7 892.3,2487.0 892.8,2487.3 893.3,2487.5 893.8,2487.6 894.3,2487.8 894.8,2487.9 895.3,2488.0 895.8,2488.1 896.3,2488.3 896.8,2488.4 897.3,2488.6 897.8,2488.8 898.3,2489.1 898.8,2489.5 899.3,2490.0 899.8,2490.8 900.3,2491.8 900.8,2492.9 901.3,2494.1 901.8,2495.5 902.3,2496.8 902.8,2498.2 903.3,2499.6 903.8,2501.0 904.3,2502.2 904.8,2503.3 905.3,2504.3 905.8,2505.2 906.3,2505.9 906.8,2506.7 907.3,2507.5 907.8,2508.3 908.3,2509.0 908.8,2509.7 909.3,2510.4 909.8,2511.0 910.3,2511.5 910.8,2511.9 911.3,2512.2 911.8,2512.3 912.3,2512.3 912.8,2511.9 913.3,2511.4 913.8,2510.6 914.3,2509.6 914.8,2508.6 915.3,2507.4 915.8,2506.2 916.3,2505.0 916.8,2503.8 917.3,2502.7 917.8,2501.7 918.3,2500.8 918.8,2500.1 919.3,2499.6 919.8,2499.3 920.3,2499.3 920.8,2499.4 921.3,2499.7 921.8,2500.0 922.3,2500.4 922.8,2500.8 923.3,2501.3 923.8,2501.8 924.3,2502.4 924.8,2502.9 925.3,2503.4 925.8,2503.9 926.3,2504.4 926.8,2504.8 927.3,2505.1 927.8,2505.5 928.3,2505.8 928.8,2506.1 929.3,2506.4 929.8,2506.7 930.3,2507.0 930.8,2507.3 931.3,2507.6 931.8,2507.9 932.3,2508.2 932.8,2508.5 933.3,2508.8 933.8,2509.1 934.3,2509.3 934.8,2509.6 935.3,2509.9 935.8,2510.2 936.3,2510.4 936.8,2510.7 937.3,2511.0 937.8,2511.2 938.3,2511.5 938.8,2511.7 939.3,2512.0 939.8,2512.2 940.3,2512.5 940.8,2512.7 941.3,2513.0 941.8,2513.3 942.3,2513.5 942.8,2513.8 943.3,2514.1 943.8,2514.3 944.3,2514.6 944.8,2514.9 945.3,2515.1 945.8,2515.4 946.3,2515.6 946.8,2515.8 947.3,2516.1 947.8,2516.3 948.3,2516.5 948.8,2516.6 949.3,2516.8 949.8,2517.0 950.3,2517.1 950.8,2517.2 951.3,2517.3 951.8,2517.3 952.3,2517.4 952.8,2517.5 953.3,2517.5 953.8,2517.6 954.3,2517.7 954.8,2517.7 955.3,2517.8 955.8,2517.8 956.3,2517.9 956.8,2517.9 957.3,2518.0 957.8,2518.0 958.3,2518.0 958.8,2518.1 959.3,2518.1 959.8,2518.1 960.3,2518.2 960.8,2518.2 961.3,2518.2 961.8,2518.2 962.3,2518.2 962.8,2518.2 963.3,2518.2 963.8,2518.1 964.3,2518.0 964.8,2517.8 965.3,2517.6 965.8,2517.4 966.3,2517.2 966.8,2516.9 967.3,2516.6 967.8,2516.4 968.3,2516.1 968.8,2515.9 969.3,2515.7 969.8,2515.5 970.3,2515.4 970.8,2515.3 971.3,2515.2 971.8,2515.2 972.3,2515.3 972.8,2515.4 973.3,2515.5 973.8,2515.6 974.3,2515.8 974.8,2515.9 975.3,2516.1 975.8,2516.4 976.3,2516.6 976.8,2516.8 977.3,2517.1 977.8,2517.3 978.3,2517.6 978.8,2517.8 979.3,2518.1 979.8,2518.4 980.3,2518.6 980.8,2518.8 981.3,2519.1 981.8,2519.3 982.3,2519.5 982.8,2519.6 983.3,2519.8 983.8,2520.0 984.3,2520.1 984.8,2520.3 985.3,2520.5 985.8,2520.7 986.3,2520.8 986.8,2521.0 987.3,2521.2 987.8,2521.4 988.3,2521.5 988.8,2521.7 989.3,2521.8 989.8,2522.0 990.3,2522.1 990.8,2522.2 991.3,2522.3 991.8,2522.4 992.3,2522.5 992.8,2522.6 993.3,2522.6 993.8,2522.7 994.3,2522.7 994.8,2522.6 995.3,2522.5 995.8,2522.3 996.3,2522.1 996.8,2521.8 997.3,2521.4 997.8,2521.1 998.3,2520.7 998.8,2520.3 999.3,2519.9 999.8,2519.5 1000.3,2519.2 1000.8,2518.9 1001.3,2518.6 1001.8,2518.4 1002.3,2518.3 1002.8,2518.2 1003.3,2518.2 1003.8,2518.3 1004.3,2518.3 1004.8,2518.4 1005.3,2518.5 1005.8,2518.6 1006.3,2518.7 1006.8,2518.8 1007.3,2518.9 1007.8,2519.0 1008.3,2519.2 1008.8,2519.3 1009.3,2519.4 1009.8,2519.6 1010.3,2519.7 1010.8,2519.8 1011.3,2519.9 1011.8,2520.0 1012.3,2520.1 1012.8,2520.2 1013.3,2520.2 1013.8,2520.3 1014.3,2520.3 1014.8,2520.3 1015.3,2520.2 1015.8,2520.1 1016.3,2520.0 1016.8,2519.9 1017.3,2519.7 1017.8,2519.5 1018.3,2519.3 1018.8,2519.1 1019.3,2518.9 1019.8,2518.6 1020.3,2518.4 1020.8,2518.1 1021.3,2517.8 1021.8,2517.6 1022.3,2517.3 1022.8,2517.0 1023.3,2516.8 1023.8,2516.6 1024.3,2516.3 1024.8,2516.1 1025.3,2515.9 1025.8,2515.7 1026.3,2515.6 1026.8,2515.4 1027.3,2515.3 1027.8,2515.3 1028.3,2515.2 1028.8,2515.2 1029.3,2515.3 1029.8,2515.4 1030.3,2515.5 1030.8,2515.7 1031.3,2515.9 1031.8,2516.2 1032.3,2516.4 1032.8,2516.7 1033.3,2517.0 1033.8,2517.2 1034.3,2517.5 1034.8,2517.7 1035.3,2517.9 1035.8,2518.0 1036.3,2518.1 1036.8,2518.2 1037.3,2518.2 1037.8,2518.2 1038.3,2518.2 1038.8,2518.2 1039.3,2518.1 1039.8,2518.1 1040.3,2518.0 1040.8,2518.0 1041.3,2517.9 1041.8,2517.9 1042.3,2517.8 1042.8,2517.8 1043.3,2517.7 1043.8,2517.6 1044.3,2517.6 1044.8,2517.5 1045.3,2517.5 1045.8,2517.4 1046.3,2517.4 1046.8,2517.4 1047.3,2517.3 1047.8,2517.3 1048.3,2517.3 1048.8,2517.3 1049.3,2517.3 1049.8,2517.4 1050.3,2517.6 1050.8,2517.7 1051.3,2517.9 1051.8,2518.1 1052.3,2518.4 1052.8,2518.6 1053.3,2518.9 1053.8,2519.2 1054.3,2519.5 1054.8,2519.9 1055.3,2520.2 1055.8,2520.5 1056.3,2520.8 1056.8,2521.1 1057.3,2521.4 1057.8,2521.6 1058.3,2521.9 1058.8,2522.1 1059.3,2522.3 1059.8,2522.4 1060.3,2522.6 1060.8,2522.6 1061.3,2522.7 1061.8,2522.7 1062.3,2522.6 1062.8,2522.5 1063.3,2522.4 1063.8,2522.3 1064.3,2522.2 1064.8,2522.0 1065.3,2521.9 1065.8,2521.7 1066.3,2521.5 1066.8,2521.3 1067.3,2521.2 1067.8,2521.0 1068.3,2520.8 1068.8,2520.7 1069.3,2520.6 1069.8,2520.5 1070.3,2520.4 1070.8,2520.3 1071.3,2520.3 1071.8,2520.3 1072.3,2520.3 1072.8,2520.3 1073.3,2520.3 1073.8,2520.3 1074.3,2520.3 1074.8,2520.3 1075.3,2520.3 1075.8,2520.4 1076.3,2520.4 1076.8,2520.4 1077.3,2520.4 1077.8,2520.4 1078.3,2520.4 1078.8,2520.5 1079.3,2520.5 1079.8,2520.5 1080.3,2520.5 1080.8,2520.6 1081.3,2520.6 1081.8,2520.6 1082.3,2520.7 1082.8,2520.7 1083.3,2520.8 1083.8,2520.8 1084.3,2520.8 1084.8,2520.9 1085.3,2520.9 1085.8,2521.0 1086.3,2521.0 1086.8,2521.1 1087.3,2521.2 1087.8,2521.3 1088.3,2521.6 1088.8,2522.0 1089.3,2522.4 1089.8,2522.9 1090.3,2523.4 1090.8,2524.0 1091.3,2524.6 1091.8,2525.1 1092.3,2525.6 1092.8,2526.1 1093.3,2526.5 1093.8,2526.8 1094.3,2527.0 1094.8,2527.2 1095.3,2527.3 1095.8,2527.5 1096.3,2527.6 1096.8,2527.8 1097.3,2527.9 1097.8,2528.0 1098.3,2528.1 1098.8,2528.2 1099.3,2528.3 1099.8,2528.4 1100.3,2528.5 1100.8,2528.6 1101.3,2528.6 1101.8,2528.6 1102.3,2528.7 1102.8,2528.7 1103.3,2528.7 1103.8,2528.7 1104.3,2528.7 1104.8,2528.7 1105.3,2528.7 1105.8,2528.7 1106.3,2528.7 1106.8,2528.7 1107.3,2528.7 1107.8,2528.7 1108.3,2528.7 1108.8,2528.7 1109.3,2528.7 1109.8,2528.7 1110.3,2528.7 1110.8,2528.7 1111.3,2528.7 1111.8,2528.7 1112.3,2528.7 1112.8,2528.7 1113.3,2528.7 1113.8,2528.7 1114.3,2528.7 1114.8,2528.7 1115.3,2528.7 1115.8,2528.7 1116.3,2528.7 1116.8,2528.7 1117.3,2528.7 1117.8,2528.7 1118.3,2528.7 1118.8,2528.7 1119.3,2528.7 1119.8,2528.7 1120.3,2528.7 1120.8,2528.7 1121.3,2528.7 1121.8,2528.7 1122.3,2528.7 1122.8,2528.7 1123.3,2528.7 1123.8,2528.7 1124.3,2528.7 1124.8,2528.7 1125.3,2528.7 1125.8,2528.7 1126.3,2528.7 1126.8,2528.7 1127.3,2528.7 1127.8,2528.7 1128.3,2528.7"/>
</g>
<g id="dots" stroke="#000" fill="none">
<line x1="668.5" y1="1743" x2="668.5" y2="2592" stroke-width="3" stroke-dasharray="5 14.55" stroke-dashoffset="1.55"/>
<line x1="705" y1="1731" x2="705" y2="2592" stroke-width="4.2" stroke-dasharray="6 13.55" stroke-dashoffset="19.10"/>
</g>
<g id="axes" stroke="#000" fill="none" stroke-linecap="butt">
<line x1="185.5" y1="23.4" x2="185.5" y2="879.7" stroke-width="5.2"/>
<line x1="1250.15" y1="23.4" x2="1250.15" y2="879.7" stroke-width="5.9"/>
<line x1="177.5" y1="879.7" x2="185.5" y2="879.7" stroke-width="5.4"/>
<line x1="170.0" y1="818.5" x2="185.5" y2="818.5" stroke-width="5.4"/>
<line x1="177.5" y1="757.3" x2="185.5" y2="757.3" stroke-width="5.4"/>
<line x1="170.0" y1="696.2" x2="185.5" y2="696.2" stroke-width="5.4"/>
<line x1="177.5" y1="635.0" x2="185.5" y2="635.0" stroke-width="5.4"/>
<line x1="170.0" y1="573.9" x2="185.5" y2="573.9" stroke-width="5.4"/>
<line x1="177.5" y1="512.7" x2="185.5" y2="512.7" stroke-width="5.4"/>
<line x1="170.0" y1="451.6" x2="185.5" y2="451.6" stroke-width="5.4"/>
<line x1="177.5" y1="390.4" x2="185.5" y2="390.4" stroke-width="5.4"/>
<line x1="170.0" y1="329.2" x2="185.5" y2="329.2" stroke-width="5.4"/>
<line x1="177.5" y1="268.1" x2="185.5" y2="268.1" stroke-width="5.4"/>
<line x1="170.0" y1="206.9" x2="185.5" y2="206.9" stroke-width="5.4"/>
<line x1="177.5" y1="145.8" x2="185.5" y2="145.8" stroke-width="5.4"/>
<line x1="170.0" y1="84.6" x2="185.5" y2="84.6" stroke-width="5.4"/>
<line x1="177.5" y1="23.4" x2="185.5" y2="23.4" stroke-width="5.4"/>
<line x1="185.8" y1="878.7" x2="185.8" y2="1735.7" stroke-width="5.9"/>
<line x1="1250.15" y1="878.7" x2="1250.15" y2="1735.7" stroke-width="5.9"/>
<line x1="177.5" y1="1735.7" x2="185.5" y2="1735.7" stroke-width="5.4"/>
<line x1="170.0" y1="1674.5" x2="185.5" y2="1674.5" stroke-width="5.4"/>
<line x1="177.5" y1="1613.3" x2="185.5" y2="1613.3" stroke-width="5.4"/>
<line x1="170.0" y1="1552.1" x2="185.5" y2="1552.1" stroke-width="5.4"/>
<line x1="177.5" y1="1490.8" x2="185.5" y2="1490.8" stroke-width="5.4"/>
<line x1="170.0" y1="1429.6" x2="185.5" y2="1429.6" stroke-width="5.4"/>
<line x1="177.5" y1="1368.4" x2="185.5" y2="1368.4" stroke-width="5.4"/>
<line x1="170.0" y1="1307.2" x2="185.5" y2="1307.2" stroke-width="5.4"/>
<line x1="177.5" y1="1246.0" x2="185.5" y2="1246.0" stroke-width="5.4"/>
<line x1="170.0" y1="1184.8" x2="185.5" y2="1184.8" stroke-width="5.4"/>
<line x1="177.5" y1="1123.5" x2="185.5" y2="1123.5" stroke-width="5.4"/>
<line x1="170.0" y1="1062.3" x2="185.5" y2="1062.3" stroke-width="5.4"/>
<line x1="177.5" y1="1001.1" x2="185.5" y2="1001.1" stroke-width="5.4"/>
<line x1="170.0" y1="939.9" x2="185.5" y2="939.9" stroke-width="5.4"/>
<line x1="177.5" y1="878.7" x2="185.5" y2="878.7" stroke-width="5.4"/>
<line x1="185.5" y1="1732.7" x2="185.5" y2="2590.2" stroke-width="5.2"/>
<line x1="1250.15" y1="1732.7" x2="1250.15" y2="2590.2" stroke-width="5.9"/>
<line x1="177.5" y1="2590.2" x2="185.5" y2="2590.2" stroke-width="5.4"/>
<line x1="170.0" y1="2528.9" x2="185.5" y2="2528.9" stroke-width="5.4"/>
<line x1="177.5" y1="2467.7" x2="185.5" y2="2467.7" stroke-width="5.4"/>
<line x1="170.0" y1="2406.4" x2="185.5" y2="2406.4" stroke-width="5.4"/>
<line x1="177.5" y1="2345.2" x2="185.5" y2="2345.2" stroke-width="5.4"/>
<line x1="170.0" y1="2283.9" x2="185.5" y2="2283.9" stroke-width="5.4"/>
<line x1="177.5" y1="2222.7" x2="185.5" y2="2222.7" stroke-width="5.4"/>
<line x1="170.0" y1="2161.4" x2="185.5" y2="2161.4" stroke-width="5.4"/>
<line x1="177.5" y1="2100.2" x2="185.5" y2="2100.2" stroke-width="5.4"/>
<line x1="170.0" y1="2038.9" x2="185.5" y2="2038.9" stroke-width="5.4"/>
<line x1="177.5" y1="1977.7" x2="185.5" y2="1977.7" stroke-width="5.4"/>
<line x1="170.0" y1="1916.4" x2="185.5" y2="1916.4" stroke-width="5.4"/>
<line x1="177.5" y1="1855.2" x2="185.5" y2="1855.2" stroke-width="5.4"/>
<line x1="170.0" y1="1793.9" x2="185.5" y2="1793.9" stroke-width="5.4"/>
<line x1="177.5" y1="1732.7" x2="185.5" y2="1732.7" stroke-width="5.4"/>
<line x1="182.8" y1="23.2" x2="1253.1" y2="23.2" stroke-width="5.9"/>
<line x1="182.8" y1="879.9" x2="1253.1" y2="879.9" stroke-width="6.0"/>
<line x1="185.5" y1="879.9" x2="185.5" y2="893.9" stroke-width="5.6"/>
<line x1="282.3" y1="879.9" x2="282.3" y2="886.9" stroke-width="5.6"/>
<line x1="379.1" y1="879.9" x2="379.1" y2="893.9" stroke-width="5.6"/>
<line x1="475.9" y1="879.9" x2="475.9" y2="886.9" stroke-width="5.6"/>
<line x1="572.7" y1="879.9" x2="572.7" y2="893.9" stroke-width="5.6"/>
<line x1="669.5" y1="879.9" x2="669.5" y2="886.9" stroke-width="5.6"/>
<line x1="766.3" y1="879.9" x2="766.3" y2="893.9" stroke-width="5.6"/>
<line x1="863.1" y1="879.9" x2="863.1" y2="886.9" stroke-width="5.6"/>
<line x1="959.9" y1="879.9" x2="959.9" y2="893.9" stroke-width="5.6"/>
<line x1="1056.7" y1="879.9" x2="1056.7" y2="886.9" stroke-width="5.6"/>
<line x1="1153.5" y1="879.9" x2="1153.5" y2="893.9" stroke-width="5.6"/>
<line x1="1250.3" y1="879.9" x2="1250.3" y2="886.9" stroke-width="5.6"/>
<line x1="182.8" y1="1735.4" x2="1253.1" y2="1735.4" stroke-width="5.0"/>
<line x1="185.5" y1="1735.4" x2="185.5" y2="1750.7" stroke-width="5.6"/>
<line x1="282.3" y1="1735.4" x2="282.3" y2="1742.4" stroke-width="5.6"/>
<line x1="379.1" y1="1735.4" x2="379.1" y2="1750.7" stroke-width="5.6"/>
<line x1="475.9" y1="1735.4" x2="475.9" y2="1742.4" stroke-width="5.6"/>
<line x1="572.7" y1="1735.4" x2="572.7" y2="1750.7" stroke-width="5.6"/>
<line x1="669.5" y1="1735.4" x2="669.5" y2="1742.4" stroke-width="5.6"/>
<line x1="766.3" y1="1735.4" x2="766.3" y2="1750.7" stroke-width="5.6"/>
<line x1="863.1" y1="1735.4" x2="863.1" y2="1742.4" stroke-width="5.6"/>
<line x1="959.9" y1="1735.4" x2="959.9" y2="1750.7" stroke-width="5.6"/>
<line x1="1056.7" y1="1735.4" x2="1056.7" y2="1742.4" stroke-width="5.6"/>
<line x1="1153.5" y1="1735.4" x2="1153.5" y2="1750.7" stroke-width="5.6"/>
<line x1="1250.3" y1="1735.4" x2="1250.3" y2="1742.4" stroke-width="5.6"/>
<line x1="182.8" y1="2590.9" x2="1253.1" y2="2590.9" stroke-width="6.2"/>
<line x1="185.5" y1="2590.9" x2="185.5" y2="2604.9" stroke-width="5.6"/>
<line x1="282.3" y1="2590.9" x2="282.3" y2="2597.9" stroke-width="5.6"/>
<line x1="379.1" y1="2590.9" x2="379.1" y2="2604.9" stroke-width="5.6"/>
<line x1="475.9" y1="2590.9" x2="475.9" y2="2597.9" stroke-width="5.6"/>
<line x1="572.7" y1="2590.9" x2="572.7" y2="2604.9" stroke-width="5.6"/>
<line x1="669.5" y1="2590.9" x2="669.5" y2="2597.9" stroke-width="5.6"/>
<line x1="766.3" y1="2590.9" x2="766.3" y2="2604.9" stroke-width="5.6"/>
<line x1="863.1" y1="2590.9" x2="863.1" y2="2597.9" stroke-width="5.6"/>
<line x1="959.9" y1="2590.9" x2="959.9" y2="2604.9" stroke-width="5.6"/>
<line x1="1056.7" y1="2590.9" x2="1056.7" y2="2597.9" stroke-width="5.6"/>
<line x1="1153.5" y1="2590.9" x2="1153.5" y2="2604.9" stroke-width="5.6"/>
<line x1="1250.3" y1="2590.9" x2="1250.3" y2="2597.9" stroke-width="5.6"/>
</g>
<g id="ticklabels" font-family='"Liberation Sans", Arial, Helvetica, sans-serif' font-size="32" fill="#000">
<text x="159.5" y="826.6" text-anchor="end">0.0</text>
<text x="159.5" y="704.3" text-anchor="end">0.5</text>
<text x="159.5" y="582.0" text-anchor="end">1.0</text>
<text x="159.5" y="459.7" text-anchor="end">1.5</text>
<text x="159.5" y="337.3" text-anchor="end">2.0</text>
<text x="159.5" y="215.0" text-anchor="end">2.5</text>
<text x="159.5" y="92.7" text-anchor="end">3.0</text>
<text x="159.5" y="1682.6" text-anchor="end">0.0</text>
<text x="159.5" y="1560.2" text-anchor="end">0.5</text>
<text x="159.5" y="1437.7" text-anchor="end">1.0</text>
<text x="159.5" y="1315.3" text-anchor="end">1.5</text>
<text x="159.5" y="1192.9" text-anchor="end">2.0</text>
<text x="159.5" y="1070.4" text-anchor="end">2.5</text>
<text x="159.5" y="948.0" text-anchor="end">3.0</text>
<text x="159.5" y="2537.0" text-anchor="end">0.0</text>
<text x="159.5" y="2414.5" text-anchor="end">0.5</text>
<text x="159.5" y="2292.0" text-anchor="end">1.0</text>
<text x="159.5" y="2169.5" text-anchor="end">1.5</text>
<text x="159.5" y="2047.0" text-anchor="end">2.0</text>
<text x="159.5" y="1924.5" text-anchor="end">2.5</text>
<text x="159.5" y="1802.0" text-anchor="end">3.0</text>
<text x="184.7" y="2640.3" text-anchor="middle">-30</text>
<text x="378.3" y="2640.3" text-anchor="middle">-20</text>
<text x="571.9" y="2640.3" text-anchor="middle">-10</text>
<text x="766.3" y="2640.3" text-anchor="middle">0</text>
<text x="959.9" y="2640.3" text-anchor="middle">10</text>
<text x="1153.5" y="2640.3" text-anchor="middle">20</text>
</g>
<text transform="translate(683.7,2695.5) scale(1,1.04)" text-anchor="middle" font-family='"Liberation Sans", Arial, Helvetica, sans-serif' font-size="51.1" fill="#000">Energy(eV)</text>
<text transform="translate(60.1,1435) rotate(-90) scale(1,1.03)" text-anchor="middle" font-family='"Liberation Sans", Arial, Helvetica, sans-serif' font-size="51.2" fill="#000">Density of states(eV)</text>
<text x="696.3" y="2755" text-anchor="middle" font-family='"Liberation Sans", Arial, Helvetica, sans-serif' font-size="33.3" fill="#000">(b)</text>
<g id="legends">
<rect x="942.5" y="90.6" width="265.2" height="104.7" fill="#fff" stroke="#000" stroke-width="1.3"/>
<line x1="950.5" y1="119.3" x2="1038.5" y2="119.3" stroke="#4f4f4f" stroke-width="6.8" stroke-linecap="round"/>
<line x1="950.5" y1="168.3" x2="1038.5" y2="168.3" stroke="#fd3b3b" stroke-width="6.8" stroke-linecap="round"/>
<text x="1049.0" y="131.6" font-family='"Liberation Sans", Arial, Helvetica, sans-serif' font-size="39" letter-spacing="0.4" fill="#000">free S<tspan font-weight="bold">−</tspan>s</text>
<text x="1049.0" y="180.6" font-family='"Liberation Sans", Arial, Helvetica, sans-serif' font-size="39" letter-spacing="0.4" fill="#000">free S<tspan font-weight="bold">−</tspan>p</text>
<rect x="944.5" y="947.2" width="206.0" height="104.3" fill="#fff" stroke="#000" stroke-width="1.3"/>
<line x1="950.5" y1="975.6" x2="1038.1" y2="975.6" stroke="#4f4f4f" stroke-width="6.8" stroke-linecap="round"/>
<line x1="950.5" y1="1024.6" x2="1038.1" y2="1024.6" stroke="#fd3b3b" stroke-width="6.8" stroke-linecap="round"/>
<text x="1050.0" y="987.6" font-family='"Liberation Sans", Arial, Helvetica, sans-serif' font-size="39" letter-spacing="0.4" fill="#000">Cu<tspan font-weight="bold">−</tspan>s</text>
<text x="1050.0" y="1036.6" font-family='"Liberation Sans", Arial, Helvetica, sans-serif' font-size="39" letter-spacing="0.4" fill="#000">S<tspan font-weight="bold">−</tspan>s</text>
<rect x="948.4" y="1784.5" width="208.4" height="103.7" fill="#fff" stroke="none"/>
<polyline points="948.4,1888.2 948.4,1784.5 1156.8,1784.5 1156.8,1888.2" fill="none" stroke="#000" stroke-width="1.3"/>
<line x1="955.5" y1="1812.6" x2="1043.2" y2="1812.6" stroke="#4f4f4f" stroke-width="6.6" stroke-linecap="round"/>
<line x1="955.5" y1="1861.6" x2="1043.2" y2="1861.6" stroke="#fd3b3b" stroke-width="6.6" stroke-linecap="round"/>
<text x="1054.0" y="1824.9" font-family='"Liberation Sans", Arial, Helvetica, sans-serif' font-size="39" letter-spacing="0.4" fill="#000">Cu<tspan font-weight="bold">−</tspan>p</text>
<text x="1054.0" y="1873.9" font-family='"Liberation Sans", Arial, Helvetica, sans-serif' font-size="39" letter-spacing="0.4" fill="#000">S<tspan font-weight="bold">−</tspan>p</text>
</g>
<g id="annot">
<line x1="668.8" y1="2030.0" x2="614.3" y2="1973.9" stroke="#000" stroke-width="1.5"/>
<polygon points="589.7,1948.6 620.9,1967.5 607.7,1980.4" fill="#000"/>
<line x1="704.7" y1="2080.5" x2="778.1" y2="2038.7" stroke="#000" stroke-width="1.5"/>
<polygon points="808.8,2021.2 782.7,2046.7 773.5,2030.6" fill="#000"/>
<text x="498.8" y="1936.3" font-family='"Liberation Sans", Arial, Helvetica, sans-serif' font-size="39.3" letter-spacing="0.5" fill="#000">-5.03 eV</text>
<text x="774.9" y="2013.8" font-family='"Liberation Sans", Arial, Helvetica, sans-serif' font-size="39.3" letter-spacing="0.5" fill="#000">-3.16 eV</text>
</g>
</svg>
</body>
</html>
